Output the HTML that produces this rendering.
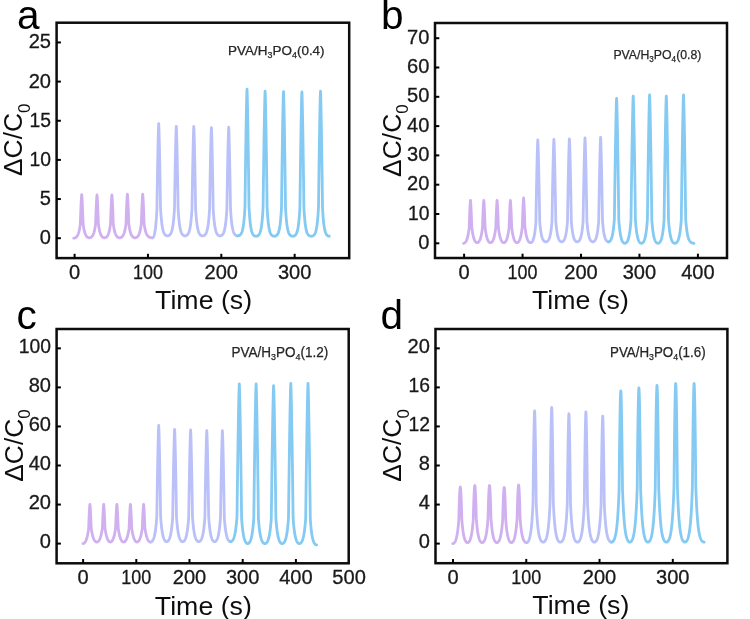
<!DOCTYPE html>
<html><head><meta charset="utf-8"><title>chart</title>
<style>
html,body{margin:0;padding:0;background:#fff;}
body{width:750px;height:619px;overflow:hidden;font-family:"Liberation Sans",sans-serif;}
</style></head><body>
<svg width="750" height="619" viewBox="0 0 750 619" style="display:block">
<defs><filter id="soft" x="0" y="0" width="100%" height="100%" filterUnits="objectBoundingBox"><feGaussianBlur stdDeviation="0.6"/></filter><filter id="soft2" x="0" y="0" width="750" height="619" filterUnits="userSpaceOnUse"><feGaussianBlur stdDeviation="0.55"/></filter></defs>
<g filter="url(#soft)">
<rect x="-5" y="-5" width="760" height="629" fill="#fff"/>
<g filter="url(#soft2)">
<path d="M73.70 238.20 L73.80 238.20 L73.90 238.19 L74.00 238.19 L74.10 238.18 L74.20 238.17 L74.30 238.15 L74.40 238.13 L74.50 238.11 L74.60 238.09 L74.70 238.06 L74.80 238.03 L74.90 237.99 L75.00 237.96 L75.10 237.92 L75.20 237.87 L75.30 237.83 L75.40 237.77 L75.50 237.72 L75.60 237.66 L75.70 237.60 L75.80 237.53 L75.90 237.46 L76.00 237.38 L76.10 237.30 L76.20 237.21 L76.30 237.12 L76.40 237.02 L76.50 236.92 L76.60 236.81 L76.70 236.70 L76.80 236.58 L76.90 236.45 L77.00 236.31 L77.10 236.17 L77.20 236.02 L77.30 235.86 L77.40 235.69 L77.50 235.52 L77.60 235.33 L77.70 235.13 L77.80 234.93 L77.90 234.71 L78.00 234.48 L78.10 234.24 L78.20 233.98 L78.30 233.72 L78.40 233.44 L78.50 233.14 L78.60 232.83 L78.70 232.50 L78.80 232.16 L78.90 231.79 L79.00 231.41 L79.10 231.01 L79.20 230.59 L79.30 230.15 L79.40 229.68 L79.50 229.19 L79.60 228.67 L79.70 228.13 L79.80 227.56 L79.90 226.96 L80.00 226.33 L80.10 225.67 L80.20 224.97 L80.30 224.24 L80.40 221.31 L80.50 218.48 L80.60 215.74 L80.70 213.09 L80.80 210.55 L80.90 208.12 L81.00 205.81 L81.10 203.63 L81.20 201.59 L81.30 199.70 L81.40 198.00 L81.50 196.52 L81.60 195.31 L81.70 194.57 L81.70 194.57 L81.80 195.30 L81.90 196.50 L82.00 197.97 L82.10 199.66 L82.20 201.53 L82.30 203.55 L82.40 205.71 L82.50 208.00 L82.60 210.41 L82.70 212.93 L82.80 215.55 L82.90 218.26 L83.00 221.07 L83.10 223.97 L83.20 224.71 L83.30 225.41 L83.40 226.08 L83.50 226.71 L83.60 227.31 L83.70 227.89 L83.80 228.43 L83.90 228.95 L84.00 229.44 L84.10 229.91 L84.20 230.35 L84.30 230.78 L84.40 231.18 L84.50 231.56 L84.60 231.93 L84.70 232.27 L84.80 232.60 L84.90 232.91 L85.00 233.21 L85.10 233.49 L85.20 233.76 L85.30 234.01 L85.40 234.25 L85.50 234.48 L85.60 234.70 L85.70 234.91 L85.80 235.10 L85.90 235.29 L86.00 235.46 L86.10 235.63 L86.20 235.79 L86.30 235.94 L86.40 236.08 L86.50 236.21 L86.60 236.34 L86.70 236.46 L86.80 236.57 L86.90 236.68 L87.00 236.78 L87.10 236.87 L87.20 236.96 L87.30 237.05 L87.40 237.12 L87.50 237.20 L87.60 237.27 L87.70 237.33 L87.80 237.39 L87.90 237.44 L88.00 237.49 L88.10 237.54 L88.20 237.58 L88.30 237.62 L88.40 237.66 L88.50 237.69 L88.60 237.71 L88.70 237.74 L88.80 237.76 L88.90 237.77 L89.00 237.79 L89.10 237.80 L89.20 237.80 L89.30 237.81 L89.35 237.81 L89.45 237.81 L89.55 237.80 L89.65 237.79 L89.75 237.78 L89.85 237.77 L89.95 237.75 L90.05 237.73 L90.15 237.70 L90.25 237.67 L90.35 237.64 L90.45 237.60 L90.55 237.56 L90.65 237.52 L90.75 237.47 L90.85 237.42 L90.95 237.36 L91.05 237.30 L91.15 237.24 L91.25 237.17 L91.35 237.09 L91.45 237.01 L91.55 236.93 L91.65 236.84 L91.75 236.74 L91.85 236.64 L91.95 236.53 L92.05 236.41 L92.15 236.29 L92.25 236.16 L92.35 236.03 L92.45 235.88 L92.55 235.73 L92.65 235.57 L92.75 235.40 L92.85 235.22 L92.95 235.03 L93.05 234.83 L93.15 234.62 L93.25 234.40 L93.35 234.17 L93.45 233.92 L93.55 233.66 L93.65 233.39 L93.75 233.11 L93.85 232.80 L93.95 232.49 L94.05 232.15 L94.15 231.80 L94.25 231.43 L94.35 231.04 L94.45 230.63 L94.55 230.20 L94.65 229.75 L94.75 229.28 L94.85 228.77 L94.95 228.25 L95.05 227.69 L95.15 227.11 L95.25 226.50 L95.35 225.86 L95.45 225.18 L95.55 224.47 L95.65 222.65 L95.75 219.82 L95.85 217.08 L95.95 214.44 L96.05 211.89 L96.15 209.45 L96.25 207.12 L96.35 204.91 L96.45 202.84 L96.55 200.91 L96.65 199.14 L96.75 197.57 L96.85 196.24 L96.95 195.23 L97.00 194.96 L97.10 195.68 L97.20 196.87 L97.30 198.33 L97.40 200.00 L97.50 201.85 L97.60 203.86 L97.70 206.00 L97.80 208.27 L97.90 210.66 L98.00 213.15 L98.10 215.75 L98.20 218.44 L98.30 221.23 L98.40 224.10 L98.50 224.83 L98.60 225.53 L98.70 226.20 L98.80 226.83 L98.90 227.44 L99.00 228.01 L99.10 228.56 L99.20 229.07 L99.30 229.57 L99.40 230.03 L99.50 230.48 L99.60 230.90 L99.70 231.30 L99.80 231.69 L99.90 232.05 L100.00 232.39 L100.10 232.72 L100.20 233.03 L100.30 233.33 L100.40 233.61 L100.50 233.88 L100.60 234.13 L100.70 234.37 L100.80 234.60 L100.90 234.82 L101.00 235.02 L101.10 235.22 L101.20 235.40 L101.30 235.57 L101.40 235.74 L101.50 235.90 L101.60 236.04 L101.70 236.18 L101.80 236.32 L101.90 236.44 L102.00 236.56 L102.10 236.67 L102.20 236.78 L102.30 236.87 L102.40 236.97 L102.50 237.05 L102.60 237.13 L102.70 237.21 L102.80 237.28 L102.90 237.34 L103.00 237.40 L103.10 237.46 L103.20 237.51 L103.30 237.56 L103.40 237.60 L103.50 237.64 L103.60 237.67 L103.70 237.70 L103.80 237.73 L103.90 237.75 L104.00 237.77 L104.10 237.79 L104.20 237.80 L104.30 237.80 L104.40 237.81 L104.45 237.81 L104.55 237.81 L104.65 237.80 L104.75 237.79 L104.85 237.78 L104.95 237.76 L105.05 237.74 L105.15 237.72 L105.25 237.69 L105.35 237.66 L105.45 237.62 L105.55 237.58 L105.65 237.54 L105.75 237.49 L105.85 237.43 L105.95 237.38 L106.05 237.31 L106.15 237.24 L106.25 237.17 L106.35 237.09 L106.45 237.01 L106.55 236.92 L106.65 236.83 L106.75 236.72 L106.85 236.62 L106.95 236.50 L107.05 236.38 L107.15 236.25 L107.25 236.12 L107.35 235.97 L107.45 235.82 L107.55 235.66 L107.65 235.49 L107.75 235.31 L107.85 235.12 L107.95 234.92 L108.05 234.71 L108.15 234.49 L108.25 234.25 L108.35 234.01 L108.45 233.75 L108.55 233.47 L108.65 233.18 L108.75 232.88 L108.85 232.56 L108.95 232.22 L109.05 231.87 L109.15 231.50 L109.25 231.11 L109.35 230.69 L109.45 230.26 L109.55 229.80 L109.65 229.32 L109.75 228.82 L109.85 228.29 L109.95 227.73 L110.05 227.14 L110.15 226.52 L110.25 225.87 L110.35 225.19 L110.45 224.47 L110.55 222.65 L110.65 219.82 L110.75 217.08 L110.85 214.44 L110.95 211.89 L111.05 209.45 L111.15 207.12 L111.25 204.91 L111.35 202.84 L111.45 200.91 L111.55 199.14 L111.65 197.57 L111.75 196.24 L111.85 195.23 L111.90 194.96 L112.00 195.68 L112.10 196.87 L112.20 198.33 L112.30 200.00 L112.40 201.85 L112.50 203.86 L112.60 206.00 L112.70 208.27 L112.80 210.66 L112.90 213.15 L113.00 215.75 L113.10 218.44 L113.20 221.23 L113.30 224.10 L113.40 224.82 L113.50 225.52 L113.60 226.17 L113.70 226.80 L113.80 227.39 L113.90 227.96 L114.00 228.50 L114.10 229.01 L114.20 229.49 L114.30 229.96 L114.40 230.40 L114.50 230.81 L114.60 231.21 L114.70 231.59 L114.80 231.95 L114.90 232.29 L115.00 232.61 L115.10 232.92 L115.20 233.21 L115.30 233.49 L115.40 233.76 L115.50 234.01 L115.60 234.25 L115.70 234.47 L115.80 234.69 L115.90 234.89 L116.00 235.08 L116.10 235.27 L116.20 235.44 L116.30 235.61 L116.40 235.76 L116.50 235.91 L116.60 236.05 L116.70 236.19 L116.80 236.31 L116.90 236.43 L117.00 236.54 L117.10 236.65 L117.20 236.75 L117.30 236.84 L117.40 236.93 L117.50 237.02 L117.60 237.09 L117.70 237.17 L117.80 237.24 L117.90 237.30 L118.00 237.36 L118.10 237.41 L118.20 237.47 L118.30 237.51 L118.40 237.56 L118.50 237.60 L118.60 237.63 L118.70 237.67 L118.80 237.69 L118.90 237.72 L119.00 237.74 L119.10 237.76 L119.20 237.78 L119.30 237.79 L119.40 237.80 L119.50 237.80 L119.60 237.81 L119.65 237.81 L119.75 237.81 L119.85 237.80 L119.95 237.79 L120.05 237.78 L120.15 237.77 L120.25 237.75 L120.35 237.73 L120.45 237.71 L120.55 237.68 L120.65 237.65 L120.75 237.61 L120.85 237.57 L120.95 237.53 L121.05 237.48 L121.15 237.43 L121.25 237.38 L121.35 237.32 L121.45 237.26 L121.55 237.19 L121.65 237.12 L121.75 237.04 L121.85 236.96 L121.95 236.87 L122.05 236.78 L122.15 236.68 L122.25 236.57 L122.35 236.46 L122.45 236.35 L122.55 236.22 L122.65 236.09 L122.75 235.95 L122.85 235.80 L122.95 235.65 L123.05 235.48 L123.15 235.31 L123.25 235.13 L123.35 234.94 L123.45 234.74 L123.55 234.52 L123.65 234.30 L123.75 234.06 L123.85 233.81 L123.95 233.55 L124.05 233.27 L124.15 232.98 L124.25 232.68 L124.35 232.35 L124.45 232.02 L124.55 231.66 L124.65 231.28 L124.75 230.89 L124.85 230.48 L124.95 230.04 L125.05 229.58 L125.15 229.10 L125.25 228.59 L125.35 228.06 L125.45 227.49 L125.55 226.90 L125.65 226.28 L125.75 225.63 L125.85 224.94 L125.95 224.22 L126.05 222.37 L126.15 219.49 L126.25 216.70 L126.35 214.01 L126.45 211.42 L126.55 208.93 L126.65 206.56 L126.75 204.31 L126.85 202.20 L126.95 200.23 L127.05 198.44 L127.15 196.84 L127.25 195.48 L127.35 194.46 L127.40 194.18 L127.50 194.91 L127.60 196.12 L127.70 197.61 L127.80 199.31 L127.90 201.20 L128.00 203.24 L128.10 205.42 L128.20 207.73 L128.30 210.16 L128.40 212.70 L128.50 215.35 L128.60 218.09 L128.70 220.92 L128.80 223.85 L128.90 224.59 L129.00 225.30 L129.10 225.97 L129.20 226.61 L129.30 227.22 L129.40 227.80 L129.50 228.35 L129.60 228.87 L129.70 229.36 L129.80 229.84 L129.90 230.29 L130.00 230.71 L130.10 231.12 L130.20 231.51 L130.30 231.87 L130.40 232.22 L130.50 232.55 L130.60 232.87 L130.70 233.17 L130.80 233.45 L130.90 233.72 L131.00 233.98 L131.10 234.22 L131.20 234.45 L131.30 234.67 L131.40 234.88 L131.50 235.08 L131.60 235.26 L131.70 235.44 L131.80 235.61 L131.90 235.77 L132.00 235.92 L132.10 236.06 L132.20 236.20 L132.30 236.33 L132.40 236.45 L132.50 236.56 L132.60 236.67 L132.70 236.77 L132.80 236.87 L132.90 236.96 L133.00 237.04 L133.10 237.12 L133.20 237.19 L133.30 237.26 L133.40 237.33 L133.50 237.38 L133.60 237.44 L133.70 237.49 L133.80 237.54 L133.90 237.58 L134.00 237.62 L134.10 237.65 L134.20 237.69 L134.30 237.71 L134.40 237.74 L134.50 237.76 L134.60 237.77 L134.70 237.79 L134.80 237.80 L134.90 237.80 L135.00 237.81 L135.05 237.81 L135.15 237.81 L135.25 237.80 L135.35 237.79 L135.45 237.78 L135.55 237.77 L135.65 237.75 L135.75 237.73 L135.85 237.70 L135.95 237.67 L136.05 237.64 L136.15 237.60 L136.25 237.56 L136.35 237.51 L136.45 237.47 L136.55 237.41 L136.65 237.36 L136.75 237.29 L136.85 237.23 L136.95 237.16 L137.05 237.08 L137.15 237.00 L137.25 236.91 L137.35 236.82 L137.45 236.72 L137.55 236.62 L137.65 236.51 L137.75 236.39 L137.85 236.26 L137.95 236.13 L138.05 235.99 L138.15 235.85 L138.25 235.69 L138.35 235.53 L138.45 235.35 L138.55 235.17 L138.65 234.98 L138.75 234.78 L138.85 234.56 L138.95 234.34 L139.05 234.10 L139.15 233.85 L139.25 233.59 L139.35 233.31 L139.45 233.02 L139.55 232.71 L139.65 232.39 L139.75 232.05 L139.85 231.69 L139.95 231.32 L140.05 230.92 L140.15 230.50 L140.25 230.07 L140.35 229.60 L140.45 229.12 L140.55 228.61 L140.65 228.07 L140.75 227.51 L140.85 226.92 L140.95 226.29 L141.05 225.64 L141.15 224.95 L141.25 224.22 L141.35 222.37 L141.45 219.49 L141.55 216.70 L141.65 214.01 L141.75 211.42 L141.85 208.93 L141.95 206.56 L142.05 204.31 L142.15 202.20 L142.25 200.23 L142.35 198.44 L142.45 196.84 L142.55 195.48 L142.65 194.46 L142.70 194.18 L142.80 194.91 L142.90 196.12 L143.00 197.61 L143.10 199.31 L143.20 201.20 L143.30 203.24 L143.40 205.42 L143.50 207.73 L143.60 210.16 L143.70 212.70 L143.80 215.35 L143.90 218.09 L144.00 220.92 L144.10 223.85 L144.20 224.55 L144.30 225.22 L144.40 225.85 L144.50 226.45 L144.60 227.03 L144.70 227.58 L144.80 228.09 L144.90 228.59 L145.00 229.06 L145.10 229.51 L145.20 229.93 L145.30 230.34 L145.40 230.72 L145.50 231.09 L145.60 231.44 L145.70 231.77 L145.80 232.08 L145.90 232.38 L146.00 232.67 L146.10 232.94 L146.20 233.20 L146.30 233.44 L146.40 233.67 L146.50 233.90 L146.60 234.11 L146.70 234.31 L146.80 234.50 L146.90 234.68 L147.00 234.85 L147.10 235.01 L147.20 235.17 L147.30 235.32 L147.40 235.46 L147.50 235.59 L147.60 235.72 L147.70 235.84 L147.80 235.96 L147.90 236.07 L148.00 236.17 L148.10 236.27 L148.20 236.36 L148.30 236.45 L148.40 236.54 L148.50 236.62 L148.60 236.69 L148.70 236.77 L148.80 236.83 L148.90 236.90 L149.00 236.96 L149.10 237.02 L149.20 237.08 L149.30 237.13 L149.40 237.18 L149.50 237.22 L149.60 237.27 L149.70 237.31 L149.80 237.35 L149.90 237.39 L150.00 237.43 L150.10 237.46 L150.20 237.49 L150.30 237.52 L150.40 237.55 L150.50 237.57 L150.60 237.60 L150.70 237.62 L150.80 237.64 L150.90 237.66 L151.00 237.68 L151.10 237.70 L151.20 237.71 L151.30 237.73 L151.40 237.74 L151.50 237.75 L151.60 237.76 L151.70 237.77 L151.80 237.78 L151.90 237.79 L152.00 237.79 L152.10 237.80 L152.20 237.80 L152.30 237.81 L152.40 237.81 L152.50 237.81 L152.50 237.81" fill="none" stroke="#d0b0ef" stroke-width="2.8" stroke-linejoin="round" stroke-linecap="round"/>
<path d="M152.50 237.81 L152.60 237.80 L152.70 237.77 L152.80 237.73 L152.90 237.67 L153.00 237.59 L153.10 237.49 L153.20 237.38 L153.30 237.24 L153.40 237.09 L153.50 236.92 L153.60 236.72 L153.70 236.51 L153.80 236.27 L153.90 236.01 L154.00 235.73 L154.10 235.42 L154.20 235.09 L154.30 234.73 L154.40 234.34 L154.50 233.92 L154.60 233.47 L154.70 232.99 L154.80 232.48 L154.90 231.93 L155.00 231.34 L155.10 230.71 L155.20 230.04 L155.30 229.33 L155.40 228.57 L155.50 227.76 L155.60 226.89 L155.70 225.98 L155.80 225.00 L155.90 223.96 L156.00 222.86 L156.10 221.69 L156.20 220.44 L156.30 219.12 L156.40 217.72 L156.50 216.23 L156.60 214.64 L156.70 212.96 L156.80 211.18 L156.90 209.28 L157.00 202.70 L157.10 196.27 L157.20 190.00 L157.30 183.90 L157.40 177.97 L157.50 172.22 L157.60 166.65 L157.70 161.29 L157.80 156.13 L157.90 151.21 L158.00 146.52 L158.10 142.09 L158.20 137.95 L158.30 134.13 L158.40 130.67 L158.50 127.66 L158.60 125.20 L158.70 123.71 L158.70 123.71 L158.80 125.18 L158.90 127.59 L159.00 130.55 L159.10 133.95 L159.20 137.70 L159.30 141.77 L159.40 146.13 L159.50 150.73 L159.60 155.58 L159.70 160.64 L159.80 165.92 L159.90 171.38 L160.00 177.04 L160.10 182.87 L160.20 188.87 L160.30 195.03 L160.40 201.35 L160.50 207.82 L160.60 209.47 L160.70 211.03 L160.80 212.50 L160.90 213.89 L161.00 215.19 L161.10 216.43 L161.20 217.59 L161.30 218.69 L161.40 219.72 L161.50 220.69 L161.60 221.61 L161.70 222.48 L161.80 223.29 L161.90 224.06 L162.00 224.79 L162.10 225.47 L162.20 226.12 L162.30 226.72 L162.40 227.30 L162.50 227.84 L162.60 228.34 L162.70 228.82 L162.80 229.28 L162.90 229.70 L163.00 230.10 L163.10 230.48 L163.20 230.84 L163.30 231.17 L163.40 231.49 L163.50 231.79 L163.60 232.07 L163.70 232.33 L163.80 232.58 L163.90 232.82 L164.00 233.04 L164.10 233.24 L164.20 233.44 L164.30 233.62 L164.40 233.80 L164.50 233.96 L164.60 234.11 L164.70 234.25 L164.80 234.39 L164.90 234.51 L165.00 234.63 L165.10 234.74 L165.20 234.85 L165.30 234.94 L165.40 235.03 L165.50 235.12 L165.60 235.20 L165.70 235.27 L165.80 235.34 L165.90 235.40 L166.00 235.46 L166.10 235.51 L166.20 235.56 L166.30 235.61 L166.40 235.65 L166.50 235.68 L166.60 235.72 L166.70 235.74 L166.80 235.77 L166.90 235.79 L167.00 235.81 L167.10 235.82 L167.20 235.84 L167.30 235.84 L167.40 235.85 L167.50 235.85 L167.50 235.85 L167.60 235.85 L167.70 235.84 L167.80 235.84 L167.90 235.83 L168.00 235.81 L168.10 235.79 L168.20 235.77 L168.30 235.75 L168.40 235.72 L168.50 235.69 L168.60 235.65 L168.70 235.61 L168.80 235.57 L168.90 235.52 L169.00 235.47 L169.10 235.41 L169.20 235.35 L169.30 235.29 L169.40 235.21 L169.50 235.14 L169.60 235.05 L169.70 234.97 L169.80 234.87 L169.90 234.77 L170.00 234.66 L170.10 234.55 L170.20 234.42 L170.30 234.29 L170.40 234.15 L170.50 234.01 L170.60 233.85 L170.70 233.68 L170.80 233.50 L170.90 233.31 L171.00 233.11 L171.10 232.89 L171.20 232.66 L171.30 232.42 L171.40 232.16 L171.50 231.89 L171.60 231.60 L171.70 231.29 L171.80 230.96 L171.90 230.61 L172.00 230.24 L172.10 229.85 L172.20 229.44 L172.30 229.00 L172.40 228.53 L172.50 228.03 L172.60 227.50 L172.70 226.95 L172.80 226.35 L172.90 225.72 L173.00 225.06 L173.10 224.35 L173.20 223.60 L173.30 222.80 L173.40 221.96 L173.50 221.06 L173.60 220.11 L173.70 219.10 L173.80 218.04 L173.90 216.90 L174.00 215.70 L174.10 214.42 L174.20 213.07 L174.30 211.64 L174.40 210.11 L174.50 208.50 L174.60 202.19 L174.70 196.03 L174.80 190.02 L174.90 184.16 L175.00 178.48 L175.10 172.96 L175.20 167.63 L175.30 162.48 L175.40 157.54 L175.50 152.81 L175.60 148.32 L175.70 144.07 L175.80 140.10 L175.90 136.44 L176.00 133.13 L176.10 130.23 L176.20 127.88 L176.30 126.45 L176.30 126.45 L176.40 127.88 L176.50 130.23 L176.60 133.13 L176.70 136.44 L176.80 140.10 L176.90 144.07 L177.00 148.32 L177.10 152.81 L177.20 157.54 L177.30 162.48 L177.40 167.63 L177.50 172.96 L177.60 178.48 L177.70 184.16 L177.80 190.02 L177.90 196.03 L178.00 202.19 L178.10 208.50 L178.20 210.12 L178.30 211.64 L178.40 213.08 L178.50 214.43 L178.60 215.71 L178.70 216.91 L178.80 218.05 L178.90 219.12 L179.00 220.12 L179.10 221.07 L179.20 221.97 L179.30 222.82 L179.40 223.61 L179.50 224.37 L179.60 225.07 L179.70 225.74 L179.80 226.37 L179.90 226.96 L180.00 227.52 L180.10 228.05 L180.20 228.55 L180.30 229.01 L180.40 229.46 L180.50 229.87 L180.60 230.26 L180.70 230.63 L180.80 230.98 L180.90 231.31 L181.00 231.62 L181.10 231.91 L181.20 232.18 L181.30 232.44 L181.40 232.68 L181.50 232.91 L181.60 233.13 L181.70 233.33 L181.80 233.52 L181.90 233.70 L182.00 233.87 L182.10 234.03 L182.20 234.17 L182.30 234.31 L182.40 234.45 L182.50 234.57 L182.60 234.68 L182.70 234.79 L182.80 234.89 L182.90 234.99 L183.00 235.07 L183.10 235.16 L183.20 235.23 L183.30 235.30 L183.40 235.37 L183.50 235.43 L183.60 235.48 L183.70 235.54 L183.80 235.58 L183.90 235.63 L184.00 235.66 L184.10 235.70 L184.20 235.73 L184.30 235.76 L184.40 235.78 L184.50 235.80 L184.60 235.82 L184.70 235.83 L184.80 235.84 L184.90 235.85 L185.00 235.85 L185.05 235.85 L185.15 235.85 L185.25 235.84 L185.35 235.84 L185.45 235.82 L185.55 235.81 L185.65 235.79 L185.75 235.77 L185.85 235.74 L185.95 235.71 L186.05 235.68 L186.15 235.65 L186.25 235.60 L186.35 235.56 L186.45 235.51 L186.55 235.46 L186.65 235.40 L186.75 235.34 L186.85 235.27 L186.95 235.19 L187.05 235.12 L187.15 235.03 L187.25 234.94 L187.35 234.84 L187.45 234.74 L187.55 234.63 L187.65 234.51 L187.75 234.38 L187.85 234.25 L187.95 234.10 L188.05 233.95 L188.15 233.78 L188.25 233.61 L188.35 233.43 L188.45 233.23 L188.55 233.02 L188.65 232.80 L188.75 232.56 L188.85 232.31 L188.95 232.05 L189.05 231.77 L189.15 231.47 L189.25 231.15 L189.35 230.81 L189.45 230.45 L189.55 230.07 L189.65 229.67 L189.75 229.24 L189.85 228.78 L189.95 228.30 L190.05 227.79 L190.15 227.25 L190.25 226.67 L190.35 226.06 L190.45 225.41 L190.55 224.72 L190.65 223.99 L190.75 223.22 L190.85 222.40 L190.95 221.53 L191.05 220.61 L191.15 219.63 L191.25 218.59 L191.35 217.49 L191.45 216.32 L191.55 215.08 L191.65 213.76 L191.75 212.37 L191.85 210.89 L191.95 209.32 L192.05 205.33 L192.15 199.09 L192.25 193.00 L192.35 187.07 L192.45 181.30 L192.55 175.70 L192.65 170.27 L192.75 165.03 L192.85 159.98 L192.95 155.15 L193.05 150.54 L193.15 146.16 L193.25 142.05 L193.35 138.23 L193.45 134.74 L193.55 131.62 L193.65 128.98 L193.75 126.99 L193.80 126.45 L193.90 127.88 L194.00 130.23 L194.10 133.13 L194.20 136.44 L194.30 140.10 L194.40 144.07 L194.50 148.32 L194.60 152.81 L194.70 157.54 L194.80 162.48 L194.90 167.63 L195.00 172.96 L195.10 178.48 L195.20 184.16 L195.30 190.02 L195.40 196.03 L195.50 202.19 L195.60 208.50 L195.70 210.11 L195.80 211.64 L195.90 213.07 L196.00 214.42 L196.10 215.70 L196.20 216.90 L196.30 218.04 L196.40 219.10 L196.50 220.11 L196.60 221.06 L196.70 221.96 L196.80 222.80 L196.90 223.60 L197.00 224.35 L197.10 225.06 L197.20 225.72 L197.30 226.35 L197.40 226.95 L197.50 227.50 L197.60 228.03 L197.70 228.53 L197.80 229.00 L197.90 229.44 L198.00 229.85 L198.10 230.24 L198.20 230.61 L198.30 230.96 L198.40 231.29 L198.50 231.60 L198.60 231.89 L198.70 232.16 L198.80 232.42 L198.90 232.66 L199.00 232.89 L199.10 233.11 L199.20 233.31 L199.30 233.50 L199.40 233.68 L199.50 233.85 L199.60 234.01 L199.70 234.15 L199.80 234.29 L199.90 234.42 L200.00 234.55 L200.10 234.66 L200.20 234.77 L200.30 234.87 L200.40 234.97 L200.50 235.05 L200.60 235.14 L200.70 235.21 L200.80 235.29 L200.90 235.35 L201.00 235.41 L201.10 235.47 L201.20 235.52 L201.30 235.57 L201.40 235.61 L201.50 235.65 L201.60 235.69 L201.70 235.72 L201.80 235.75 L201.90 235.77 L202.00 235.79 L202.10 235.81 L202.20 235.83 L202.30 235.84 L202.40 235.84 L202.50 235.85 L202.60 235.85 L202.60 235.85 L202.70 235.85 L202.80 235.84 L202.90 235.84 L203.00 235.83 L203.10 235.81 L203.20 235.79 L203.30 235.77 L203.40 235.75 L203.50 235.72 L203.60 235.69 L203.70 235.65 L203.80 235.61 L203.90 235.57 L204.00 235.52 L204.10 235.47 L204.20 235.42 L204.30 235.36 L204.40 235.29 L204.50 235.22 L204.60 235.14 L204.70 235.06 L204.80 234.98 L204.90 234.88 L205.00 234.78 L205.10 234.68 L205.20 234.56 L205.30 234.44 L205.40 234.31 L205.50 234.17 L205.60 234.02 L205.70 233.87 L205.80 233.70 L205.90 233.52 L206.00 233.34 L206.10 233.14 L206.20 232.92 L206.30 232.70 L206.40 232.46 L206.50 232.20 L206.60 231.93 L206.70 231.64 L206.80 231.34 L206.90 231.01 L207.00 230.67 L207.10 230.30 L207.20 229.92 L207.30 229.51 L207.40 229.07 L207.50 228.61 L207.60 228.12 L207.70 227.59 L207.80 227.04 L207.90 226.46 L208.00 225.83 L208.10 225.17 L208.20 224.47 L208.30 223.73 L208.40 222.94 L208.50 222.11 L208.60 221.22 L208.70 220.28 L208.80 219.28 L208.90 218.23 L209.00 217.11 L209.10 215.92 L209.20 214.65 L209.30 213.32 L209.40 211.90 L209.50 210.39 L209.60 208.79 L209.70 202.55 L209.80 196.45 L209.90 190.51 L210.00 184.72 L210.10 179.09 L210.20 173.63 L210.30 168.36 L210.40 163.27 L210.50 158.38 L210.60 153.70 L210.70 149.26 L210.80 145.06 L210.90 141.13 L211.00 137.51 L211.10 134.23 L211.20 131.37 L211.30 129.04 L211.40 127.62 L211.40 127.62 L211.50 129.04 L211.60 131.37 L211.70 134.23 L211.80 137.51 L211.90 141.13 L212.00 145.06 L212.10 149.26 L212.20 153.70 L212.30 158.38 L212.40 163.27 L212.50 168.36 L212.60 173.63 L212.70 179.09 L212.80 184.72 L212.90 190.51 L213.00 196.45 L213.10 202.55 L213.20 208.79 L213.30 210.40 L213.40 211.91 L213.50 213.33 L213.60 214.67 L213.70 215.94 L213.80 217.13 L213.90 218.26 L214.00 219.32 L214.10 220.32 L214.20 221.26 L214.30 222.15 L214.40 222.99 L214.50 223.78 L214.60 224.52 L214.70 225.22 L214.80 225.88 L214.90 226.51 L215.00 227.09 L215.10 227.65 L215.20 228.17 L215.30 228.66 L215.40 229.13 L215.50 229.57 L215.60 229.98 L215.70 230.37 L215.80 230.73 L215.90 231.08 L216.00 231.40 L216.10 231.71 L216.20 231.99 L216.30 232.27 L216.40 232.52 L216.50 232.76 L216.60 232.99 L216.70 233.20 L216.80 233.40 L216.90 233.59 L217.00 233.77 L217.10 233.93 L217.20 234.09 L217.30 234.24 L217.40 234.37 L217.50 234.50 L217.60 234.62 L217.70 234.74 L217.80 234.84 L217.90 234.94 L218.00 235.03 L218.10 235.12 L218.20 235.20 L218.30 235.27 L218.40 235.34 L218.50 235.41 L218.60 235.47 L218.70 235.52 L218.80 235.57 L218.90 235.61 L219.00 235.65 L219.10 235.69 L219.20 235.72 L219.30 235.75 L219.40 235.78 L219.50 235.80 L219.60 235.82 L219.70 235.83 L219.80 235.84 L219.90 235.85 L220.00 235.85 L220.05 235.85 L220.15 235.85 L220.25 235.84 L220.35 235.84 L220.45 235.82 L220.55 235.81 L220.65 235.79 L220.75 235.76 L220.85 235.74 L220.95 235.71 L221.05 235.67 L221.15 235.63 L221.25 235.59 L221.35 235.54 L221.45 235.49 L221.55 235.44 L221.65 235.37 L221.75 235.31 L221.85 235.24 L221.95 235.16 L222.05 235.07 L222.15 234.98 L222.25 234.89 L222.35 234.79 L222.45 234.68 L222.55 234.56 L222.65 234.43 L222.75 234.30 L222.85 234.16 L222.95 234.00 L223.05 233.84 L223.15 233.67 L223.25 233.49 L223.35 233.29 L223.45 233.09 L223.55 232.87 L223.65 232.63 L223.75 232.38 L223.85 232.12 L223.95 231.84 L224.05 231.54 L224.15 231.22 L224.25 230.89 L224.35 230.53 L224.45 230.15 L224.55 229.75 L224.65 229.33 L224.75 228.87 L224.85 228.39 L224.95 227.89 L225.05 227.35 L225.15 226.77 L225.25 226.16 L225.35 225.52 L225.45 224.84 L225.55 224.11 L225.65 223.34 L225.75 222.52 L225.85 221.66 L225.95 220.74 L226.05 219.77 L226.15 218.73 L226.25 217.64 L226.35 216.47 L226.45 215.24 L226.55 213.93 L226.65 212.54 L226.75 211.07 L226.85 209.51 L226.95 205.55 L227.05 199.35 L227.15 193.31 L227.25 187.42 L227.35 181.69 L227.45 176.13 L227.55 170.74 L227.65 165.54 L227.75 160.53 L227.85 155.73 L227.95 151.15 L228.05 146.80 L228.15 142.72 L228.25 138.93 L228.35 135.46 L228.45 132.37 L228.55 129.74 L228.65 127.77 L228.70 127.23 L228.80 128.66 L228.90 130.99 L229.00 133.86 L229.10 137.15 L229.20 140.79 L229.30 144.73 L229.40 148.94 L229.50 153.41 L229.60 158.10 L229.70 163.01 L229.80 168.11 L229.90 173.41 L230.00 178.89 L230.10 184.53 L230.20 190.34 L230.30 196.31 L230.40 202.43 L230.50 208.70 L230.60 210.30 L230.70 211.81 L230.80 213.23 L230.90 214.58 L231.00 215.84 L231.10 217.04 L231.20 218.16 L231.30 219.22 L231.40 220.23 L231.50 221.17 L231.60 222.06 L231.70 222.90 L231.80 223.69 L231.90 224.43 L232.00 225.13 L232.10 225.80 L232.20 226.42 L232.30 227.01 L232.40 227.56 L232.50 228.09 L232.60 228.58 L232.70 229.04 L232.80 229.48 L232.90 229.90 L233.00 230.28 L233.10 230.65 L233.20 231.00 L233.30 231.32 L233.40 231.63 L233.50 231.92 L233.60 232.19 L233.70 232.44 L233.80 232.69 L233.90 232.91 L234.00 233.13 L234.10 233.33 L234.20 233.52 L234.30 233.69 L234.40 233.86 L234.50 234.02 L234.60 234.17 L234.70 234.30 L234.80 234.43 L234.90 234.56 L235.00 234.67 L235.10 234.78 L235.20 234.88 L235.30 234.97 L235.40 235.06 L235.50 235.14 L235.60 235.22 L235.70 235.29 L235.80 235.35 L235.90 235.42 L236.00 235.47 L236.10 235.52 L236.20 235.57 L236.30 235.61 L236.40 235.65 L236.50 235.69 L236.60 235.72 L236.70 235.75 L236.80 235.77 L236.90 235.79 L237.00 235.81 L237.10 235.83 L237.20 235.84 L237.30 235.84 L237.40 235.85 L237.50 235.85 L237.50 235.85" fill="none" stroke="#bac0f8" stroke-width="2.8" stroke-linejoin="round" stroke-linecap="round"/>
<path d="M237.50 235.85 L237.60 235.85 L237.70 235.85 L237.80 235.84 L237.90 235.83 L238.00 235.82 L238.10 235.81 L238.20 235.80 L238.30 235.78 L238.40 235.76 L238.50 235.74 L238.60 235.72 L238.70 235.69 L238.80 235.66 L238.90 235.63 L239.00 235.59 L239.10 235.55 L239.20 235.51 L239.30 235.46 L239.40 235.42 L239.50 235.36 L239.60 235.31 L239.70 235.24 L239.80 235.18 L239.90 235.11 L240.00 235.03 L240.10 234.95 L240.20 234.86 L240.30 234.77 L240.40 234.67 L240.50 234.57 L240.60 234.45 L240.70 234.33 L240.80 234.20 L240.90 234.07 L241.00 233.92 L241.10 233.76 L241.20 233.60 L241.30 233.42 L241.40 233.23 L241.50 233.03 L241.60 232.81 L241.70 232.58 L241.80 232.34 L241.90 232.08 L242.00 231.80 L242.10 231.51 L242.20 231.20 L242.30 230.86 L242.40 230.51 L242.50 230.13 L242.60 229.73 L242.70 229.30 L242.80 228.84 L242.90 228.35 L243.00 227.84 L243.10 227.28 L243.20 226.70 L243.30 226.07 L243.40 225.41 L243.50 224.70 L243.60 223.94 L243.70 223.14 L243.80 222.29 L243.90 221.38 L244.00 220.41 L244.10 219.38 L244.20 218.28 L244.30 217.11 L244.40 215.87 L244.50 214.55 L244.60 213.14 L244.70 211.64 L244.80 210.04 L244.90 208.34 L245.00 206.53 L245.10 198.41 L245.20 190.45 L245.30 182.67 L245.40 175.07 L245.50 167.65 L245.60 160.43 L245.70 153.42 L245.80 146.62 L245.90 140.04 L246.00 133.69 L246.10 127.60 L246.20 121.77 L246.30 116.23 L246.40 110.99 L246.50 106.09 L246.60 101.58 L246.70 97.49 L246.80 93.92 L246.90 91.02 L247.00 89.26 L247.00 89.26 L247.10 91.03 L247.20 93.94 L247.30 97.51 L247.40 101.61 L247.50 106.14 L247.60 111.05 L247.70 116.30 L247.80 121.86 L247.90 127.70 L248.00 133.81 L248.10 140.17 L248.20 146.77 L248.30 153.59 L248.40 160.62 L248.50 167.86 L248.60 175.29 L248.70 182.92 L248.80 190.72 L248.90 198.70 L249.00 206.85 L249.10 208.67 L249.20 210.38 L249.30 212.00 L249.40 213.51 L249.50 214.93 L249.60 216.26 L249.70 217.52 L249.80 218.70 L249.90 219.80 L250.00 220.84 L250.10 221.82 L250.20 222.74 L250.30 223.60 L250.40 224.41 L250.50 225.17 L250.60 225.88 L250.70 226.55 L250.80 227.18 L250.90 227.77 L251.00 228.33 L251.10 228.85 L251.20 229.34 L251.30 229.80 L251.40 230.24 L251.50 230.64 L251.60 231.02 L251.70 231.38 L251.80 231.72 L251.90 232.03 L252.00 232.33 L252.10 232.61 L252.20 232.87 L252.30 233.11 L252.40 233.34 L252.50 233.56 L252.60 233.76 L252.70 233.95 L252.80 234.13 L252.90 234.29 L253.00 234.45 L253.10 234.60 L253.20 234.73 L253.30 234.86 L253.40 234.98 L253.50 235.09 L253.60 235.20 L253.70 235.30 L253.80 235.39 L253.90 235.47 L254.00 235.55 L254.10 235.63 L254.20 235.69 L254.30 235.76 L254.40 235.82 L254.50 235.87 L254.60 235.92 L254.70 235.96 L254.80 236.01 L254.90 236.04 L255.00 236.08 L255.10 236.11 L255.20 236.14 L255.30 236.16 L255.40 236.18 L255.50 236.20 L255.60 236.21 L255.70 236.22 L255.80 236.23 L255.90 236.24 L256.00 236.24 L256.05 236.24 L256.15 236.24 L256.25 236.24 L256.35 236.23 L256.45 236.22 L256.55 236.21 L256.65 236.19 L256.75 236.17 L256.85 236.15 L256.95 236.12 L257.05 236.10 L257.15 236.06 L257.25 236.03 L257.35 235.99 L257.45 235.95 L257.55 235.90 L257.65 235.85 L257.75 235.79 L257.85 235.73 L257.95 235.67 L258.05 235.60 L258.15 235.52 L258.25 235.44 L258.35 235.35 L258.45 235.26 L258.55 235.16 L258.65 235.05 L258.75 234.94 L258.85 234.82 L258.95 234.69 L259.05 234.55 L259.15 234.40 L259.25 234.24 L259.35 234.07 L259.45 233.89 L259.55 233.69 L259.65 233.49 L259.75 233.27 L259.85 233.03 L259.95 232.79 L260.05 232.52 L260.15 232.24 L260.25 231.93 L260.35 231.61 L260.45 231.27 L260.55 230.91 L260.65 230.52 L260.75 230.11 L260.85 229.66 L260.95 229.20 L261.05 228.70 L261.15 228.17 L261.25 227.60 L261.35 227.00 L261.45 226.36 L261.55 225.67 L261.65 224.95 L261.75 224.17 L261.85 223.35 L261.95 222.47 L262.05 221.54 L262.15 220.54 L262.25 219.48 L262.35 218.36 L262.45 217.16 L262.55 215.88 L262.65 214.52 L262.75 213.08 L262.85 211.54 L262.95 209.90 L263.05 208.15 L263.15 203.20 L263.25 195.24 L263.35 187.45 L263.45 179.84 L263.55 172.42 L263.65 165.18 L263.75 158.14 L263.85 151.30 L263.95 144.68 L264.05 138.29 L264.15 132.13 L264.25 126.23 L264.35 120.60 L264.45 115.27 L264.55 110.25 L264.65 105.59 L264.75 101.32 L264.85 97.53 L264.95 94.30 L265.05 91.88 L265.10 91.21 L265.20 92.96 L265.30 95.83 L265.40 99.36 L265.50 103.40 L265.60 107.87 L265.70 112.72 L265.80 117.90 L265.90 123.38 L266.00 129.15 L266.10 135.18 L266.20 141.45 L266.30 147.96 L266.40 154.69 L266.50 161.63 L266.60 168.77 L266.70 176.11 L266.80 183.63 L266.90 191.32 L267.00 199.20 L267.10 207.24 L267.20 209.03 L267.30 210.72 L267.40 212.31 L267.50 213.80 L267.60 215.20 L267.70 216.51 L267.80 217.75 L267.90 218.91 L268.00 219.99 L268.10 221.02 L268.20 221.98 L268.30 222.88 L268.40 223.73 L268.50 224.53 L268.60 225.28 L268.70 225.98 L268.80 226.64 L268.90 227.26 L269.00 227.84 L269.10 228.39 L269.20 228.90 L269.30 229.39 L269.40 229.84 L269.50 230.27 L269.60 230.67 L269.70 231.04 L269.80 231.39 L269.90 231.73 L270.00 232.04 L270.10 232.33 L270.20 232.60 L270.30 232.86 L270.40 233.10 L270.50 233.33 L270.60 233.54 L270.70 233.74 L270.80 233.93 L270.90 234.10 L271.00 234.27 L271.10 234.42 L271.20 234.57 L271.30 234.70 L271.40 234.83 L271.50 234.95 L271.60 235.06 L271.70 235.16 L271.80 235.26 L271.90 235.35 L272.00 235.44 L272.10 235.51 L272.20 235.59 L272.30 235.66 L272.40 235.72 L272.50 235.78 L272.60 235.83 L272.70 235.88 L272.80 235.93 L272.90 235.97 L273.00 236.01 L273.10 236.05 L273.20 236.08 L273.30 236.11 L273.40 236.14 L273.50 236.16 L273.60 236.18 L273.70 236.20 L273.80 236.21 L273.90 236.22 L274.00 236.23 L274.10 236.24 L274.20 236.24 L274.30 236.24 L274.40 236.24 L274.50 236.24 L274.60 236.23 L274.70 236.22 L274.80 236.21 L274.90 236.20 L275.00 236.18 L275.10 236.16 L275.20 236.14 L275.30 236.11 L275.40 236.08 L275.50 236.05 L275.60 236.01 L275.70 235.97 L275.80 235.93 L275.90 235.89 L276.00 235.84 L276.10 235.78 L276.20 235.72 L276.30 235.66 L276.40 235.59 L276.50 235.52 L276.60 235.44 L276.70 235.35 L276.80 235.26 L276.90 235.17 L277.00 235.06 L277.10 234.95 L277.20 234.83 L277.30 234.71 L277.40 234.57 L277.50 234.43 L277.60 234.27 L277.70 234.11 L277.80 233.93 L277.90 233.75 L278.00 233.55 L278.10 233.34 L278.20 233.11 L278.30 232.87 L278.40 232.61 L278.50 232.34 L278.60 232.05 L278.70 231.74 L278.80 231.41 L278.90 231.06 L279.00 230.68 L279.10 230.28 L279.20 229.86 L279.30 229.41 L279.40 228.92 L279.50 228.41 L279.60 227.87 L279.70 227.28 L279.80 226.67 L279.90 226.01 L280.00 225.31 L280.10 224.56 L280.20 223.76 L280.30 222.92 L280.40 222.02 L280.50 221.06 L280.60 220.04 L280.70 218.95 L280.80 217.80 L280.90 216.56 L281.00 215.25 L281.10 213.86 L281.20 212.37 L281.30 210.79 L281.40 209.11 L281.50 207.31 L281.60 199.30 L281.70 191.45 L281.80 183.77 L281.90 176.27 L282.00 168.95 L282.10 161.83 L282.20 154.91 L282.30 148.20 L282.40 141.71 L282.50 135.45 L282.60 129.44 L282.70 123.69 L282.80 118.22 L282.90 113.05 L283.00 108.22 L283.10 103.76 L283.20 99.73 L283.30 96.21 L283.40 93.35 L283.50 91.60 L283.60 93.35 L283.70 96.21 L283.80 99.73 L283.90 103.76 L284.00 108.22 L284.10 113.05 L284.20 118.22 L284.30 123.69 L284.40 129.44 L284.50 135.45 L284.60 141.71 L284.70 148.20 L284.80 154.91 L284.90 161.83 L285.00 168.95 L285.10 176.27 L285.20 183.77 L285.30 191.45 L285.40 199.30 L285.50 207.31 L285.60 209.11 L285.70 210.79 L285.80 212.37 L285.90 213.86 L286.00 215.25 L286.10 216.56 L286.20 217.80 L286.30 218.95 L286.40 220.04 L286.50 221.06 L286.60 222.02 L286.70 222.92 L286.80 223.76 L286.90 224.56 L287.00 225.31 L287.10 226.01 L287.20 226.67 L287.30 227.28 L287.40 227.87 L287.50 228.41 L287.60 228.92 L287.70 229.41 L287.80 229.86 L287.90 230.28 L288.00 230.68 L288.10 231.06 L288.20 231.41 L288.30 231.74 L288.40 232.05 L288.50 232.34 L288.60 232.61 L288.70 232.87 L288.80 233.11 L288.90 233.34 L289.00 233.55 L289.10 233.75 L289.20 233.93 L289.30 234.11 L289.40 234.27 L289.50 234.43 L289.60 234.57 L289.70 234.71 L289.80 234.83 L289.90 234.95 L290.00 235.06 L290.10 235.17 L290.20 235.26 L290.30 235.35 L290.40 235.44 L290.50 235.52 L290.60 235.59 L290.70 235.66 L290.80 235.72 L290.90 235.78 L291.00 235.84 L291.10 235.89 L291.20 235.93 L291.30 235.97 L291.40 236.01 L291.50 236.05 L291.60 236.08 L291.70 236.11 L291.80 236.14 L291.90 236.16 L292.00 236.18 L292.10 236.20 L292.20 236.21 L292.30 236.22 L292.40 236.23 L292.50 236.24 L292.60 236.24 L292.70 236.24 L292.80 236.24 L292.90 236.24 L293.00 236.23 L293.10 236.22 L293.20 236.21 L293.30 236.20 L293.40 236.18 L293.50 236.16 L293.60 236.14 L293.70 236.11 L293.80 236.08 L293.90 236.05 L294.00 236.01 L294.10 235.98 L294.20 235.93 L294.30 235.89 L294.40 235.84 L294.50 235.78 L294.60 235.72 L294.70 235.66 L294.80 235.59 L294.90 235.52 L295.00 235.44 L295.10 235.36 L295.20 235.27 L295.30 235.17 L295.40 235.07 L295.50 234.96 L295.60 234.84 L295.70 234.71 L295.80 234.58 L295.90 234.43 L296.00 234.28 L296.10 234.11 L296.20 233.94 L296.30 233.75 L296.40 233.56 L296.50 233.34 L296.60 233.12 L296.70 232.88 L296.80 232.62 L296.90 232.35 L297.00 232.06 L297.10 231.75 L297.20 231.42 L297.30 231.07 L297.40 230.70 L297.50 230.30 L297.60 229.88 L297.70 229.42 L297.80 228.94 L297.90 228.43 L298.00 227.89 L298.10 227.31 L298.20 226.69 L298.30 226.04 L298.40 225.34 L298.50 224.59 L298.60 223.80 L298.70 222.95 L298.80 222.06 L298.90 221.10 L299.00 220.08 L299.10 219.00 L299.20 217.84 L299.30 216.62 L299.40 215.31 L299.50 213.92 L299.60 212.44 L299.70 210.86 L299.80 209.18 L299.90 207.39 L300.00 199.40 L300.10 191.57 L300.20 183.91 L300.30 176.43 L300.40 169.14 L300.50 162.03 L300.60 155.13 L300.70 148.44 L300.80 141.97 L300.90 135.72 L301.00 129.73 L301.10 123.99 L301.20 118.54 L301.30 113.38 L301.40 108.57 L301.50 104.12 L301.60 100.10 L301.70 96.59 L301.80 93.74 L301.90 92.00 L302.00 93.74 L302.10 96.59 L302.20 100.10 L302.30 104.12 L302.40 108.57 L302.50 113.38 L302.60 118.54 L302.70 123.99 L302.80 129.73 L302.90 135.72 L303.00 141.97 L303.10 148.44 L303.20 155.13 L303.30 162.03 L303.40 169.14 L303.50 176.43 L303.60 183.91 L303.70 191.57 L303.80 199.40 L303.90 207.39 L304.00 209.18 L304.10 210.85 L304.20 212.43 L304.30 213.91 L304.40 215.30 L304.50 216.60 L304.60 217.83 L304.70 218.98 L304.80 220.07 L304.90 221.08 L305.00 222.04 L305.10 222.93 L305.20 223.78 L305.30 224.57 L305.40 225.31 L305.50 226.01 L305.60 226.67 L305.70 227.28 L305.80 227.86 L305.90 228.41 L306.00 228.92 L306.10 229.40 L306.20 229.85 L306.30 230.27 L306.40 230.67 L306.50 231.04 L306.60 231.39 L306.70 231.72 L306.80 232.03 L306.90 232.32 L307.00 232.59 L307.10 232.85 L307.20 233.09 L307.30 233.31 L307.40 233.52 L307.50 233.72 L307.60 233.91 L307.70 234.08 L307.80 234.25 L307.90 234.40 L308.00 234.54 L308.10 234.68 L308.20 234.81 L308.30 234.92 L308.40 235.03 L308.50 235.14 L308.60 235.24 L308.70 235.33 L308.80 235.41 L308.90 235.49 L309.00 235.56 L309.10 235.63 L309.20 235.70 L309.30 235.76 L309.40 235.81 L309.50 235.86 L309.60 235.91 L309.70 235.95 L309.80 235.99 L309.90 236.03 L310.00 236.06 L310.10 236.09 L310.20 236.12 L310.30 236.14 L310.40 236.16 L310.50 236.18 L310.60 236.20 L310.70 236.21 L310.80 236.22 L310.90 236.23 L311.00 236.24 L311.10 236.24 L311.20 236.24 L311.30 236.24 L311.40 236.24 L311.50 236.23 L311.60 236.22 L311.70 236.21 L311.80 236.20 L311.90 236.18 L312.00 236.16 L312.10 236.14 L312.20 236.12 L312.30 236.09 L312.40 236.06 L312.50 236.03 L312.60 235.99 L312.70 235.95 L312.80 235.91 L312.90 235.86 L313.00 235.81 L313.10 235.75 L313.20 235.69 L313.30 235.63 L313.40 235.56 L313.50 235.49 L313.60 235.41 L313.70 235.32 L313.80 235.23 L313.90 235.13 L314.00 235.03 L314.10 234.92 L314.20 234.80 L314.30 234.67 L314.40 234.53 L314.50 234.39 L314.60 234.24 L314.70 234.07 L314.80 233.90 L314.90 233.71 L315.00 233.51 L315.10 233.30 L315.20 233.07 L315.30 232.83 L315.40 232.57 L315.50 232.30 L315.60 232.01 L315.70 231.69 L315.80 231.36 L315.90 231.01 L316.00 230.64 L316.10 230.24 L316.20 229.81 L316.30 229.36 L316.40 228.88 L316.50 228.36 L316.60 227.82 L316.70 227.23 L316.80 226.61 L316.90 225.96 L317.00 225.25 L317.10 224.51 L317.20 223.71 L317.30 222.86 L317.40 221.96 L317.50 221.00 L317.60 219.98 L317.70 218.89 L317.80 217.73 L317.90 216.50 L318.00 215.19 L318.10 213.79 L318.20 212.30 L318.30 210.72 L318.40 209.03 L318.50 207.24 L318.60 199.20 L318.70 191.32 L318.80 183.63 L318.90 176.11 L319.00 168.77 L319.10 161.63 L319.20 154.69 L319.30 147.96 L319.40 141.45 L319.50 135.18 L319.60 129.15 L319.70 123.38 L319.80 117.90 L319.90 112.72 L320.00 107.87 L320.10 103.40 L320.20 99.36 L320.30 95.83 L320.40 92.96 L320.50 91.21 L320.60 92.96 L320.70 95.83 L320.80 99.36 L320.90 103.40 L321.00 107.87 L321.10 112.72 L321.20 117.90 L321.30 123.38 L321.40 129.15 L321.50 135.18 L321.60 141.45 L321.70 147.96 L321.80 154.69 L321.90 161.63 L322.00 168.77 L322.10 176.11 L322.20 183.63 L322.30 191.32 L322.40 199.20 L322.50 207.24 L322.60 209.04 L322.70 210.74 L322.80 212.34 L322.90 213.84 L323.00 215.25 L323.10 216.57 L323.20 217.81 L323.30 218.98 L323.40 220.07 L323.50 221.10 L323.60 222.07 L323.70 222.98 L323.80 223.83 L323.90 224.64 L324.00 225.39 L324.10 226.10 L324.20 226.76 L324.30 227.38 L324.40 227.97 L324.50 228.52 L324.60 229.04 L324.70 229.52 L324.80 229.98 L324.90 230.41 L325.00 230.81 L325.10 231.19 L325.20 231.54 L325.30 231.87 L325.40 232.18 L325.50 232.48 L325.60 232.75 L325.70 233.01 L325.80 233.25 L325.90 233.48 L326.00 233.69 L326.10 233.89 L326.20 234.08 L326.30 234.25 L326.40 234.42 L326.50 234.57 L326.60 234.71 L326.70 234.85 L326.80 234.97 L326.90 235.09 L327.00 235.20 L327.10 235.30 L327.20 235.40 L327.30 235.49 L327.40 235.57 L327.50 235.64 L327.60 235.71 L327.70 235.78 L327.80 235.84 L327.90 235.90 L328.00 235.95 L328.10 235.99 L328.20 236.03 L328.30 236.07 L328.40 236.10 L328.50 236.13 L328.60 236.16 L328.70 236.18 L328.80 236.20 L328.90 236.22 L329.00 236.23 L329.10 236.24 L329.20 236.24 L329.30 236.24" fill="none" stroke="#84caf3" stroke-width="2.8" stroke-linejoin="round" stroke-linecap="round"/>
</g>
<rect x="56.60" y="22.70" width="292.60" height="235.40" fill="none" stroke="#0a0a0a" stroke-width="2.5"/>
<line x1="74.60" y1="258.10" x2="74.60" y2="253.80" stroke="#000" stroke-width="2"/>
<text x="74.60" y="279.10" font-family="Liberation Sans, sans-serif" font-size="19.5" text-anchor="middle" textLength="11.17" lengthAdjust="spacingAndGlyphs" fill="#1a1a1a" stroke="#1a1a1a" stroke-width="0.3">0</text>
<line x1="147.95" y1="258.10" x2="147.95" y2="253.80" stroke="#000" stroke-width="2"/>
<text x="147.95" y="279.10" font-family="Liberation Sans, sans-serif" font-size="19.5" text-anchor="middle" textLength="29.92" lengthAdjust="spacingAndGlyphs" fill="#1a1a1a" stroke="#1a1a1a" stroke-width="0.3">100</text>
<line x1="221.30" y1="258.10" x2="221.30" y2="253.80" stroke="#000" stroke-width="2"/>
<text x="221.30" y="279.10" font-family="Liberation Sans, sans-serif" font-size="19.5" text-anchor="middle" textLength="33.50" lengthAdjust="spacingAndGlyphs" fill="#1a1a1a" stroke="#1a1a1a" stroke-width="0.3">200</text>
<line x1="294.65" y1="258.10" x2="294.65" y2="253.80" stroke="#000" stroke-width="2"/>
<text x="294.65" y="279.10" font-family="Liberation Sans, sans-serif" font-size="19.5" text-anchor="middle" textLength="33.50" lengthAdjust="spacingAndGlyphs" fill="#1a1a1a" stroke="#1a1a1a" stroke-width="0.3">300</text>
<line x1="56.60" y1="238.20" x2="60.90" y2="238.20" stroke="#000" stroke-width="2"/>
<text x="51.00" y="244.20" font-family="Liberation Sans, sans-serif" font-size="19.5" text-anchor="end" textLength="11.17" lengthAdjust="spacingAndGlyphs" fill="#1a1a1a" stroke="#1a1a1a" stroke-width="0.3">0</text>
<line x1="56.60" y1="199.05" x2="60.90" y2="199.05" stroke="#000" stroke-width="2"/>
<text x="51.00" y="205.05" font-family="Liberation Sans, sans-serif" font-size="19.5" text-anchor="end" textLength="11.17" lengthAdjust="spacingAndGlyphs" fill="#1a1a1a" stroke="#1a1a1a" stroke-width="0.3">5</text>
<line x1="56.60" y1="159.90" x2="60.90" y2="159.90" stroke="#000" stroke-width="2"/>
<text x="51.00" y="165.90" font-family="Liberation Sans, sans-serif" font-size="19.5" text-anchor="end" textLength="21.47" lengthAdjust="spacingAndGlyphs" fill="#1a1a1a" stroke="#1a1a1a" stroke-width="0.3">10</text>
<line x1="56.60" y1="120.75" x2="60.90" y2="120.75" stroke="#000" stroke-width="2"/>
<text x="51.00" y="126.75" font-family="Liberation Sans, sans-serif" font-size="19.5" text-anchor="end" textLength="21.47" lengthAdjust="spacingAndGlyphs" fill="#1a1a1a" stroke="#1a1a1a" stroke-width="0.3">15</text>
<line x1="56.60" y1="81.60" x2="60.90" y2="81.60" stroke="#000" stroke-width="2"/>
<text x="51.00" y="87.60" font-family="Liberation Sans, sans-serif" font-size="19.5" text-anchor="end" textLength="22.33" lengthAdjust="spacingAndGlyphs" fill="#1a1a1a" stroke="#1a1a1a" stroke-width="0.3">20</text>
<line x1="56.60" y1="42.45" x2="60.90" y2="42.45" stroke="#000" stroke-width="2"/>
<text x="51.00" y="48.45" font-family="Liberation Sans, sans-serif" font-size="19.5" text-anchor="end" textLength="22.33" lengthAdjust="spacingAndGlyphs" fill="#1a1a1a" stroke="#1a1a1a" stroke-width="0.3">25</text>
<text x="203.60" y="308.90" font-family="Liberation Sans, sans-serif" font-size="25.6" text-anchor="middle" textLength="97.0" lengthAdjust="spacingAndGlyphs" fill="#111">Time (s)</text>
<g transform="translate(22.30 139.80) rotate(-90)"><text x="0" y="0" font-family="Liberation Sans, sans-serif" font-size="26.3" text-anchor="middle" fill="#111" textLength="72.5" lengthAdjust="spacingAndGlyphs">ΔC/C<tspan font-size="16.7" dy="7.3">0</tspan></text></g>
<text x="228.10" y="55.00" font-family="Liberation Sans, sans-serif" font-size="12.80" fill="#262626" stroke="#262626" stroke-width="0.25" textLength="96.5" lengthAdjust="spacingAndGlyphs">PVA/H<tspan font-size="8.45" dy="3">3</tspan><tspan dy="-3">PO</tspan><tspan font-size="8.45" dy="3">4</tspan><tspan dy="-3">(0.4)</tspan></text>
<text x="17.00" y="29.00" font-family="Liberation Sans, sans-serif" font-size="40.5" fill="#000">a</text>
<g filter="url(#soft2)">
<path d="M463.50 243.30 L463.60 243.30 L463.70 243.29 L463.80 243.27 L463.90 243.26 L464.00 243.23 L464.10 243.20 L464.20 243.16 L464.30 243.12 L464.40 243.07 L464.50 243.02 L464.60 242.95 L464.70 242.89 L464.80 242.81 L464.90 242.73 L465.00 242.65 L465.10 242.55 L465.20 242.45 L465.30 242.34 L465.40 242.23 L465.50 242.10 L465.60 241.97 L465.70 241.83 L465.80 241.68 L465.90 241.52 L466.00 241.35 L466.10 241.18 L466.20 240.99 L466.30 240.79 L466.40 240.59 L466.50 240.37 L466.60 240.14 L466.70 239.89 L466.80 239.64 L466.90 239.37 L467.00 239.09 L467.10 238.79 L467.20 238.48 L467.30 238.15 L467.40 237.81 L467.50 237.45 L467.60 237.07 L467.70 236.67 L467.80 236.25 L467.90 235.82 L468.00 235.36 L468.10 234.88 L468.20 234.38 L468.30 233.85 L468.40 233.30 L468.50 232.72 L468.60 232.12 L468.70 231.49 L468.80 230.82 L468.90 230.13 L469.00 229.40 L469.10 228.64 L469.20 227.84 L469.30 224.92 L469.40 222.11 L469.50 219.39 L469.60 216.78 L469.70 214.28 L469.80 211.90 L469.90 209.66 L470.00 207.56 L470.10 205.63 L470.20 203.88 L470.30 202.35 L470.40 201.11 L470.50 200.35 L470.60 201.10 L470.70 202.32 L470.80 203.83 L470.90 205.56 L471.00 207.47 L471.10 209.53 L471.20 211.75 L471.30 214.09 L471.40 216.55 L471.50 219.13 L471.60 221.81 L471.70 224.59 L471.80 227.46 L471.90 228.27 L472.00 229.04 L472.10 229.78 L472.20 230.48 L472.30 231.15 L472.40 231.79 L472.50 232.41 L472.60 232.99 L472.70 233.55 L472.80 234.08 L472.90 234.58 L473.00 235.07 L473.10 235.53 L473.20 235.97 L473.30 236.39 L473.40 236.78 L473.50 237.16 L473.60 237.53 L473.70 237.87 L473.80 238.20 L473.90 238.51 L474.00 238.81 L474.10 239.09 L474.20 239.36 L474.30 239.61 L474.40 239.85 L474.50 240.08 L474.60 240.30 L474.70 240.50 L474.80 240.69 L474.90 240.88 L475.00 241.05 L475.10 241.21 L475.20 241.36 L475.30 241.51 L475.40 241.64 L475.50 241.76 L475.60 241.88 L475.70 241.99 L475.80 242.09 L475.90 242.18 L476.00 242.26 L476.10 242.34 L476.20 242.41 L476.30 242.47 L476.40 242.52 L476.50 242.57 L476.60 242.61 L476.70 242.65 L476.80 242.67 L476.90 242.69 L477.00 242.71 L477.10 242.71 L477.15 242.71 L477.25 242.71 L477.35 242.70 L477.45 242.68 L477.55 242.66 L477.65 242.63 L477.75 242.59 L477.85 242.55 L477.95 242.50 L478.05 242.44 L478.15 242.38 L478.25 242.30 L478.35 242.22 L478.45 242.13 L478.55 242.04 L478.65 241.94 L478.75 241.82 L478.85 241.70 L478.95 241.57 L479.05 241.44 L479.15 241.29 L479.25 241.13 L479.35 240.96 L479.45 240.79 L479.55 240.60 L479.65 240.40 L479.75 240.19 L479.85 239.97 L479.95 239.73 L480.05 239.49 L480.15 239.22 L480.25 238.95 L480.35 238.66 L480.45 238.36 L480.55 238.04 L480.65 237.70 L480.75 237.35 L480.85 236.98 L480.95 236.59 L481.05 236.18 L481.15 235.75 L481.25 235.30 L481.35 234.83 L481.45 234.33 L481.55 233.81 L481.65 233.27 L481.75 232.70 L481.85 232.10 L481.95 231.48 L482.05 230.82 L482.15 230.13 L482.25 229.42 L482.35 228.66 L482.45 227.87 L482.55 226.01 L482.65 223.19 L482.75 220.46 L482.85 217.83 L482.95 215.31 L483.05 212.90 L483.15 210.62 L483.25 208.48 L483.35 206.49 L483.45 204.67 L483.55 203.05 L483.65 201.67 L483.75 200.63 L483.80 200.35 L483.90 201.10 L484.00 202.32 L484.10 203.83 L484.20 205.56 L484.30 207.47 L484.40 209.53 L484.50 211.75 L484.60 214.09 L484.70 216.55 L484.80 219.13 L484.90 221.81 L485.00 224.59 L485.10 227.46 L485.20 228.27 L485.30 229.04 L485.40 229.78 L485.50 230.48 L485.60 231.15 L485.70 231.79 L485.80 232.41 L485.90 232.99 L486.00 233.55 L486.10 234.08 L486.20 234.58 L486.30 235.07 L486.40 235.53 L486.50 235.97 L486.60 236.39 L486.70 236.78 L486.80 237.16 L486.90 237.53 L487.00 237.87 L487.10 238.20 L487.20 238.51 L487.30 238.81 L487.40 239.09 L487.50 239.36 L487.60 239.61 L487.70 239.85 L487.80 240.08 L487.90 240.30 L488.00 240.50 L488.10 240.69 L488.20 240.88 L488.30 241.05 L488.40 241.21 L488.50 241.36 L488.60 241.51 L488.70 241.64 L488.80 241.76 L488.90 241.88 L489.00 241.99 L489.10 242.09 L489.20 242.18 L489.30 242.26 L489.40 242.34 L489.50 242.41 L489.60 242.47 L489.70 242.52 L489.80 242.57 L489.90 242.61 L490.00 242.65 L490.10 242.67 L490.20 242.69 L490.30 242.71 L490.40 242.71 L490.45 242.71 L490.55 242.71 L490.65 242.70 L490.75 242.68 L490.85 242.66 L490.95 242.63 L491.05 242.59 L491.15 242.55 L491.25 242.50 L491.35 242.44 L491.45 242.38 L491.55 242.30 L491.65 242.22 L491.75 242.13 L491.85 242.04 L491.95 241.94 L492.05 241.82 L492.15 241.70 L492.25 241.57 L492.35 241.44 L492.45 241.29 L492.55 241.13 L492.65 240.96 L492.75 240.79 L492.85 240.60 L492.95 240.40 L493.05 240.19 L493.15 239.97 L493.25 239.73 L493.35 239.49 L493.45 239.22 L493.55 238.95 L493.65 238.66 L493.75 238.36 L493.85 238.04 L493.95 237.70 L494.05 237.35 L494.15 236.98 L494.25 236.59 L494.35 236.18 L494.45 235.75 L494.55 235.30 L494.65 234.83 L494.75 234.33 L494.85 233.81 L494.95 233.27 L495.05 232.70 L495.15 232.10 L495.25 231.48 L495.35 230.82 L495.45 230.13 L495.55 229.42 L495.65 228.66 L495.75 227.87 L495.85 226.01 L495.95 223.19 L496.05 220.46 L496.15 217.83 L496.25 215.31 L496.35 212.90 L496.45 210.62 L496.55 208.48 L496.65 206.49 L496.75 204.67 L496.85 203.05 L496.95 201.67 L497.05 200.63 L497.10 200.35 L497.20 201.10 L497.30 202.32 L497.40 203.83 L497.50 205.56 L497.60 207.47 L497.70 209.53 L497.80 211.75 L497.90 214.09 L498.00 216.55 L498.10 219.13 L498.20 221.81 L498.30 224.59 L498.40 227.46 L498.50 228.27 L498.60 229.04 L498.70 229.78 L498.80 230.48 L498.90 231.15 L499.00 231.79 L499.10 232.41 L499.20 232.99 L499.30 233.55 L499.40 234.08 L499.50 234.58 L499.60 235.07 L499.70 235.53 L499.80 235.97 L499.90 236.39 L500.00 236.78 L500.10 237.16 L500.20 237.53 L500.30 237.87 L500.40 238.20 L500.50 238.51 L500.60 238.81 L500.70 239.09 L500.80 239.36 L500.90 239.61 L501.00 239.85 L501.10 240.08 L501.20 240.30 L501.30 240.50 L501.40 240.69 L501.50 240.88 L501.60 241.05 L501.70 241.21 L501.80 241.36 L501.90 241.51 L502.00 241.64 L502.10 241.76 L502.20 241.88 L502.30 241.99 L502.40 242.09 L502.50 242.18 L502.60 242.26 L502.70 242.34 L502.80 242.41 L502.90 242.47 L503.00 242.52 L503.10 242.57 L503.20 242.61 L503.30 242.65 L503.40 242.67 L503.50 242.69 L503.60 242.71 L503.70 242.71 L503.75 242.71 L503.85 242.71 L503.95 242.70 L504.05 242.68 L504.15 242.66 L504.25 242.63 L504.35 242.59 L504.45 242.55 L504.55 242.50 L504.65 242.44 L504.75 242.38 L504.85 242.30 L504.95 242.22 L505.05 242.13 L505.15 242.04 L505.25 241.94 L505.35 241.82 L505.45 241.70 L505.55 241.57 L505.65 241.44 L505.75 241.29 L505.85 241.13 L505.95 240.96 L506.05 240.79 L506.15 240.60 L506.25 240.40 L506.35 240.19 L506.45 239.97 L506.55 239.73 L506.65 239.49 L506.75 239.22 L506.85 238.95 L506.95 238.66 L507.05 238.36 L507.15 238.04 L507.25 237.70 L507.35 237.35 L507.45 236.98 L507.55 236.59 L507.65 236.18 L507.75 235.75 L507.85 235.30 L507.95 234.83 L508.05 234.33 L508.15 233.81 L508.25 233.27 L508.35 232.70 L508.45 232.10 L508.55 231.48 L508.65 230.82 L508.75 230.13 L508.85 229.42 L508.95 228.66 L509.05 227.87 L509.15 226.01 L509.25 223.19 L509.35 220.46 L509.45 217.83 L509.55 215.31 L509.65 212.90 L509.75 210.62 L509.85 208.48 L509.95 206.49 L510.05 204.67 L510.15 203.05 L510.25 201.67 L510.35 200.63 L510.40 200.35 L510.50 201.10 L510.60 202.32 L510.70 203.83 L510.80 205.56 L510.90 207.47 L511.00 209.53 L511.10 211.75 L511.20 214.09 L511.30 216.55 L511.40 219.13 L511.50 221.81 L511.60 224.59 L511.70 227.46 L511.80 228.27 L511.90 229.05 L512.00 229.79 L512.10 230.49 L512.20 231.17 L512.30 231.81 L512.40 232.43 L512.50 233.01 L512.60 233.57 L512.70 234.10 L512.80 234.61 L512.90 235.10 L513.00 235.56 L513.10 236.00 L513.20 236.42 L513.30 236.82 L513.40 237.20 L513.50 237.56 L513.60 237.91 L513.70 238.24 L513.80 238.55 L513.90 238.85 L514.00 239.13 L514.10 239.40 L514.20 239.65 L514.30 239.89 L514.40 240.12 L514.50 240.34 L514.60 240.54 L514.70 240.73 L514.80 240.92 L514.90 241.09 L515.00 241.25 L515.10 241.40 L515.20 241.54 L515.30 241.68 L515.40 241.80 L515.50 241.91 L515.60 242.02 L515.70 242.12 L515.80 242.21 L515.90 242.29 L516.00 242.37 L516.10 242.43 L516.20 242.49 L516.30 242.55 L516.40 242.59 L516.50 242.63 L516.60 242.66 L516.70 242.68 L516.80 242.70 L516.90 242.71 L517.00 242.71 L517.10 242.71 L517.20 242.70 L517.30 242.68 L517.40 242.66 L517.50 242.62 L517.60 242.58 L517.70 242.54 L517.80 242.48 L517.90 242.42 L518.00 242.35 L518.10 242.27 L518.20 242.18 L518.30 242.09 L518.40 241.98 L518.50 241.87 L518.60 241.75 L518.70 241.62 L518.80 241.48 L518.90 241.33 L519.00 241.17 L519.10 241.00 L519.20 240.82 L519.30 240.62 L519.40 240.42 L519.50 240.20 L519.60 239.98 L519.70 239.74 L519.80 239.48 L519.90 239.21 L520.00 238.93 L520.10 238.63 L520.20 238.32 L520.30 237.99 L520.40 237.64 L520.50 237.28 L520.60 236.90 L520.70 236.49 L520.80 236.07 L520.90 235.63 L521.00 235.16 L521.10 234.67 L521.20 234.16 L521.30 233.63 L521.40 233.06 L521.50 232.47 L521.60 231.86 L521.70 231.21 L521.80 230.53 L521.90 229.82 L522.00 229.07 L522.10 228.29 L522.20 227.48 L522.30 226.62 L522.40 223.59 L522.50 220.65 L522.60 217.82 L522.70 215.11 L522.80 212.51 L522.90 210.03 L523.00 207.70 L523.10 205.52 L523.20 203.50 L523.30 201.68 L523.40 200.09 L523.50 198.79 L523.60 198.01 L523.70 198.79 L523.80 200.09 L523.90 201.68 L524.00 203.50 L524.10 205.52 L524.20 207.70 L524.30 210.03 L524.40 212.51 L524.50 215.11 L524.60 217.82 L524.70 220.65 L524.80 223.59 L524.90 226.62 L525.00 227.46 L525.10 228.25 L525.20 229.02 L525.30 229.75 L525.40 230.44 L525.50 231.11 L525.60 231.74 L525.70 232.35 L525.80 232.92 L525.90 233.47 L526.00 234.00 L526.10 234.50 L526.20 234.98 L526.30 235.44 L526.40 235.87 L526.50 236.29 L526.60 236.68 L526.70 237.06 L526.80 237.42 L526.90 237.76 L527.00 238.09 L527.10 238.40 L527.20 238.69 L527.30 238.97 L527.40 239.24 L527.50 239.49 L527.60 239.73 L527.70 239.96 L527.80 240.18 L527.90 240.38 L528.00 240.58 L528.10 240.76 L528.20 240.94 L528.30 241.10 L528.40 241.25 L528.50 241.40 L528.60 241.53 L528.70 241.66 L528.80 241.78 L528.90 241.89 L529.00 242.00 L529.10 242.09 L529.20 242.18 L529.30 242.26 L529.40 242.33 L529.50 242.40 L529.60 242.46 L529.70 242.52 L529.80 242.56 L529.90 242.60 L530.00 242.64 L530.10 242.66 L530.20 242.69 L530.30 242.70 L530.40 242.71 L530.50 242.71" fill="none" stroke="#d0b0ef" stroke-width="2.8" stroke-linejoin="round" stroke-linecap="round"/>
<path d="M530.50 242.71 L530.60 242.71 L530.70 242.70 L530.80 242.68 L530.90 242.66 L531.00 242.63 L531.10 242.59 L531.20 242.54 L531.30 242.49 L531.40 242.42 L531.50 242.36 L531.60 242.28 L531.70 242.19 L531.80 242.10 L531.90 241.99 L532.00 241.88 L532.10 241.76 L532.20 241.63 L532.30 241.48 L532.40 241.33 L532.50 241.17 L532.60 240.99 L532.70 240.80 L532.80 240.60 L532.90 240.38 L533.00 240.15 L533.10 239.91 L533.20 239.65 L533.30 239.37 L533.40 239.08 L533.50 238.77 L533.60 238.44 L533.70 238.09 L533.80 237.71 L533.90 237.32 L534.00 236.90 L534.10 236.46 L534.20 235.99 L534.30 235.49 L534.40 234.96 L534.50 234.40 L534.60 233.81 L534.70 233.19 L534.80 232.53 L534.90 231.83 L535.00 231.09 L535.10 230.30 L535.20 229.47 L535.30 228.60 L535.40 227.67 L535.50 226.69 L535.60 225.65 L535.70 224.56 L535.80 223.40 L535.90 222.17 L536.00 216.18 L536.10 210.32 L536.20 204.60 L536.30 199.02 L536.40 193.58 L536.50 188.30 L536.60 183.18 L536.70 178.23 L536.80 173.45 L536.90 168.86 L537.00 164.47 L537.10 160.30 L537.20 156.36 L537.30 152.67 L537.40 149.27 L537.50 146.19 L537.60 143.51 L537.70 141.32 L537.80 139.99 L537.90 141.31 L538.00 143.48 L538.10 146.14 L538.20 149.19 L538.30 152.56 L538.40 156.22 L538.50 160.12 L538.60 164.26 L538.70 168.61 L538.80 173.16 L538.90 177.90 L539.00 182.81 L539.10 187.89 L539.20 193.12 L539.30 198.51 L539.40 204.04 L539.50 209.72 L539.60 215.53 L539.70 221.47 L539.80 222.64 L539.90 223.75 L540.00 224.80 L540.10 225.80 L540.20 226.74 L540.30 227.63 L540.40 228.47 L540.50 229.27 L540.60 230.02 L540.70 230.73 L540.80 231.40 L540.90 232.04 L541.00 232.64 L541.10 233.21 L541.20 233.75 L541.30 234.26 L541.40 234.74 L541.50 235.19 L541.60 235.62 L541.70 236.03 L541.80 236.41 L541.90 236.77 L542.00 237.11 L542.10 237.44 L542.20 237.74 L542.30 238.03 L542.40 238.30 L542.50 238.56 L542.60 238.80 L542.70 239.03 L542.80 239.24 L542.90 239.45 L543.00 239.64 L543.10 239.82 L543.20 239.99 L543.30 240.14 L543.40 240.29 L543.50 240.43 L543.60 240.57 L543.70 240.69 L543.80 240.80 L543.90 240.91 L544.00 241.01 L544.10 241.10 L544.20 241.19 L544.30 241.27 L544.40 241.35 L544.50 241.41 L544.60 241.48 L544.70 241.53 L544.80 241.58 L544.90 241.63 L545.00 241.67 L545.10 241.71 L545.20 241.74 L545.30 241.77 L545.40 241.79 L545.50 241.81 L545.60 241.82 L545.70 241.83 L545.80 241.83 L545.85 241.84 L545.95 241.83 L546.05 241.83 L546.15 241.81 L546.25 241.80 L546.35 241.78 L546.45 241.75 L546.55 241.72 L546.65 241.69 L546.75 241.65 L546.85 241.61 L546.95 241.56 L547.05 241.50 L547.15 241.44 L547.25 241.38 L547.35 241.31 L547.45 241.23 L547.55 241.14 L547.65 241.05 L547.75 240.96 L547.85 240.85 L547.95 240.74 L548.05 240.62 L548.15 240.49 L548.25 240.36 L548.35 240.21 L548.45 240.06 L548.55 239.89 L548.65 239.72 L548.75 239.53 L548.85 239.33 L548.95 239.12 L549.05 238.90 L549.15 238.66 L549.25 238.41 L549.35 238.15 L549.45 237.86 L549.55 237.57 L549.65 237.25 L549.75 236.92 L549.85 236.56 L549.95 236.19 L550.05 235.79 L550.15 235.37 L550.25 234.93 L550.35 234.46 L550.45 233.96 L550.55 233.43 L550.65 232.88 L550.75 232.29 L550.85 231.67 L550.95 231.01 L551.05 230.31 L551.15 229.58 L551.25 228.80 L551.35 227.98 L551.45 227.11 L551.55 226.19 L551.65 225.21 L551.75 224.19 L551.85 223.10 L551.95 221.95 L552.05 218.35 L552.15 212.44 L552.25 206.66 L552.35 201.03 L552.45 195.53 L552.55 190.19 L552.65 185.00 L552.75 179.98 L552.85 175.13 L552.95 170.46 L553.05 165.98 L553.15 161.71 L553.25 157.66 L553.35 153.85 L553.45 150.31 L553.55 147.08 L553.65 144.20 L553.75 141.75 L553.85 139.91 L553.90 139.41 L554.00 140.73 L554.10 142.91 L554.20 145.59 L554.30 148.66 L554.40 152.05 L554.50 155.72 L554.60 159.65 L554.70 163.82 L554.80 168.19 L554.90 172.77 L555.00 177.53 L555.10 182.47 L555.20 187.58 L555.30 192.84 L555.40 198.26 L555.50 203.83 L555.60 209.53 L555.70 215.38 L555.80 221.35 L555.90 222.55 L556.00 223.68 L556.10 224.75 L556.20 225.76 L556.30 226.72 L556.40 227.62 L556.50 228.48 L556.60 229.29 L556.70 230.05 L556.80 230.78 L556.90 231.46 L557.00 232.11 L557.10 232.72 L557.20 233.30 L557.30 233.84 L557.40 234.36 L557.50 234.85 L557.60 235.31 L557.70 235.74 L557.80 236.15 L557.90 236.54 L558.00 236.91 L558.10 237.26 L558.20 237.58 L558.30 237.89 L558.40 238.18 L558.50 238.46 L558.60 238.72 L558.70 238.96 L558.80 239.19 L558.90 239.41 L559.00 239.61 L559.10 239.80 L559.20 239.98 L559.30 240.15 L559.40 240.31 L559.50 240.46 L559.60 240.59 L559.70 240.72 L559.80 240.84 L559.90 240.96 L560.00 241.06 L560.10 241.16 L560.20 241.25 L560.30 241.33 L560.40 241.40 L560.50 241.47 L560.60 241.53 L560.70 241.59 L560.80 241.64 L560.90 241.68 L561.00 241.72 L561.10 241.75 L561.20 241.78 L561.30 241.80 L561.40 241.82 L561.50 241.83 L561.60 241.83 L561.65 241.84 L561.75 241.83 L561.85 241.82 L561.95 241.81 L562.05 241.79 L562.15 241.77 L562.25 241.74 L562.35 241.70 L562.45 241.66 L562.55 241.61 L562.65 241.56 L562.75 241.50 L562.85 241.44 L562.95 241.36 L563.05 241.29 L563.15 241.20 L563.25 241.11 L563.35 241.00 L563.45 240.90 L563.55 240.78 L563.65 240.65 L563.75 240.52 L563.85 240.37 L563.95 240.22 L564.05 240.06 L564.15 239.88 L564.25 239.69 L564.35 239.50 L564.45 239.29 L564.55 239.06 L564.65 238.82 L564.75 238.57 L564.85 238.30 L564.95 238.02 L565.05 237.72 L565.15 237.40 L565.25 237.06 L565.35 236.70 L565.45 236.32 L565.55 235.92 L565.65 235.49 L565.75 235.04 L565.85 234.56 L565.95 234.06 L566.05 233.53 L566.15 232.96 L566.25 232.36 L566.35 231.73 L566.45 231.06 L566.55 230.35 L566.65 229.60 L566.75 228.81 L566.85 227.98 L566.95 227.09 L567.05 226.15 L567.15 225.17 L567.25 224.12 L567.35 223.01 L567.45 221.84 L567.55 218.21 L567.65 212.27 L567.75 206.46 L567.85 200.79 L567.95 195.27 L568.05 189.89 L568.15 184.68 L568.25 179.62 L568.35 174.75 L568.45 170.05 L568.55 165.55 L568.65 161.25 L568.75 157.18 L568.85 153.35 L568.95 149.79 L569.05 146.54 L569.15 143.64 L569.25 141.18 L569.35 139.33 L569.40 138.82 L569.50 140.16 L569.60 142.35 L569.70 145.04 L569.80 148.12 L569.90 151.53 L570.00 155.23 L570.10 159.18 L570.20 163.37 L570.30 167.77 L570.40 172.37 L570.50 177.16 L570.60 182.13 L570.70 187.27 L570.80 192.56 L570.90 198.01 L571.00 203.61 L571.10 209.35 L571.20 215.22 L571.30 221.23 L571.40 222.43 L571.50 223.57 L571.60 224.64 L571.70 225.66 L571.80 226.62 L571.90 227.53 L572.00 228.39 L572.10 229.20 L572.20 229.97 L572.30 230.69 L572.40 231.38 L572.50 232.03 L572.60 232.64 L572.70 233.22 L572.80 233.77 L572.90 234.29 L573.00 234.78 L573.10 235.24 L573.20 235.68 L573.30 236.09 L573.40 236.48 L573.50 236.85 L573.60 237.20 L573.70 237.53 L573.80 237.84 L573.90 238.13 L574.00 238.41 L574.10 238.67 L574.20 238.91 L574.30 239.14 L574.40 239.36 L574.50 239.57 L574.60 239.76 L574.70 239.94 L574.80 240.11 L574.90 240.27 L575.00 240.42 L575.10 240.56 L575.20 240.69 L575.30 240.81 L575.40 240.92 L575.50 241.03 L575.60 241.13 L575.70 241.22 L575.80 241.30 L575.90 241.38 L576.00 241.45 L576.10 241.51 L576.20 241.57 L576.30 241.62 L576.40 241.67 L576.50 241.71 L576.60 241.74 L576.70 241.77 L576.80 241.79 L576.90 241.81 L577.00 241.82 L577.10 241.83 L577.20 241.84 L577.30 241.83 L577.40 241.82 L577.50 241.81 L577.60 241.79 L577.70 241.77 L577.80 241.74 L577.90 241.71 L578.00 241.67 L578.10 241.62 L578.20 241.57 L578.30 241.51 L578.40 241.44 L578.50 241.37 L578.60 241.30 L578.70 241.21 L578.80 241.12 L578.90 241.02 L579.00 240.92 L579.10 240.80 L579.20 240.68 L579.30 240.55 L579.40 240.41 L579.50 240.25 L579.60 240.09 L579.70 239.92 L579.80 239.74 L579.90 239.55 L580.00 239.34 L580.10 239.12 L580.20 238.89 L580.30 238.64 L580.40 238.38 L580.50 238.10 L580.60 237.80 L580.70 237.49 L580.80 237.16 L580.90 236.81 L581.00 236.44 L581.10 236.04 L581.20 235.63 L581.30 235.19 L581.40 234.72 L581.50 234.22 L581.60 233.70 L581.70 233.15 L581.80 232.56 L581.90 231.94 L582.00 231.29 L582.10 230.60 L582.20 229.86 L582.30 229.09 L582.40 228.27 L582.50 227.40 L582.60 226.49 L582.70 225.52 L582.80 224.50 L582.90 223.41 L583.00 222.27 L583.10 221.06 L583.20 215.00 L583.30 209.07 L583.40 203.28 L583.50 197.64 L583.60 192.14 L583.70 186.80 L583.80 181.62 L583.90 176.61 L584.00 171.78 L584.10 167.14 L584.20 162.70 L584.30 158.48 L584.40 154.49 L584.50 150.76 L584.60 147.32 L584.70 144.21 L584.80 141.50 L584.90 139.29 L585.00 137.94 L585.10 139.29 L585.20 141.50 L585.30 144.21 L585.40 147.32 L585.50 150.76 L585.60 154.49 L585.70 158.48 L585.80 162.70 L585.90 167.14 L586.00 171.78 L586.10 176.61 L586.20 181.62 L586.30 186.80 L586.40 192.14 L586.50 197.64 L586.60 203.28 L586.70 209.07 L586.80 215.00 L586.90 221.06 L587.00 222.27 L587.10 223.41 L587.20 224.50 L587.30 225.52 L587.40 226.49 L587.50 227.40 L587.60 228.27 L587.70 229.09 L587.80 229.86 L587.90 230.60 L588.00 231.29 L588.10 231.94 L588.20 232.56 L588.30 233.15 L588.40 233.70 L588.50 234.22 L588.60 234.72 L588.70 235.19 L588.80 235.63 L588.90 236.04 L589.00 236.44 L589.10 236.81 L589.20 237.16 L589.30 237.49 L589.40 237.80 L589.50 238.10 L589.60 238.38 L589.70 238.64 L589.80 238.89 L589.90 239.12 L590.00 239.34 L590.10 239.55 L590.20 239.74 L590.30 239.92 L590.40 240.09 L590.50 240.25 L590.60 240.41 L590.70 240.55 L590.80 240.68 L590.90 240.80 L591.00 240.92 L591.10 241.02 L591.20 241.12 L591.30 241.21 L591.40 241.30 L591.50 241.37 L591.60 241.44 L591.70 241.51 L591.80 241.57 L591.90 241.62 L592.00 241.67 L592.10 241.71 L592.20 241.74 L592.30 241.77 L592.40 241.79 L592.50 241.81 L592.60 241.82 L592.70 241.83 L592.80 241.84 L592.90 241.83 L593.00 241.82 L593.10 241.81 L593.20 241.79 L593.30 241.77 L593.40 241.74 L593.50 241.70 L593.60 241.66 L593.70 241.62 L593.80 241.57 L593.90 241.51 L594.00 241.44 L594.10 241.37 L594.20 241.29 L594.30 241.21 L594.40 241.12 L594.50 241.02 L594.60 240.91 L594.70 240.80 L594.80 240.67 L594.90 240.54 L595.00 240.40 L595.10 240.25 L595.20 240.08 L595.30 239.91 L595.40 239.73 L595.50 239.53 L595.60 239.33 L595.70 239.10 L595.80 238.87 L595.90 238.62 L596.00 238.36 L596.10 238.08 L596.20 237.78 L596.30 237.47 L596.40 237.13 L596.50 236.78 L596.60 236.41 L596.70 236.01 L596.80 235.59 L596.90 235.15 L597.00 234.68 L597.10 234.18 L597.20 233.66 L597.30 233.10 L597.40 232.51 L597.50 231.89 L597.60 231.23 L597.70 230.53 L597.80 229.80 L597.90 229.02 L598.00 228.19 L598.10 227.32 L598.20 226.40 L598.30 225.43 L598.40 224.40 L598.50 223.31 L598.60 222.16 L598.70 220.94 L598.80 214.85 L598.90 208.89 L599.00 203.07 L599.10 197.39 L599.20 191.86 L599.30 186.49 L599.40 181.28 L599.50 176.24 L599.60 171.39 L599.70 166.72 L599.80 162.25 L599.90 158.01 L600.00 154.00 L600.10 150.25 L600.20 146.79 L600.30 143.66 L600.40 140.93 L600.50 138.71 L600.60 137.36 L600.70 138.71 L600.80 140.93 L600.90 143.66 L601.00 146.79 L601.10 150.25 L601.20 154.00 L601.30 158.01 L601.40 162.25 L601.50 166.72 L601.60 171.39 L601.70 176.24 L601.80 181.28 L601.90 186.49 L602.00 191.86 L602.10 197.39 L602.20 203.07 L602.30 208.89 L602.40 214.85 L602.50 220.94 L602.60 222.15 L602.70 223.30 L602.80 224.38 L602.90 225.41 L603.00 226.38 L603.10 227.30 L603.20 228.17 L603.30 228.99 L603.40 229.76 L603.50 230.50 L603.60 231.19 L603.70 231.85 L603.80 232.47 L603.90 233.05 L604.00 233.61 L604.10 234.13 L604.20 234.63 L604.30 235.09 L604.40 235.54 L604.50 235.95 L604.60 236.35 L604.70 236.72 L604.80 237.07 L604.90 237.41 L605.00 237.72 L605.10 238.02 L605.20 238.30 L605.30 238.56 L605.40 238.81 L605.50 239.04 L605.60 239.26 L605.70 239.47 L605.80 239.67 L605.90 239.85 L606.00 240.02 L606.10 240.19 L606.20 240.34 L606.30 240.48 L606.40 240.61 L606.50 240.74 L606.60 240.86 L606.70 240.96 L606.80 241.07 L606.90 241.16 L607.00 241.25 L607.10 241.33 L607.20 241.40 L607.30 241.47 L607.40 241.53 L607.50 241.58 L607.60 241.63 L607.70 241.67 L607.80 241.71 L607.90 241.75 L608.00 241.77 L608.10 241.80 L608.20 241.81 L608.30 241.83 L608.40 241.83 L608.50 241.84" fill="none" stroke="#bac0f8" stroke-width="2.8" stroke-linejoin="round" stroke-linecap="round"/>
<path d="M608.50 241.84 L608.60 241.83 L608.70 241.82 L608.80 241.81 L608.90 241.78 L609.00 241.76 L609.10 241.72 L609.20 241.68 L609.30 241.63 L609.40 241.58 L609.50 241.52 L609.60 241.45 L609.70 241.37 L609.80 241.29 L609.90 241.19 L610.00 241.10 L610.10 240.99 L610.20 240.87 L610.30 240.75 L610.40 240.61 L610.50 240.47 L610.60 240.31 L610.70 240.15 L610.80 239.97 L610.90 239.78 L611.00 239.58 L611.10 239.37 L611.20 239.15 L611.30 238.91 L611.40 238.66 L611.50 238.39 L611.60 238.11 L611.70 237.81 L611.80 237.49 L611.90 237.15 L612.00 236.80 L612.10 236.42 L612.20 236.03 L612.30 235.61 L612.40 235.16 L612.50 234.70 L612.60 234.20 L612.70 233.68 L612.80 233.14 L612.90 232.56 L613.00 231.94 L613.10 231.30 L613.20 230.62 L613.30 229.90 L613.40 229.14 L613.50 228.34 L613.60 227.50 L613.70 226.61 L613.80 225.68 L613.90 224.69 L614.00 223.65 L614.10 222.55 L614.20 221.39 L614.30 220.17 L614.40 218.88 L614.50 211.29 L614.60 203.83 L614.70 196.52 L614.80 189.37 L614.90 182.37 L615.00 175.54 L615.10 168.87 L615.20 162.38 L615.30 156.08 L615.40 149.96 L615.50 144.05 L615.60 138.34 L615.70 132.86 L615.80 127.62 L615.90 122.64 L616.00 117.93 L616.10 113.53 L616.20 109.46 L616.30 105.79 L616.40 102.58 L616.50 99.98 L616.60 98.39 L616.70 99.99 L616.80 102.63 L616.90 105.87 L617.00 109.58 L617.10 113.68 L617.20 118.13 L617.30 122.88 L617.40 127.92 L617.50 133.21 L617.60 138.75 L617.70 144.51 L617.80 150.49 L617.90 156.67 L618.00 163.04 L618.10 169.59 L618.20 176.33 L618.30 183.23 L618.40 190.30 L618.50 197.53 L618.60 204.91 L618.70 212.44 L618.80 220.11 L618.90 221.40 L619.00 222.62 L619.10 223.78 L619.20 224.88 L619.30 225.93 L619.40 226.92 L619.50 227.85 L619.60 228.74 L619.70 229.59 L619.80 230.39 L619.90 231.15 L620.00 231.87 L620.10 232.55 L620.20 233.20 L620.30 233.81 L620.40 234.39 L620.50 234.94 L620.60 235.46 L620.70 235.96 L620.80 236.43 L620.90 236.87 L621.00 237.29 L621.10 237.69 L621.20 238.07 L621.30 238.42 L621.40 238.76 L621.50 239.08 L621.60 239.38 L621.70 239.67 L621.80 239.94 L621.90 240.20 L622.00 240.44 L622.10 240.67 L622.20 240.88 L622.30 241.08 L622.40 241.27 L622.50 241.45 L622.60 241.62 L622.70 241.78 L622.80 241.93 L622.90 242.07 L623.00 242.20 L623.10 242.32 L623.20 242.43 L623.30 242.54 L623.40 242.63 L623.50 242.72 L623.60 242.81 L623.70 242.88 L623.80 242.95 L623.90 243.01 L624.00 243.07 L624.10 243.12 L624.20 243.16 L624.30 243.20 L624.40 243.23 L624.50 243.25 L624.60 243.27 L624.70 243.29 L624.80 243.30 L624.90 243.30 L625.00 243.30 L625.10 243.29 L625.20 243.27 L625.30 243.25 L625.40 243.23 L625.50 243.20 L625.60 243.16 L625.70 243.11 L625.80 243.06 L625.90 243.01 L626.00 242.94 L626.10 242.87 L626.20 242.80 L626.30 242.71 L626.40 242.62 L626.50 242.52 L626.60 242.42 L626.70 242.30 L626.80 242.18 L626.90 242.05 L627.00 241.91 L627.10 241.75 L627.20 241.59 L627.30 241.42 L627.40 241.24 L627.50 241.05 L627.60 240.84 L627.70 240.62 L627.80 240.39 L627.90 240.15 L628.00 239.89 L628.10 239.61 L628.20 239.32 L628.30 239.01 L628.40 238.69 L628.50 238.35 L628.60 237.98 L628.70 237.60 L628.80 237.19 L628.90 236.77 L629.00 236.32 L629.10 235.84 L629.20 235.34 L629.30 234.81 L629.40 234.25 L629.50 233.66 L629.60 233.03 L629.70 232.37 L629.80 231.68 L629.90 230.95 L630.00 230.18 L630.10 229.37 L630.20 228.51 L630.30 227.60 L630.40 226.65 L630.50 225.65 L630.60 224.59 L630.70 223.47 L630.80 222.29 L630.90 221.05 L631.00 219.74 L631.10 211.94 L631.20 204.29 L631.30 196.79 L631.40 189.44 L631.50 182.26 L631.60 175.24 L631.70 168.40 L631.80 161.74 L631.90 155.26 L632.00 148.99 L632.10 142.91 L632.20 137.06 L632.30 131.43 L632.40 126.05 L632.50 120.94 L632.60 116.10 L632.70 111.58 L632.80 107.41 L632.90 103.64 L633.00 100.35 L633.10 97.67 L633.20 96.04 L633.30 97.67 L633.40 100.35 L633.50 103.64 L633.60 107.41 L633.70 111.58 L633.80 116.10 L633.90 120.94 L634.00 126.05 L634.10 131.43 L634.20 137.06 L634.30 142.91 L634.40 148.99 L634.50 155.26 L634.60 161.74 L634.70 168.40 L634.80 175.24 L634.90 182.26 L635.00 189.44 L635.10 196.79 L635.20 204.29 L635.30 211.94 L635.40 219.74 L635.50 221.05 L635.60 222.30 L635.70 223.48 L635.80 224.61 L635.90 225.67 L636.00 226.68 L636.10 227.64 L636.20 228.55 L636.30 229.41 L636.40 230.22 L636.50 231.00 L636.60 231.73 L636.70 232.43 L636.80 233.09 L636.90 233.71 L637.00 234.31 L637.10 234.87 L637.20 235.40 L637.30 235.90 L637.40 236.38 L637.50 236.84 L637.60 237.26 L637.70 237.67 L637.80 238.05 L637.90 238.42 L638.00 238.76 L638.10 239.09 L638.20 239.40 L638.30 239.69 L638.40 239.96 L638.50 240.22 L638.60 240.47 L638.70 240.70 L638.80 240.91 L638.90 241.12 L639.00 241.31 L639.10 241.49 L639.20 241.66 L639.30 241.82 L639.40 241.97 L639.50 242.11 L639.60 242.24 L639.70 242.37 L639.80 242.48 L639.90 242.58 L640.00 242.68 L640.10 242.77 L640.20 242.85 L640.30 242.92 L640.40 242.99 L640.50 243.05 L640.60 243.10 L640.70 243.15 L640.80 243.19 L640.90 243.22 L641.00 243.25 L641.10 243.27 L641.20 243.29 L641.30 243.30 L641.40 243.30 L641.50 243.30 L641.60 243.29 L641.70 243.27 L641.80 243.25 L641.90 243.22 L642.00 243.19 L642.10 243.15 L642.20 243.10 L642.30 243.05 L642.40 242.99 L642.50 242.92 L642.60 242.85 L642.70 242.76 L642.80 242.67 L642.90 242.58 L643.00 242.47 L643.10 242.36 L643.20 242.24 L643.30 242.10 L643.40 241.96 L643.50 241.81 L643.60 241.65 L643.70 241.48 L643.80 241.30 L643.90 241.10 L644.00 240.90 L644.10 240.68 L644.20 240.44 L644.30 240.20 L644.40 239.93 L644.50 239.66 L644.60 239.36 L644.70 239.05 L644.80 238.73 L644.90 238.38 L645.00 238.01 L645.10 237.62 L645.20 237.22 L645.30 236.78 L645.40 236.33 L645.50 235.85 L645.60 235.34 L645.70 234.80 L645.80 234.23 L645.90 233.64 L646.00 233.01 L646.10 232.34 L646.20 231.64 L646.30 230.90 L646.40 230.12 L646.50 229.30 L646.60 228.43 L646.70 227.51 L646.80 226.55 L646.90 225.53 L647.00 224.46 L647.10 223.33 L647.20 222.13 L647.30 220.88 L647.40 219.55 L647.50 211.69 L647.60 203.98 L647.70 196.42 L647.80 189.01 L647.90 181.77 L648.00 174.70 L648.10 167.81 L648.20 161.09 L648.30 154.56 L648.40 148.24 L648.50 142.12 L648.60 136.21 L648.70 130.54 L648.80 125.12 L648.90 119.96 L649.00 115.09 L649.10 110.54 L649.20 106.33 L649.30 102.53 L649.40 99.21 L649.50 96.52 L649.60 94.87 L649.70 96.52 L649.80 99.21 L649.90 102.53 L650.00 106.33 L650.10 110.54 L650.20 115.09 L650.30 119.96 L650.40 125.12 L650.50 130.54 L650.60 136.21 L650.70 142.12 L650.80 148.24 L650.90 154.56 L651.00 161.09 L651.10 167.81 L651.20 174.70 L651.30 181.77 L651.40 189.01 L651.50 196.42 L651.60 203.98 L651.70 211.69 L651.80 219.55 L651.90 220.87 L652.00 222.12 L652.10 223.30 L652.20 224.43 L652.30 225.49 L652.40 226.50 L652.50 227.46 L652.60 228.37 L652.70 229.24 L652.80 230.05 L652.90 230.83 L653.00 231.56 L653.10 232.26 L653.20 232.92 L653.30 233.55 L653.40 234.14 L653.50 234.71 L653.60 235.24 L653.70 235.75 L653.80 236.23 L653.90 236.68 L654.00 237.11 L654.10 237.52 L654.20 237.91 L654.30 238.27 L654.40 238.62 L654.50 238.94 L654.60 239.25 L654.70 239.55 L654.80 239.82 L654.90 240.09 L655.00 240.33 L655.10 240.57 L655.20 240.79 L655.30 240.99 L655.40 241.19 L655.50 241.37 L655.60 241.55 L655.70 241.71 L655.80 241.86 L655.90 242.00 L656.00 242.14 L656.10 242.26 L656.20 242.38 L656.30 242.49 L656.40 242.59 L656.50 242.68 L656.60 242.77 L656.70 242.85 L656.80 242.92 L656.90 242.98 L657.00 243.04 L657.10 243.09 L657.20 243.14 L657.30 243.18 L657.40 243.21 L657.50 243.24 L657.60 243.27 L657.70 243.28 L657.80 243.29 L657.90 243.30 L657.95 243.30 L658.05 243.30 L658.15 243.29 L658.25 243.27 L658.35 243.26 L658.45 243.23 L658.55 243.20 L658.65 243.16 L658.75 243.12 L658.85 243.07 L658.95 243.02 L659.05 242.95 L659.15 242.89 L659.25 242.81 L659.35 242.73 L659.45 242.64 L659.55 242.55 L659.65 242.44 L659.75 242.33 L659.85 242.21 L659.95 242.08 L660.05 241.94 L660.15 241.80 L660.25 241.64 L660.35 241.48 L660.45 241.30 L660.55 241.11 L660.65 240.91 L660.75 240.70 L660.85 240.47 L660.95 240.24 L661.05 239.98 L661.15 239.72 L661.25 239.43 L661.35 239.13 L661.45 238.82 L661.55 238.48 L661.65 238.13 L661.75 237.76 L661.85 237.37 L661.95 236.95 L662.05 236.51 L662.15 236.05 L662.25 235.56 L662.35 235.04 L662.45 234.50 L662.55 233.93 L662.65 233.32 L662.75 232.68 L662.85 232.01 L662.95 231.30 L663.05 230.55 L663.15 229.76 L663.25 228.92 L663.35 228.05 L663.45 227.12 L663.55 226.14 L663.65 225.11 L663.75 224.03 L663.85 222.88 L663.95 221.67 L664.05 220.40 L664.15 215.82 L664.25 208.09 L664.35 200.52 L664.45 193.09 L664.55 185.83 L664.65 178.73 L664.75 171.80 L664.85 165.05 L664.95 158.48 L665.05 152.10 L665.15 145.92 L665.25 139.96 L665.35 134.22 L665.45 128.71 L665.55 123.46 L665.65 118.48 L665.75 113.80 L665.85 109.45 L665.95 105.48 L666.05 101.93 L666.15 98.92 L666.25 96.66 L666.30 96.04 L666.40 97.67 L666.50 100.35 L666.60 103.64 L666.70 107.41 L666.80 111.58 L666.90 116.10 L667.00 120.94 L667.10 126.05 L667.20 131.43 L667.30 137.06 L667.40 142.91 L667.50 148.99 L667.60 155.26 L667.70 161.74 L667.80 168.40 L667.90 175.24 L668.00 182.26 L668.10 189.44 L668.20 196.79 L668.30 204.29 L668.40 211.94 L668.50 219.74 L668.60 221.03 L668.70 222.26 L668.80 223.42 L668.90 224.53 L669.00 225.58 L669.10 226.57 L669.20 227.51 L669.30 228.41 L669.40 229.26 L669.50 230.06 L669.60 230.82 L669.70 231.55 L669.80 232.23 L669.90 232.88 L670.00 233.50 L670.10 234.08 L670.20 234.64 L670.30 235.16 L670.40 235.66 L670.50 236.13 L670.60 236.58 L670.70 237.01 L670.80 237.41 L670.90 237.79 L671.00 238.15 L671.10 238.49 L671.20 238.81 L671.30 239.12 L671.40 239.41 L671.50 239.68 L671.60 239.94 L671.70 240.19 L671.80 240.42 L671.90 240.64 L672.00 240.85 L672.10 241.04 L672.20 241.23 L672.30 241.40 L672.40 241.56 L672.50 241.72 L672.60 241.86 L672.70 242.00 L672.80 242.12 L672.90 242.24 L673.00 242.35 L673.10 242.46 L673.20 242.56 L673.30 242.65 L673.40 242.73 L673.50 242.81 L673.60 242.88 L673.70 242.94 L673.80 243.00 L673.90 243.05 L674.00 243.10 L674.10 243.14 L674.20 243.18 L674.30 243.21 L674.40 243.24 L674.50 243.26 L674.60 243.28 L674.70 243.29 L674.80 243.30 L674.90 243.30 L675.00 243.30 L675.10 243.29 L675.20 243.28 L675.30 243.26 L675.40 243.24 L675.50 243.21 L675.60 243.18 L675.70 243.14 L675.80 243.10 L675.90 243.05 L676.00 243.00 L676.10 242.94 L676.20 242.87 L676.30 242.80 L676.40 242.72 L676.50 242.64 L676.60 242.55 L676.70 242.45 L676.80 242.35 L676.90 242.23 L677.00 242.11 L677.10 241.99 L677.20 241.85 L677.30 241.70 L677.40 241.55 L677.50 241.38 L677.60 241.21 L677.70 241.02 L677.80 240.83 L677.90 240.62 L678.00 240.40 L678.10 240.16 L678.20 239.92 L678.30 239.66 L678.40 239.38 L678.50 239.09 L678.60 238.78 L678.70 238.45 L678.80 238.11 L678.90 237.75 L679.00 237.36 L679.10 236.96 L679.20 236.53 L679.30 236.08 L679.40 235.60 L679.50 235.10 L679.60 234.57 L679.70 234.01 L679.80 233.42 L679.90 232.80 L680.00 232.14 L680.10 231.45 L680.20 230.72 L680.30 229.95 L680.40 229.14 L680.50 228.29 L680.60 227.39 L680.70 226.44 L680.80 225.44 L680.90 224.38 L681.00 223.27 L681.10 222.09 L681.20 220.86 L681.30 219.55 L681.40 211.69 L681.50 203.98 L681.60 196.42 L681.70 189.01 L681.80 181.77 L681.90 174.70 L682.00 167.81 L682.10 161.09 L682.20 154.56 L682.30 148.24 L682.40 142.12 L682.50 136.21 L682.60 130.54 L682.70 125.12 L682.80 119.96 L682.90 115.09 L683.00 110.54 L683.10 106.33 L683.20 102.53 L683.30 99.21 L683.40 96.52 L683.50 94.87 L683.60 96.52 L683.70 99.21 L683.80 102.53 L683.90 106.33 L684.00 110.54 L684.10 115.09 L684.20 119.96 L684.30 125.12 L684.40 130.54 L684.50 136.21 L684.60 142.12 L684.70 148.24 L684.80 154.56 L684.90 161.09 L685.00 167.81 L685.10 174.70 L685.20 181.77 L685.30 189.01 L685.40 196.42 L685.50 203.98 L685.60 211.69 L685.70 219.55 L685.80 220.80 L685.90 221.98 L686.00 223.11 L686.10 224.18 L686.20 225.19 L686.30 226.15 L686.40 227.06 L686.50 227.92 L686.60 228.74 L686.70 229.52 L686.80 230.26 L686.90 230.96 L687.00 231.62 L687.10 232.25 L687.20 232.85 L687.30 233.41 L687.40 233.95 L687.50 234.46 L687.60 234.94 L687.70 235.40 L687.80 235.84 L687.90 236.25 L688.00 236.64 L688.10 237.01 L688.20 237.37 L688.30 237.70 L688.40 238.02 L688.50 238.32 L688.60 238.60 L688.70 238.88 L688.80 239.13 L688.90 239.37 L689.00 239.61 L689.10 239.82 L689.20 240.03 L689.30 240.23 L689.40 240.41 L689.50 240.59 L689.60 240.76 L689.70 240.92 L689.80 241.07 L689.90 241.21 L690.00 241.35 L690.10 241.47 L690.20 241.59 L690.30 241.71 L690.40 241.82 L690.50 241.92 L690.60 242.02 L690.70 242.11 L690.80 242.20 L690.90 242.28 L691.00 242.36 L691.10 242.43 L691.20 242.50 L691.30 242.56 L691.40 242.63 L691.50 242.68 L691.60 242.74 L691.70 242.79 L691.80 242.84 L691.90 242.88 L692.00 242.93 L692.10 242.96 L692.20 243.00 L692.30 243.04 L692.40 243.07 L692.50 243.10 L692.60 243.12 L692.70 243.15 L692.80 243.17 L692.90 243.19 L693.00 243.21 L693.10 243.23 L693.20 243.24 L693.30 243.26 L693.40 243.27 L693.50 243.28 L693.60 243.29 L693.70 243.29 L693.80 243.30 L693.90 243.30 L694.00 243.30" fill="none" stroke="#84caf3" stroke-width="2.8" stroke-linejoin="round" stroke-linecap="round"/>
</g>
<rect x="435.00" y="23.00" width="292.00" height="235.00" fill="none" stroke="#0a0a0a" stroke-width="2.5"/>
<line x1="464.10" y1="258.00" x2="464.10" y2="253.70" stroke="#000" stroke-width="2"/>
<text x="464.10" y="279.00" font-family="Liberation Sans, sans-serif" font-size="19.5" text-anchor="middle" textLength="11.17" lengthAdjust="spacingAndGlyphs" fill="#1a1a1a" stroke="#1a1a1a" stroke-width="0.3">0</text>
<line x1="522.55" y1="258.00" x2="522.55" y2="253.70" stroke="#000" stroke-width="2"/>
<text x="522.55" y="279.00" font-family="Liberation Sans, sans-serif" font-size="19.5" text-anchor="middle" textLength="29.92" lengthAdjust="spacingAndGlyphs" fill="#1a1a1a" stroke="#1a1a1a" stroke-width="0.3">100</text>
<line x1="581.00" y1="258.00" x2="581.00" y2="253.70" stroke="#000" stroke-width="2"/>
<text x="581.00" y="279.00" font-family="Liberation Sans, sans-serif" font-size="19.5" text-anchor="middle" textLength="33.50" lengthAdjust="spacingAndGlyphs" fill="#1a1a1a" stroke="#1a1a1a" stroke-width="0.3">200</text>
<line x1="639.45" y1="258.00" x2="639.45" y2="253.70" stroke="#000" stroke-width="2"/>
<text x="639.45" y="279.00" font-family="Liberation Sans, sans-serif" font-size="19.5" text-anchor="middle" textLength="33.50" lengthAdjust="spacingAndGlyphs" fill="#1a1a1a" stroke="#1a1a1a" stroke-width="0.3">300</text>
<line x1="697.90" y1="258.00" x2="697.90" y2="253.70" stroke="#000" stroke-width="2"/>
<text x="697.90" y="279.00" font-family="Liberation Sans, sans-serif" font-size="19.5" text-anchor="middle" textLength="33.50" lengthAdjust="spacingAndGlyphs" fill="#1a1a1a" stroke="#1a1a1a" stroke-width="0.3">400</text>
<line x1="435.00" y1="243.30" x2="439.30" y2="243.30" stroke="#000" stroke-width="2"/>
<text x="429.40" y="248.90" font-family="Liberation Sans, sans-serif" font-size="19.5" text-anchor="end" textLength="11.17" lengthAdjust="spacingAndGlyphs" fill="#1a1a1a" stroke="#1a1a1a" stroke-width="0.3">0</text>
<line x1="435.00" y1="214.00" x2="439.30" y2="214.00" stroke="#000" stroke-width="2"/>
<text x="429.40" y="219.60" font-family="Liberation Sans, sans-serif" font-size="19.5" text-anchor="end" textLength="21.47" lengthAdjust="spacingAndGlyphs" fill="#1a1a1a" stroke="#1a1a1a" stroke-width="0.3">10</text>
<line x1="435.00" y1="184.70" x2="439.30" y2="184.70" stroke="#000" stroke-width="2"/>
<text x="429.40" y="190.30" font-family="Liberation Sans, sans-serif" font-size="19.5" text-anchor="end" textLength="22.33" lengthAdjust="spacingAndGlyphs" fill="#1a1a1a" stroke="#1a1a1a" stroke-width="0.3">20</text>
<line x1="435.00" y1="155.40" x2="439.30" y2="155.40" stroke="#000" stroke-width="2"/>
<text x="429.40" y="161.00" font-family="Liberation Sans, sans-serif" font-size="19.5" text-anchor="end" textLength="22.33" lengthAdjust="spacingAndGlyphs" fill="#1a1a1a" stroke="#1a1a1a" stroke-width="0.3">30</text>
<line x1="435.00" y1="126.10" x2="439.30" y2="126.10" stroke="#000" stroke-width="2"/>
<text x="429.40" y="131.70" font-family="Liberation Sans, sans-serif" font-size="19.5" text-anchor="end" textLength="22.33" lengthAdjust="spacingAndGlyphs" fill="#1a1a1a" stroke="#1a1a1a" stroke-width="0.3">40</text>
<line x1="435.00" y1="96.80" x2="439.30" y2="96.80" stroke="#000" stroke-width="2"/>
<text x="429.40" y="102.40" font-family="Liberation Sans, sans-serif" font-size="19.5" text-anchor="end" textLength="22.33" lengthAdjust="spacingAndGlyphs" fill="#1a1a1a" stroke="#1a1a1a" stroke-width="0.3">50</text>
<line x1="435.00" y1="67.50" x2="439.30" y2="67.50" stroke="#000" stroke-width="2"/>
<text x="429.40" y="73.10" font-family="Liberation Sans, sans-serif" font-size="19.5" text-anchor="end" textLength="22.33" lengthAdjust="spacingAndGlyphs" fill="#1a1a1a" stroke="#1a1a1a" stroke-width="0.3">60</text>
<line x1="435.00" y1="38.20" x2="439.30" y2="38.20" stroke="#000" stroke-width="2"/>
<text x="429.40" y="43.80" font-family="Liberation Sans, sans-serif" font-size="19.5" text-anchor="end" textLength="22.33" lengthAdjust="spacingAndGlyphs" fill="#1a1a1a" stroke="#1a1a1a" stroke-width="0.3">70</text>
<text x="580.40" y="308.80" font-family="Liberation Sans, sans-serif" font-size="25.6" text-anchor="middle" textLength="97.0" lengthAdjust="spacingAndGlyphs" fill="#111">Time (s)</text>
<g transform="translate(400.60 140.70) rotate(-90)"><text x="0" y="0" font-family="Liberation Sans, sans-serif" font-size="26.3" text-anchor="middle" fill="#111" textLength="72.5" lengthAdjust="spacingAndGlyphs">ΔC/C<tspan font-size="16.7" dy="7.3">0</tspan></text></g>
<text x="613.40" y="59.00" font-family="Liberation Sans, sans-serif" font-size="12.60" fill="#262626" stroke="#262626" stroke-width="0.25" textLength="88.0" lengthAdjust="spacingAndGlyphs">PVA/H<tspan font-size="8.32" dy="3">3</tspan><tspan dy="-3">PO</tspan><tspan font-size="8.32" dy="3">4</tspan><tspan dy="-3">(0.8)</tspan></text>
<text x="381.00" y="29.30" font-family="Liberation Sans, sans-serif" font-size="40.5" fill="#000">b</text>
<g filter="url(#soft2)">
<path d="M82.90 543.60 L83.00 543.60 L83.10 543.59 L83.20 543.57 L83.30 543.55 L83.40 543.53 L83.50 543.49 L83.60 543.45 L83.70 543.41 L83.80 543.36 L83.90 543.30 L84.00 543.24 L84.10 543.17 L84.20 543.09 L84.30 543.01 L84.40 542.92 L84.50 542.82 L84.60 542.71 L84.70 542.60 L84.80 542.48 L84.90 542.36 L85.00 542.22 L85.10 542.08 L85.20 541.93 L85.30 541.77 L85.40 541.60 L85.50 541.42 L85.60 541.23 L85.70 541.04 L85.80 540.83 L85.90 540.61 L86.00 540.39 L86.10 540.15 L86.20 539.90 L86.30 539.63 L86.40 539.36 L86.50 539.07 L86.60 538.77 L86.70 538.46 L86.80 538.13 L86.90 537.79 L87.00 537.43 L87.10 537.06 L87.20 536.67 L87.30 536.26 L87.40 535.84 L87.50 535.39 L87.60 534.93 L87.70 534.45 L87.80 533.95 L87.90 533.42 L88.00 532.88 L88.10 532.31 L88.20 531.72 L88.30 531.10 L88.40 530.46 L88.50 529.79 L88.60 529.09 L88.70 526.47 L88.80 523.94 L88.90 521.49 L89.00 519.15 L89.10 516.90 L89.20 514.77 L89.30 512.75 L89.40 510.86 L89.50 509.12 L89.60 507.55 L89.70 506.18 L89.80 505.06 L89.90 504.38 L89.90 504.38 L90.00 505.03 L90.10 506.10 L90.20 507.42 L90.30 508.93 L90.40 510.61 L90.50 512.42 L90.60 514.35 L90.70 516.40 L90.80 518.56 L90.90 520.81 L91.00 523.16 L91.10 525.59 L91.20 528.10 L91.30 528.78 L91.40 529.43 L91.50 530.05 L91.60 530.65 L91.70 531.22 L91.80 531.77 L91.90 532.30 L92.00 532.81 L92.10 533.29 L92.20 533.76 L92.30 534.21 L92.40 534.64 L92.50 535.05 L92.60 535.44 L92.70 535.82 L92.80 536.18 L92.90 536.52 L93.00 536.85 L93.10 537.17 L93.20 537.47 L93.30 537.76 L93.40 538.04 L93.50 538.30 L93.60 538.55 L93.70 538.80 L93.80 539.03 L93.90 539.24 L94.00 539.45 L94.10 539.65 L94.20 539.84 L94.30 540.02 L94.40 540.19 L94.50 540.35 L94.60 540.50 L94.70 540.65 L94.80 540.78 L94.90 540.91 L95.00 541.03 L95.10 541.15 L95.20 541.25 L95.30 541.35 L95.40 541.44 L95.50 541.52 L95.60 541.60 L95.70 541.67 L95.80 541.74 L95.90 541.79 L96.00 541.85 L96.10 541.89 L96.20 541.93 L96.30 541.96 L96.40 541.99 L96.50 542.01 L96.60 542.03 L96.70 542.04 L96.80 542.04 L96.80 542.04 L96.90 542.04 L97.00 542.03 L97.10 542.01 L97.20 541.99 L97.30 541.96 L97.40 541.93 L97.50 541.89 L97.60 541.85 L97.70 541.79 L97.80 541.74 L97.90 541.67 L98.00 541.60 L98.10 541.52 L98.20 541.44 L98.30 541.35 L98.40 541.25 L98.50 541.15 L98.60 541.03 L98.70 540.91 L98.80 540.78 L98.90 540.65 L99.00 540.50 L99.10 540.35 L99.20 540.19 L99.30 540.02 L99.40 539.84 L99.50 539.65 L99.60 539.45 L99.70 539.24 L99.80 539.03 L99.90 538.80 L100.00 538.55 L100.10 538.30 L100.20 538.04 L100.30 537.76 L100.40 537.47 L100.50 537.17 L100.60 536.85 L100.70 536.52 L100.80 536.18 L100.90 535.82 L101.00 535.44 L101.10 535.05 L101.20 534.64 L101.30 534.21 L101.40 533.76 L101.50 533.29 L101.60 532.81 L101.70 532.30 L101.80 531.77 L101.90 531.22 L102.00 530.65 L102.10 530.05 L102.20 529.43 L102.30 528.78 L102.40 528.10 L102.50 525.59 L102.60 523.16 L102.70 520.81 L102.80 518.56 L102.90 516.40 L103.00 514.35 L103.10 512.42 L103.20 510.61 L103.30 508.93 L103.40 507.42 L103.50 506.10 L103.60 505.03 L103.70 504.38 L103.70 504.38 L103.80 505.03 L103.90 506.10 L104.00 507.42 L104.10 508.93 L104.20 510.61 L104.30 512.42 L104.40 514.35 L104.50 516.40 L104.60 518.56 L104.70 520.81 L104.80 523.16 L104.90 525.59 L105.00 528.10 L105.10 528.80 L105.20 529.47 L105.30 530.11 L105.40 530.72 L105.50 531.31 L105.60 531.87 L105.70 532.41 L105.80 532.93 L105.90 533.43 L106.00 533.91 L106.10 534.37 L106.20 534.80 L106.30 535.22 L106.40 535.63 L106.50 536.01 L106.60 536.38 L106.70 536.73 L106.80 537.07 L106.90 537.39 L107.00 537.70 L107.10 537.99 L107.20 538.27 L107.30 538.54 L107.40 538.79 L107.50 539.03 L107.60 539.26 L107.70 539.48 L107.80 539.69 L107.90 539.89 L108.00 540.08 L108.10 540.25 L108.20 540.42 L108.30 540.58 L108.40 540.73 L108.50 540.87 L108.60 541.00 L108.70 541.12 L108.80 541.24 L108.90 541.34 L109.00 541.44 L109.10 541.53 L109.20 541.61 L109.30 541.69 L109.40 541.76 L109.50 541.81 L109.60 541.87 L109.70 541.91 L109.80 541.95 L109.90 541.98 L110.00 542.01 L110.10 542.02 L110.20 542.03 L110.30 542.04 L110.30 542.04 L110.40 542.03 L110.50 542.02 L110.60 542.01 L110.70 541.98 L110.80 541.95 L110.90 541.91 L111.00 541.87 L111.10 541.81 L111.20 541.76 L111.30 541.69 L111.40 541.61 L111.50 541.53 L111.60 541.44 L111.70 541.34 L111.80 541.24 L111.90 541.12 L112.00 541.00 L112.10 540.87 L112.20 540.73 L112.30 540.58 L112.40 540.42 L112.50 540.25 L112.60 540.08 L112.70 539.89 L112.80 539.69 L112.90 539.48 L113.00 539.26 L113.10 539.03 L113.20 538.79 L113.30 538.54 L113.40 538.27 L113.50 537.99 L113.60 537.70 L113.70 537.39 L113.80 537.07 L113.90 536.73 L114.00 536.38 L114.10 536.01 L114.20 535.63 L114.30 535.22 L114.40 534.80 L114.50 534.37 L114.60 533.91 L114.70 533.43 L114.80 532.93 L114.90 532.41 L115.00 531.87 L115.10 531.31 L115.20 530.72 L115.30 530.11 L115.40 529.47 L115.50 528.80 L115.60 528.10 L115.70 525.59 L115.80 523.16 L115.90 520.81 L116.00 518.56 L116.10 516.40 L116.20 514.35 L116.30 512.42 L116.40 510.61 L116.50 508.93 L116.60 507.42 L116.70 506.10 L116.80 505.03 L116.90 504.38 L116.90 504.38 L117.00 505.03 L117.10 506.10 L117.20 507.42 L117.30 508.93 L117.40 510.61 L117.50 512.42 L117.60 514.35 L117.70 516.40 L117.80 518.56 L117.90 520.81 L118.00 523.16 L118.10 525.59 L118.20 528.10 L118.30 528.79 L118.40 529.45 L118.50 530.08 L118.60 530.68 L118.70 531.26 L118.80 531.82 L118.90 532.36 L119.00 532.87 L119.10 533.36 L119.20 533.83 L119.30 534.28 L119.40 534.72 L119.50 535.13 L119.60 535.53 L119.70 535.91 L119.80 536.27 L119.90 536.62 L120.00 536.96 L120.10 537.28 L120.20 537.58 L120.30 537.87 L120.40 538.15 L120.50 538.42 L120.60 538.67 L120.70 538.91 L120.80 539.14 L120.90 539.36 L121.00 539.57 L121.10 539.77 L121.20 539.96 L121.30 540.13 L121.40 540.30 L121.50 540.46 L121.60 540.61 L121.70 540.76 L121.80 540.89 L121.90 541.02 L122.00 541.13 L122.10 541.24 L122.20 541.35 L122.30 541.44 L122.40 541.53 L122.50 541.61 L122.60 541.68 L122.70 541.75 L122.80 541.80 L122.90 541.86 L123.00 541.90 L123.10 541.94 L123.20 541.97 L123.30 542.00 L123.40 542.02 L123.50 542.03 L123.60 542.04 L123.65 542.04 L123.75 542.03 L123.85 542.03 L123.95 542.01 L124.05 541.99 L124.15 541.96 L124.25 541.92 L124.35 541.88 L124.45 541.83 L124.55 541.78 L124.65 541.71 L124.75 541.64 L124.85 541.57 L124.95 541.48 L125.05 541.39 L125.15 541.30 L125.25 541.19 L125.35 541.08 L125.45 540.95 L125.55 540.82 L125.65 540.69 L125.75 540.54 L125.85 540.38 L125.95 540.22 L126.05 540.05 L126.15 539.86 L126.25 539.67 L126.35 539.47 L126.45 539.25 L126.55 539.03 L126.65 538.79 L126.75 538.54 L126.85 538.28 L126.95 538.01 L127.05 537.73 L127.15 537.43 L127.25 537.12 L127.35 536.79 L127.45 536.45 L127.55 536.09 L127.65 535.72 L127.75 535.33 L127.85 534.93 L127.95 534.50 L128.05 534.06 L128.15 533.60 L128.25 533.12 L128.35 532.62 L128.45 532.09 L128.55 531.55 L128.65 530.98 L128.75 530.38 L128.85 529.77 L128.95 529.12 L129.05 528.45 L129.15 526.84 L129.25 524.36 L129.35 521.97 L129.45 519.67 L129.55 517.47 L129.65 515.36 L129.75 513.37 L129.85 511.49 L129.95 509.75 L130.05 508.16 L130.15 506.74 L130.25 505.53 L130.35 504.63 L130.40 504.38 L130.50 505.03 L130.60 506.10 L130.70 507.42 L130.80 508.93 L130.90 510.61 L131.00 512.42 L131.10 514.35 L131.20 516.40 L131.30 518.56 L131.40 520.81 L131.50 523.16 L131.60 525.59 L131.70 528.10 L131.80 528.80 L131.90 529.47 L132.00 530.11 L132.10 530.72 L132.20 531.31 L132.30 531.87 L132.40 532.41 L132.50 532.93 L132.60 533.43 L132.70 533.91 L132.80 534.37 L132.90 534.80 L133.00 535.22 L133.10 535.63 L133.20 536.01 L133.30 536.38 L133.40 536.73 L133.50 537.07 L133.60 537.39 L133.70 537.70 L133.80 537.99 L133.90 538.27 L134.00 538.54 L134.10 538.79 L134.20 539.03 L134.30 539.26 L134.40 539.48 L134.50 539.69 L134.60 539.89 L134.70 540.08 L134.80 540.25 L134.90 540.42 L135.00 540.58 L135.10 540.73 L135.20 540.87 L135.30 541.00 L135.40 541.12 L135.50 541.24 L135.60 541.34 L135.70 541.44 L135.80 541.53 L135.90 541.61 L136.00 541.69 L136.10 541.76 L136.20 541.81 L136.30 541.87 L136.40 541.91 L136.50 541.95 L136.60 541.98 L136.70 542.01 L136.80 542.02 L136.90 542.03 L137.00 542.04 L137.00 542.04 L137.10 542.03 L137.20 542.02 L137.30 542.01 L137.40 541.98 L137.50 541.95 L137.60 541.91 L137.70 541.87 L137.80 541.81 L137.90 541.76 L138.00 541.69 L138.10 541.61 L138.20 541.53 L138.30 541.44 L138.40 541.34 L138.50 541.24 L138.60 541.12 L138.70 541.00 L138.80 540.87 L138.90 540.73 L139.00 540.58 L139.10 540.42 L139.20 540.25 L139.30 540.08 L139.40 539.89 L139.50 539.69 L139.60 539.48 L139.70 539.26 L139.80 539.03 L139.90 538.79 L140.00 538.54 L140.10 538.27 L140.20 537.99 L140.30 537.70 L140.40 537.39 L140.50 537.07 L140.60 536.73 L140.70 536.38 L140.80 536.01 L140.90 535.63 L141.00 535.22 L141.10 534.80 L141.20 534.37 L141.30 533.91 L141.40 533.43 L141.50 532.93 L141.60 532.41 L141.70 531.87 L141.80 531.31 L141.90 530.72 L142.00 530.11 L142.10 529.47 L142.20 528.80 L142.30 528.10 L142.40 525.59 L142.50 523.16 L142.60 520.81 L142.70 518.56 L142.80 516.40 L142.90 514.35 L143.00 512.42 L143.10 510.61 L143.20 508.93 L143.30 507.42 L143.40 506.10 L143.50 505.03 L143.60 504.38 L143.60 504.38 L143.70 505.03 L143.80 506.10 L143.90 507.42 L144.00 508.93 L144.10 510.61 L144.20 512.42 L144.30 514.35 L144.40 516.40 L144.50 518.56 L144.60 520.81 L144.70 523.16 L144.80 525.59 L144.90 528.10 L145.00 528.78 L145.10 529.43 L145.20 530.05 L145.30 530.65 L145.40 531.22 L145.50 531.77 L145.60 532.30 L145.70 532.81 L145.80 533.29 L145.90 533.76 L146.00 534.21 L146.10 534.64 L146.20 535.05 L146.30 535.44 L146.40 535.82 L146.50 536.18 L146.60 536.52 L146.70 536.85 L146.80 537.17 L146.90 537.47 L147.00 537.76 L147.10 538.04 L147.20 538.30 L147.30 538.55 L147.40 538.80 L147.50 539.03 L147.60 539.24 L147.70 539.45 L147.80 539.65 L147.90 539.84 L148.00 540.02 L148.10 540.19 L148.20 540.35 L148.30 540.50 L148.40 540.65 L148.50 540.78 L148.60 540.91 L148.70 541.03 L148.80 541.15 L148.90 541.25 L149.00 541.35 L149.10 541.44 L149.20 541.52 L149.30 541.60 L149.40 541.67 L149.50 541.74 L149.60 541.79 L149.70 541.85 L149.80 541.89 L149.90 541.93 L150.00 541.96 L150.10 541.99 L150.20 542.01 L150.30 542.03 L150.40 542.04 L150.50 542.04 L150.50 542.04" fill="none" stroke="#d0b0ef" stroke-width="2.8" stroke-linejoin="round" stroke-linecap="round"/>
<path d="M150.50 542.04 L150.60 542.04 L150.70 542.03 L150.80 542.01 L150.90 541.99 L151.00 541.97 L151.10 541.94 L151.20 541.90 L151.30 541.86 L151.40 541.81 L151.50 541.75 L151.60 541.69 L151.70 541.62 L151.80 541.55 L151.90 541.47 L152.00 541.38 L152.10 541.28 L152.20 541.18 L152.30 541.07 L152.40 540.95 L152.50 540.82 L152.60 540.68 L152.70 540.54 L152.80 540.38 L152.90 540.21 L153.00 540.04 L153.10 539.85 L153.20 539.65 L153.30 539.44 L153.40 539.21 L153.50 538.97 L153.60 538.72 L153.70 538.46 L153.80 538.17 L153.90 537.88 L154.00 537.56 L154.10 537.23 L154.20 536.87 L154.30 536.50 L154.40 536.11 L154.50 535.69 L154.60 535.25 L154.70 534.79 L154.80 534.30 L154.90 533.79 L155.00 533.24 L155.10 532.67 L155.20 532.06 L155.30 531.43 L155.40 530.75 L155.50 530.04 L155.60 529.29 L155.70 528.50 L155.80 527.67 L155.90 526.79 L156.00 525.87 L156.10 524.89 L156.20 523.86 L156.30 522.78 L156.40 521.63 L156.50 520.43 L156.60 519.15 L156.70 517.81 L156.80 516.40 L156.90 509.77 L157.00 503.29 L157.10 496.96 L157.20 490.79 L157.30 484.78 L157.40 478.93 L157.50 473.27 L157.60 467.79 L157.70 462.51 L157.80 457.43 L157.90 452.58 L158.00 447.96 L158.10 443.60 L158.20 439.52 L158.30 435.76 L158.40 432.36 L158.50 429.39 L158.60 426.97 L158.70 425.50 L158.70 425.50 L158.80 426.97 L158.90 429.37 L159.00 432.33 L159.10 435.72 L159.20 439.47 L159.30 443.54 L159.40 447.88 L159.50 452.49 L159.60 457.32 L159.70 462.38 L159.80 467.65 L159.90 473.11 L160.00 478.75 L160.10 484.58 L160.20 490.57 L160.30 496.72 L160.40 503.03 L160.50 509.49 L160.60 516.09 L160.70 517.52 L160.80 518.87 L160.90 520.15 L161.00 521.36 L161.10 522.51 L161.20 523.61 L161.30 524.64 L161.40 525.63 L161.50 526.56 L161.60 527.44 L161.70 528.28 L161.80 529.07 L161.90 529.83 L162.00 530.54 L162.10 531.22 L162.20 531.86 L162.30 532.47 L162.40 533.04 L162.50 533.59 L162.60 534.11 L162.70 534.60 L162.80 535.06 L162.90 535.50 L163.00 535.92 L163.10 536.31 L163.20 536.69 L163.30 537.04 L163.40 537.37 L163.50 537.69 L163.60 537.99 L163.70 538.27 L163.80 538.53 L163.90 538.78 L164.00 539.02 L164.10 539.24 L164.20 539.45 L164.30 539.65 L164.40 539.83 L164.50 540.01 L164.60 540.17 L164.70 540.32 L164.80 540.47 L164.90 540.60 L165.00 540.72 L165.10 540.84 L165.20 540.94 L165.30 541.04 L165.40 541.13 L165.50 541.21 L165.60 541.29 L165.70 541.35 L165.80 541.41 L165.90 541.47 L166.00 541.51 L166.10 541.55 L166.20 541.58 L166.30 541.61 L166.40 541.63 L166.50 541.64 L166.60 541.65 L166.65 541.65 L166.75 541.64 L166.85 541.64 L166.95 541.62 L167.05 541.60 L167.15 541.57 L167.25 541.54 L167.35 541.49 L167.45 541.45 L167.55 541.39 L167.65 541.33 L167.75 541.26 L167.85 541.19 L167.95 541.11 L168.05 541.02 L168.15 540.92 L168.25 540.81 L168.35 540.70 L168.45 540.57 L168.55 540.44 L168.65 540.30 L168.75 540.14 L168.85 539.98 L168.95 539.81 L169.05 539.62 L169.15 539.43 L169.25 539.22 L169.35 539.00 L169.45 538.76 L169.55 538.51 L169.65 538.25 L169.75 537.97 L169.85 537.67 L169.95 537.36 L170.05 537.03 L170.15 536.67 L170.25 536.30 L170.35 535.91 L170.45 535.50 L170.55 535.06 L170.65 534.60 L170.75 534.12 L170.85 533.60 L170.95 533.06 L171.05 532.49 L171.15 531.88 L171.25 531.25 L171.35 530.57 L171.45 529.87 L171.55 529.12 L171.65 528.33 L171.75 527.50 L171.85 526.62 L171.95 525.70 L172.05 524.72 L172.15 523.69 L172.25 522.61 L172.35 521.47 L172.45 520.26 L172.55 518.99 L172.65 517.65 L172.75 513.75 L172.85 507.43 L172.95 501.26 L173.05 495.24 L173.15 489.37 L173.25 483.66 L173.35 478.12 L173.45 472.75 L173.55 467.57 L173.65 462.58 L173.75 457.79 L173.85 453.23 L173.95 448.90 L174.05 444.84 L174.15 441.06 L174.25 437.60 L174.35 434.52 L174.45 431.91 L174.55 429.94 L174.60 429.40 L174.70 430.82 L174.80 433.15 L174.90 436.01 L175.00 439.29 L175.10 442.91 L175.20 446.84 L175.30 451.04 L175.40 455.48 L175.50 460.16 L175.60 465.05 L175.70 470.14 L175.80 475.41 L175.90 480.87 L176.00 486.50 L176.10 492.29 L176.20 498.23 L176.30 504.33 L176.40 510.57 L176.50 516.95 L176.60 518.33 L176.70 519.63 L176.80 520.86 L176.90 522.03 L177.00 523.14 L177.10 524.20 L177.20 525.20 L177.30 526.15 L177.40 527.04 L177.50 527.90 L177.60 528.70 L177.70 529.47 L177.80 530.20 L177.90 530.89 L178.00 531.54 L178.10 532.16 L178.20 532.74 L178.30 533.30 L178.40 533.83 L178.50 534.33 L178.60 534.80 L178.70 535.25 L178.80 535.67 L178.90 536.07 L179.00 536.45 L179.10 536.81 L179.20 537.16 L179.30 537.48 L179.40 537.78 L179.50 538.07 L179.60 538.34 L179.70 538.60 L179.80 538.84 L179.90 539.07 L180.00 539.29 L180.10 539.49 L180.20 539.68 L180.30 539.86 L180.40 540.03 L180.50 540.19 L180.60 540.33 L180.70 540.47 L180.80 540.60 L180.90 540.72 L181.00 540.83 L181.10 540.94 L181.20 541.03 L181.30 541.12 L181.40 541.20 L181.50 541.27 L181.60 541.34 L181.70 541.40 L181.80 541.45 L181.90 541.50 L182.00 541.54 L182.10 541.57 L182.20 541.60 L182.30 541.62 L182.40 541.64 L182.50 541.64 L182.60 541.65 L182.60 541.65 L182.70 541.64 L182.80 541.64 L182.90 541.62 L183.00 541.60 L183.10 541.57 L183.20 541.54 L183.30 541.50 L183.40 541.45 L183.50 541.40 L183.60 541.34 L183.70 541.28 L183.80 541.20 L183.90 541.12 L184.00 541.04 L184.10 540.94 L184.20 540.84 L184.30 540.73 L184.40 540.61 L184.50 540.48 L184.60 540.34 L184.70 540.19 L184.80 540.03 L184.90 539.87 L185.00 539.69 L185.10 539.50 L185.20 539.29 L185.30 539.08 L185.40 538.85 L185.50 538.61 L185.60 538.35 L185.70 538.08 L185.80 537.80 L185.90 537.49 L186.00 537.17 L186.10 536.83 L186.20 536.47 L186.30 536.09 L186.40 535.69 L186.50 535.27 L186.60 534.82 L186.70 534.35 L186.80 533.86 L186.90 533.33 L187.00 532.78 L187.10 532.19 L187.20 531.57 L187.30 530.92 L187.40 530.24 L187.50 529.51 L187.60 528.75 L187.70 527.94 L187.80 527.09 L187.90 526.20 L188.00 525.25 L188.10 524.26 L188.20 523.21 L188.30 522.10 L188.40 520.93 L188.50 519.70 L188.60 518.41 L188.70 517.04 L188.80 510.68 L188.90 504.46 L189.00 498.38 L189.10 492.46 L189.20 486.69 L189.30 481.08 L189.40 475.64 L189.50 470.39 L189.60 465.31 L189.70 460.44 L189.80 455.78 L189.90 451.35 L190.00 447.17 L190.10 443.25 L190.20 439.64 L190.30 436.38 L190.40 433.52 L190.50 431.21 L190.60 429.79 L190.60 429.79 L190.70 431.21 L190.80 433.52 L190.90 436.38 L191.00 439.64 L191.10 443.25 L191.20 447.17 L191.30 451.35 L191.40 455.78 L191.50 460.44 L191.60 465.31 L191.70 470.39 L191.80 475.64 L191.90 481.08 L192.00 486.69 L192.10 492.46 L192.20 498.38 L192.30 504.46 L192.40 510.68 L192.50 517.04 L192.60 518.40 L192.70 519.69 L192.80 520.92 L192.90 522.08 L193.00 523.18 L193.10 524.23 L193.20 525.22 L193.30 526.16 L193.40 527.05 L193.50 527.90 L193.60 528.70 L193.70 529.46 L193.80 530.18 L193.90 530.87 L194.00 531.52 L194.10 532.13 L194.20 532.71 L194.30 533.27 L194.40 533.79 L194.50 534.29 L194.60 534.76 L194.70 535.20 L194.80 535.62 L194.90 536.02 L195.00 536.40 L195.10 536.76 L195.20 537.10 L195.30 537.42 L195.40 537.72 L195.50 538.01 L195.60 538.28 L195.70 538.54 L195.80 538.78 L195.90 539.01 L196.00 539.22 L196.10 539.42 L196.20 539.62 L196.30 539.80 L196.40 539.96 L196.50 540.12 L196.60 540.27 L196.70 540.41 L196.80 540.54 L196.90 540.66 L197.00 540.78 L197.10 540.88 L197.20 540.98 L197.30 541.07 L197.40 541.15 L197.50 541.23 L197.60 541.30 L197.70 541.36 L197.80 541.41 L197.90 541.46 L198.00 541.51 L198.10 541.55 L198.20 541.58 L198.30 541.60 L198.40 541.62 L198.50 541.64 L198.60 541.64 L198.70 541.65 L198.70 541.65 L198.80 541.64 L198.90 541.64 L199.00 541.62 L199.10 541.60 L199.20 541.58 L199.30 541.55 L199.40 541.51 L199.50 541.47 L199.60 541.42 L199.70 541.36 L199.80 541.30 L199.90 541.23 L200.00 541.16 L200.10 541.07 L200.20 540.98 L200.30 540.89 L200.40 540.78 L200.50 540.67 L200.60 540.55 L200.70 540.42 L200.80 540.28 L200.90 540.13 L201.00 539.98 L201.10 539.81 L201.20 539.63 L201.30 539.44 L201.40 539.24 L201.50 539.02 L201.60 538.80 L201.70 538.56 L201.80 538.30 L201.90 538.03 L202.00 537.75 L202.10 537.45 L202.20 537.13 L202.30 536.79 L202.40 536.44 L202.50 536.06 L202.60 535.67 L202.70 535.25 L202.80 534.80 L202.90 534.34 L203.00 533.85 L203.10 533.33 L203.20 532.78 L203.30 532.20 L203.40 531.59 L203.50 530.94 L203.60 530.26 L203.70 529.55 L203.80 528.79 L203.90 528.00 L204.00 527.16 L204.10 526.27 L204.20 525.34 L204.30 524.35 L204.40 523.31 L204.50 522.22 L204.60 521.06 L204.70 519.85 L204.80 518.56 L204.90 517.21 L205.00 510.90 L205.10 504.72 L205.20 498.69 L205.30 492.80 L205.40 487.07 L205.50 481.50 L205.60 476.10 L205.70 470.88 L205.80 465.85 L205.90 461.01 L206.00 456.38 L206.10 451.98 L206.20 447.83 L206.30 443.94 L206.40 440.35 L206.50 437.11 L206.60 434.28 L206.70 431.98 L206.80 430.57 L206.80 430.57 L206.90 431.98 L207.00 434.28 L207.10 437.11 L207.20 440.35 L207.30 443.94 L207.40 447.83 L207.50 451.98 L207.60 456.38 L207.70 461.01 L207.80 465.85 L207.90 470.88 L208.00 476.10 L208.10 481.50 L208.20 487.07 L208.30 492.80 L208.40 498.69 L208.50 504.72 L208.60 510.90 L208.70 517.21 L208.80 518.58 L208.90 519.88 L209.00 521.11 L209.10 522.28 L209.20 523.39 L209.30 524.44 L209.40 525.44 L209.50 526.39 L209.60 527.28 L209.70 528.13 L209.80 528.94 L209.90 529.70 L210.00 530.43 L210.10 531.12 L210.20 531.77 L210.30 532.38 L210.40 532.97 L210.50 533.52 L210.60 534.05 L210.70 534.55 L210.80 535.02 L210.90 535.46 L211.00 535.89 L211.10 536.28 L211.20 536.66 L211.30 537.02 L211.40 537.36 L211.50 537.68 L211.60 537.98 L211.70 538.26 L211.80 538.53 L211.90 538.79 L212.00 539.03 L212.10 539.25 L212.20 539.46 L212.30 539.66 L212.40 539.85 L212.50 540.03 L212.60 540.19 L212.70 540.34 L212.80 540.49 L212.90 540.62 L213.00 540.74 L213.10 540.86 L213.20 540.97 L213.30 541.06 L213.40 541.15 L213.50 541.23 L213.60 541.31 L213.70 541.37 L213.80 541.43 L213.90 541.48 L214.00 541.53 L214.10 541.56 L214.20 541.59 L214.30 541.62 L214.40 541.63 L214.50 541.64 L214.60 541.65 L214.60 541.65 L214.70 541.64 L214.80 541.63 L214.90 541.62 L215.00 541.59 L215.10 541.56 L215.20 541.53 L215.30 541.48 L215.40 541.43 L215.50 541.37 L215.60 541.31 L215.70 541.23 L215.80 541.15 L215.90 541.06 L216.00 540.97 L216.10 540.86 L216.20 540.75 L216.30 540.62 L216.40 540.49 L216.50 540.35 L216.60 540.19 L216.70 540.03 L216.80 539.85 L216.90 539.67 L217.00 539.47 L217.10 539.26 L217.20 539.03 L217.30 538.79 L217.40 538.54 L217.50 538.27 L217.60 537.99 L217.70 537.68 L217.80 537.37 L217.90 537.03 L218.00 536.67 L218.10 536.29 L218.20 535.90 L218.30 535.47 L218.40 535.03 L218.50 534.56 L218.60 534.06 L218.70 533.54 L218.80 532.99 L218.90 532.40 L219.00 531.79 L219.10 531.14 L219.20 530.45 L219.30 529.73 L219.40 528.96 L219.50 528.16 L219.60 527.31 L219.70 526.41 L219.80 525.47 L219.90 524.47 L220.00 523.42 L220.10 522.32 L220.20 521.15 L220.30 519.92 L220.40 518.62 L220.50 517.25 L220.60 510.95 L220.70 504.78 L220.80 498.76 L220.90 492.89 L221.00 487.17 L221.10 481.61 L221.20 476.22 L221.30 471.01 L221.40 465.98 L221.50 461.15 L221.60 456.53 L221.70 452.14 L221.80 447.99 L221.90 444.11 L222.00 440.53 L222.10 437.30 L222.20 434.47 L222.30 432.17 L222.40 430.77 L222.40 430.77 L222.50 432.17 L222.60 434.47 L222.70 437.30 L222.80 440.53 L222.90 444.11 L223.00 447.99 L223.10 452.14 L223.20 456.53 L223.30 461.15 L223.40 465.98 L223.50 471.01 L223.60 476.22 L223.70 481.61 L223.80 487.17 L223.90 492.89 L224.00 498.76 L224.10 504.78 L224.20 510.95 L224.30 517.25 L224.40 518.60 L224.50 519.88 L224.60 521.10 L224.70 522.25 L224.80 523.34 L224.90 524.38 L225.00 525.36 L225.10 526.30 L225.20 527.18 L225.30 528.02 L225.40 528.82 L225.50 529.57 L225.60 530.28 L225.70 530.96 L225.80 531.61 L225.90 532.21 L226.00 532.79 L226.10 533.34 L226.20 533.86 L226.30 534.35 L226.40 534.82 L226.50 535.26 L226.60 535.68 L226.70 536.07 L226.80 536.45 L226.90 536.80 L227.00 537.14 L227.10 537.46 L227.20 537.76 L227.30 538.04 L227.40 538.31 L227.50 538.56 L227.60 538.80 L227.70 539.03 L227.80 539.24 L227.90 539.44 L228.00 539.63 L228.10 539.81 L228.20 539.98 L228.30 540.14 L228.40 540.28 L228.50 540.42 L228.60 540.55 L228.70 540.67 L228.80 540.78 L228.90 540.89 L229.00 540.99 L229.10 541.07 L229.20 541.16 L229.30 541.23 L229.40 541.30 L229.50 541.36 L229.60 541.42 L229.70 541.47 L229.80 541.51 L229.90 541.55 L230.00 541.58 L230.10 541.60 L230.20 541.62 L230.30 541.64 L230.40 541.64 L230.50 541.65 L230.50 541.65" fill="none" stroke="#bac0f8" stroke-width="2.8" stroke-linejoin="round" stroke-linecap="round"/>
<path d="M230.50 541.65 L230.60 541.64 L230.70 541.64 L230.80 541.62 L230.90 541.60 L231.00 541.58 L231.10 541.55 L231.20 541.52 L231.30 541.48 L231.40 541.43 L231.50 541.38 L231.60 541.32 L231.70 541.25 L231.80 541.18 L231.90 541.11 L232.00 541.02 L232.10 540.93 L232.20 540.84 L232.30 540.73 L232.40 540.62 L232.50 540.50 L232.60 540.37 L232.70 540.23 L232.80 540.09 L232.90 539.93 L233.00 539.77 L233.10 539.59 L233.20 539.41 L233.30 539.21 L233.40 539.00 L233.50 538.78 L233.60 538.55 L233.70 538.31 L233.80 538.05 L233.90 537.77 L234.00 537.49 L234.10 537.18 L234.20 536.86 L234.30 536.53 L234.40 536.17 L234.50 535.80 L234.60 535.40 L234.70 534.99 L234.80 534.55 L234.90 534.09 L235.00 533.61 L235.10 533.10 L235.20 532.56 L235.30 531.99 L235.40 531.40 L235.50 530.78 L235.60 530.12 L235.70 529.43 L235.80 528.70 L235.90 527.94 L236.00 527.13 L236.10 526.28 L236.20 525.39 L236.30 524.46 L236.40 523.47 L236.50 522.44 L236.60 521.35 L236.70 520.21 L236.80 519.00 L236.90 517.74 L237.00 516.41 L237.10 508.41 L237.20 500.56 L237.30 492.86 L237.40 485.31 L237.50 477.92 L237.60 470.69 L237.70 463.63 L237.80 456.74 L237.90 450.04 L238.00 443.52 L238.10 437.20 L238.20 431.09 L238.30 425.19 L238.40 419.53 L238.50 414.12 L238.60 408.97 L238.70 404.10 L238.80 399.55 L238.90 395.36 L239.00 391.56 L239.10 388.25 L239.20 385.55 L239.30 383.91 L239.30 383.91 L239.40 385.57 L239.50 388.30 L239.60 391.66 L239.70 395.50 L239.80 399.75 L239.90 404.35 L240.00 409.28 L240.10 414.49 L240.20 419.97 L240.30 425.71 L240.40 431.67 L240.50 437.86 L240.60 444.26 L240.70 450.85 L240.80 457.64 L240.90 464.62 L241.00 471.76 L241.10 479.08 L241.20 486.57 L241.30 494.21 L241.40 502.01 L241.50 509.96 L241.60 518.05 L241.70 519.42 L241.80 520.72 L241.90 521.96 L242.00 523.14 L242.10 524.26 L242.20 525.32 L242.30 526.34 L242.40 527.30 L242.50 528.22 L242.60 529.09 L242.70 529.91 L242.80 530.70 L242.90 531.45 L243.00 532.16 L243.10 532.83 L243.20 533.48 L243.30 534.09 L243.40 534.66 L243.50 535.22 L243.60 535.74 L243.70 536.23 L243.80 536.71 L243.90 537.15 L244.00 537.58 L244.10 537.98 L244.20 538.36 L244.30 538.72 L244.40 539.07 L244.50 539.39 L244.60 539.70 L244.70 539.99 L244.80 540.27 L244.90 540.53 L245.00 540.78 L245.10 541.01 L245.20 541.23 L245.30 541.44 L245.40 541.63 L245.50 541.82 L245.60 541.99 L245.70 542.15 L245.80 542.30 L245.90 542.45 L246.00 542.58 L246.10 542.70 L246.20 542.81 L246.30 542.92 L246.40 543.02 L246.50 543.11 L246.60 543.19 L246.70 543.26 L246.80 543.33 L246.90 543.38 L247.00 543.43 L247.10 543.48 L247.20 543.52 L247.30 543.55 L247.40 543.57 L247.50 543.59 L247.60 543.60 L247.70 543.60 L247.70 543.60 L247.80 543.60 L247.90 543.59 L248.00 543.57 L248.10 543.55 L248.20 543.52 L248.30 543.48 L248.40 543.43 L248.50 543.38 L248.60 543.33 L248.70 543.26 L248.80 543.19 L248.90 543.11 L249.00 543.02 L249.10 542.92 L249.20 542.81 L249.30 542.70 L249.40 542.58 L249.50 542.45 L249.60 542.30 L249.70 542.15 L249.80 541.99 L249.90 541.82 L250.00 541.63 L250.10 541.44 L250.20 541.23 L250.30 541.01 L250.40 540.78 L250.50 540.53 L250.60 540.27 L250.70 539.99 L250.80 539.70 L250.90 539.39 L251.00 539.07 L251.10 538.72 L251.20 538.36 L251.30 537.98 L251.40 537.58 L251.50 537.15 L251.60 536.71 L251.70 536.23 L251.80 535.74 L251.90 535.22 L252.00 534.66 L252.10 534.09 L252.20 533.48 L252.30 532.83 L252.40 532.16 L252.50 531.45 L252.60 530.70 L252.70 529.91 L252.80 529.09 L252.90 528.22 L253.00 527.30 L253.10 526.34 L253.20 525.32 L253.30 524.26 L253.40 523.14 L253.50 521.96 L253.60 520.72 L253.70 519.42 L253.80 518.05 L253.90 509.96 L254.00 502.01 L254.10 494.21 L254.20 486.57 L254.30 479.08 L254.40 471.76 L254.50 464.62 L254.60 457.64 L254.70 450.85 L254.80 444.26 L254.90 437.86 L255.00 431.67 L255.10 425.71 L255.20 419.97 L255.30 414.49 L255.40 409.28 L255.50 404.35 L255.60 399.75 L255.70 395.50 L255.80 391.66 L255.90 388.30 L256.00 385.57 L256.10 383.91 L256.10 383.91 L256.20 385.57 L256.30 388.30 L256.40 391.66 L256.50 395.50 L256.60 399.75 L256.70 404.35 L256.80 409.28 L256.90 414.49 L257.00 419.97 L257.10 425.71 L257.20 431.67 L257.30 437.86 L257.40 444.26 L257.50 450.85 L257.60 457.64 L257.70 464.62 L257.80 471.76 L257.90 479.08 L258.00 486.57 L258.10 494.21 L258.20 502.01 L258.30 509.96 L258.40 518.05 L258.50 519.40 L258.60 520.68 L258.70 521.90 L258.80 523.06 L258.90 524.17 L259.00 525.22 L259.10 526.21 L259.20 527.16 L259.30 528.07 L259.40 528.92 L259.50 529.74 L259.60 530.52 L259.70 531.25 L259.80 531.95 L259.90 532.62 L260.00 533.25 L260.10 533.86 L260.20 534.43 L260.30 534.97 L260.40 535.49 L260.50 535.98 L260.60 536.45 L260.70 536.89 L260.80 537.31 L260.90 537.71 L261.00 538.09 L261.10 538.45 L261.20 538.79 L261.30 539.12 L261.40 539.42 L261.50 539.72 L261.60 539.99 L261.70 540.25 L261.80 540.50 L261.90 540.74 L262.00 540.96 L262.10 541.17 L262.20 541.37 L262.30 541.55 L262.40 541.73 L262.50 541.90 L262.60 542.05 L262.70 542.20 L262.80 542.34 L262.90 542.47 L263.00 542.59 L263.10 542.70 L263.20 542.81 L263.30 542.90 L263.40 543.00 L263.50 543.08 L263.60 543.16 L263.70 543.23 L263.80 543.29 L263.90 543.35 L264.00 543.40 L264.10 543.44 L264.20 543.48 L264.30 543.52 L264.40 543.54 L264.50 543.57 L264.60 543.58 L264.70 543.59 L264.80 543.60 L264.85 543.60 L264.95 543.60 L265.05 543.59 L265.15 543.58 L265.25 543.56 L265.35 543.53 L265.45 543.50 L265.55 543.47 L265.65 543.42 L265.75 543.38 L265.85 543.32 L265.95 543.26 L266.05 543.20 L266.15 543.12 L266.25 543.04 L266.35 542.96 L266.45 542.86 L266.55 542.76 L266.65 542.66 L266.75 542.54 L266.85 542.42 L266.95 542.28 L267.05 542.14 L267.15 541.99 L267.25 541.83 L267.35 541.66 L267.45 541.48 L267.55 541.29 L267.65 541.09 L267.75 540.88 L267.85 540.65 L267.95 540.41 L268.05 540.16 L268.15 539.90 L268.25 539.62 L268.35 539.32 L268.45 539.01 L268.55 538.68 L268.65 538.33 L268.75 537.97 L268.85 537.58 L268.95 537.18 L269.05 536.75 L269.15 536.30 L269.25 535.83 L269.35 535.33 L269.45 534.80 L269.55 534.25 L269.65 533.67 L269.75 533.06 L269.85 532.42 L269.95 531.74 L270.05 531.03 L270.15 530.28 L270.25 529.49 L270.35 528.67 L270.45 527.80 L270.55 526.88 L270.65 525.92 L270.75 524.91 L270.85 523.84 L270.95 522.72 L271.05 521.55 L271.15 520.31 L271.25 519.01 L271.35 514.31 L271.45 506.38 L271.55 498.59 L271.65 490.96 L271.75 483.47 L271.85 476.15 L271.95 469.00 L272.05 462.01 L272.15 455.21 L272.25 448.59 L272.35 442.16 L272.45 435.94 L272.55 429.93 L272.65 424.14 L272.75 418.59 L272.85 413.30 L272.95 408.28 L273.05 403.57 L273.15 399.18 L273.25 395.17 L273.35 391.60 L273.45 388.57 L273.55 386.29 L273.60 385.67 L273.70 387.31 L273.80 390.01 L273.90 393.33 L274.00 397.13 L274.10 401.33 L274.20 405.88 L274.30 410.75 L274.40 415.91 L274.50 421.33 L274.60 427.00 L274.70 432.90 L274.80 439.02 L274.90 445.35 L275.00 451.88 L275.10 458.59 L275.20 465.48 L275.30 472.56 L275.40 479.79 L275.50 487.20 L275.60 494.75 L275.70 502.47 L275.80 510.33 L275.90 518.33 L276.00 519.67 L276.10 520.95 L276.20 522.16 L276.30 523.32 L276.40 524.42 L276.50 525.46 L276.60 526.45 L276.70 527.40 L276.80 528.30 L276.90 529.15 L277.00 529.96 L277.10 530.73 L277.20 531.47 L277.30 532.16 L277.40 532.83 L277.50 533.46 L277.60 534.06 L277.70 534.63 L277.80 535.17 L277.90 535.68 L278.00 536.17 L278.10 536.63 L278.20 537.07 L278.30 537.49 L278.40 537.88 L278.50 538.26 L278.60 538.62 L278.70 538.96 L278.80 539.28 L278.90 539.58 L279.00 539.87 L279.10 540.14 L279.20 540.40 L279.30 540.65 L279.40 540.88 L279.50 541.10 L279.60 541.30 L279.70 541.50 L279.80 541.68 L279.90 541.86 L280.00 542.02 L280.10 542.17 L280.20 542.32 L280.30 542.45 L280.40 542.58 L280.50 542.69 L280.60 542.80 L280.70 542.90 L280.80 543.00 L280.90 543.08 L281.00 543.16 L281.10 543.23 L281.20 543.30 L281.30 543.36 L281.40 543.41 L281.50 543.45 L281.60 543.49 L281.70 543.53 L281.80 543.55 L281.90 543.57 L282.00 543.59 L282.10 543.60 L282.20 543.60 L282.30 543.60 L282.40 543.59 L282.50 543.57 L282.60 543.55 L282.70 543.52 L282.80 543.49 L282.90 543.45 L283.00 543.41 L283.10 543.35 L283.20 543.29 L283.30 543.23 L283.40 543.16 L283.50 543.08 L283.60 542.99 L283.70 542.89 L283.80 542.79 L283.90 542.68 L284.00 542.56 L284.10 542.43 L284.20 542.30 L284.30 542.15 L284.40 542.00 L284.50 541.83 L284.60 541.66 L284.70 541.47 L284.80 541.27 L284.90 541.06 L285.00 540.84 L285.10 540.60 L285.20 540.36 L285.30 540.09 L285.40 539.82 L285.50 539.52 L285.60 539.21 L285.70 538.89 L285.80 538.54 L285.90 538.18 L286.00 537.80 L286.10 537.40 L286.20 536.97 L286.30 536.53 L286.40 536.06 L286.50 535.56 L286.60 535.04 L286.70 534.49 L286.80 533.91 L286.90 533.31 L287.00 532.67 L287.10 532.00 L287.20 531.29 L287.30 530.54 L287.40 529.76 L287.50 528.94 L287.60 528.07 L287.70 527.16 L287.80 526.20 L287.90 525.19 L288.00 524.13 L288.10 523.02 L288.20 521.85 L288.30 520.61 L288.40 519.32 L288.50 517.96 L288.60 509.83 L288.70 501.86 L288.80 494.03 L288.90 486.36 L289.00 478.85 L289.10 471.50 L289.20 464.33 L289.30 457.33 L289.40 450.51 L289.50 443.89 L289.60 437.47 L289.70 431.26 L289.80 425.27 L289.90 419.52 L290.00 414.02 L290.10 408.78 L290.20 403.84 L290.30 399.22 L290.40 394.95 L290.50 391.10 L290.60 387.73 L290.70 384.99 L290.80 383.32 L290.90 384.99 L291.00 387.73 L291.10 391.10 L291.20 394.95 L291.30 399.22 L291.40 403.84 L291.50 408.78 L291.60 414.02 L291.70 419.52 L291.80 425.27 L291.90 431.26 L292.00 437.47 L292.10 443.89 L292.20 450.51 L292.30 457.33 L292.40 464.33 L292.50 471.50 L292.60 478.85 L292.70 486.36 L292.80 494.03 L292.90 501.86 L293.00 509.83 L293.10 517.96 L293.20 519.32 L293.30 520.61 L293.40 521.85 L293.50 523.02 L293.60 524.13 L293.70 525.19 L293.80 526.20 L293.90 527.16 L294.00 528.07 L294.10 528.94 L294.20 529.76 L294.30 530.54 L294.40 531.29 L294.50 532.00 L294.60 532.67 L294.70 533.31 L294.80 533.91 L294.90 534.49 L295.00 535.04 L295.10 535.56 L295.20 536.06 L295.30 536.53 L295.40 536.97 L295.50 537.40 L295.60 537.80 L295.70 538.18 L295.80 538.54 L295.90 538.89 L296.00 539.21 L296.10 539.52 L296.20 539.82 L296.30 540.09 L296.40 540.36 L296.50 540.60 L296.60 540.84 L296.70 541.06 L296.80 541.27 L296.90 541.47 L297.00 541.66 L297.10 541.83 L297.20 542.00 L297.30 542.15 L297.40 542.30 L297.50 542.43 L297.60 542.56 L297.70 542.68 L297.80 542.79 L297.90 542.89 L298.00 542.99 L298.10 543.08 L298.20 543.16 L298.30 543.23 L298.40 543.29 L298.50 543.35 L298.60 543.41 L298.70 543.45 L298.80 543.49 L298.90 543.52 L299.00 543.55 L299.10 543.57 L299.20 543.59 L299.30 543.60 L299.40 543.60 L299.50 543.60 L299.60 543.59 L299.70 543.57 L299.80 543.55 L299.90 543.52 L300.00 543.49 L300.10 543.45 L300.20 543.41 L300.30 543.35 L300.40 543.29 L300.50 543.23 L300.60 543.16 L300.70 543.08 L300.80 542.99 L300.90 542.89 L301.00 542.79 L301.10 542.68 L301.20 542.56 L301.30 542.43 L301.40 542.30 L301.50 542.15 L301.60 542.00 L301.70 541.83 L301.80 541.66 L301.90 541.47 L302.00 541.27 L302.10 541.06 L302.20 540.84 L302.30 540.60 L302.40 540.36 L302.50 540.09 L302.60 539.82 L302.70 539.52 L302.80 539.21 L302.90 538.89 L303.00 538.54 L303.10 538.18 L303.20 537.80 L303.30 537.40 L303.40 536.97 L303.50 536.53 L303.60 536.06 L303.70 535.56 L303.80 535.04 L303.90 534.49 L304.00 533.91 L304.10 533.31 L304.20 532.67 L304.30 532.00 L304.40 531.29 L304.50 530.54 L304.60 529.76 L304.70 528.94 L304.80 528.07 L304.90 527.16 L305.00 526.20 L305.10 525.19 L305.20 524.13 L305.30 523.02 L305.40 521.85 L305.50 520.61 L305.60 519.32 L305.70 517.96 L305.80 509.83 L305.90 501.86 L306.00 494.03 L306.10 486.36 L306.20 478.85 L306.30 471.50 L306.40 464.33 L306.50 457.33 L306.60 450.51 L306.70 443.89 L306.80 437.47 L306.90 431.26 L307.00 425.27 L307.10 419.52 L307.20 414.02 L307.30 408.78 L307.40 403.84 L307.50 399.22 L307.60 394.95 L307.70 391.10 L307.80 387.73 L307.90 384.99 L308.00 383.32 L308.10 385.01 L308.20 387.77 L308.30 391.16 L308.40 395.05 L308.50 399.36 L308.60 404.02 L308.70 409.00 L308.80 414.28 L308.90 419.83 L309.00 425.63 L309.10 431.67 L309.20 437.93 L309.30 444.41 L309.40 451.09 L309.50 457.96 L309.60 465.02 L309.70 472.25 L309.80 479.66 L309.90 487.24 L310.00 494.97 L310.10 502.87 L310.20 510.91 L310.30 519.10 L310.40 520.48 L310.50 521.78 L310.60 523.03 L310.70 524.21 L310.80 525.33 L310.90 526.40 L311.00 527.42 L311.10 528.39 L311.20 529.30 L311.30 530.18 L311.40 531.01 L311.50 531.80 L311.60 532.55 L311.70 533.26 L311.80 533.94 L311.90 534.59 L312.00 535.20 L312.10 535.78 L312.20 536.33 L312.30 536.86 L312.40 537.36 L312.50 537.83 L312.60 538.28 L312.70 538.71 L312.80 539.12 L312.90 539.50 L313.00 539.87 L313.10 540.21 L313.20 540.54 L313.30 540.85 L313.40 541.15 L313.50 541.43 L313.60 541.69 L313.70 541.95 L313.80 542.18 L313.90 542.41 L314.00 542.62 L314.10 542.82 L314.20 543.01 L314.30 543.18 L314.40 543.35 L314.50 543.51 L314.60 543.65 L314.70 543.79 L314.80 543.92 L314.90 544.04 L315.00 544.15 L315.10 544.25 L315.20 544.35 L315.30 544.44 L315.40 544.52 L315.50 544.59 L315.60 544.66 L315.70 544.72 L315.80 544.77 L315.90 544.82 L316.00 544.86 L316.10 544.89 L316.20 544.92 L316.30 544.94 L316.40 544.95 L316.50 544.96 L316.60 544.97" fill="none" stroke="#84caf3" stroke-width="2.8" stroke-linejoin="round" stroke-linecap="round"/>
</g>
<rect x="56.60" y="329.00" width="292.10" height="234.30" fill="none" stroke="#0a0a0a" stroke-width="2.5"/>
<line x1="83.10" y1="563.30" x2="83.10" y2="559.00" stroke="#000" stroke-width="2"/>
<text x="83.10" y="584.30" font-family="Liberation Sans, sans-serif" font-size="19.5" text-anchor="middle" textLength="11.17" lengthAdjust="spacingAndGlyphs" fill="#1a1a1a" stroke="#1a1a1a" stroke-width="0.3">0</text>
<line x1="136.30" y1="563.30" x2="136.30" y2="559.00" stroke="#000" stroke-width="2"/>
<text x="136.30" y="584.30" font-family="Liberation Sans, sans-serif" font-size="19.5" text-anchor="middle" textLength="29.92" lengthAdjust="spacingAndGlyphs" fill="#1a1a1a" stroke="#1a1a1a" stroke-width="0.3">100</text>
<line x1="189.50" y1="563.30" x2="189.50" y2="559.00" stroke="#000" stroke-width="2"/>
<text x="189.50" y="584.30" font-family="Liberation Sans, sans-serif" font-size="19.5" text-anchor="middle" textLength="33.50" lengthAdjust="spacingAndGlyphs" fill="#1a1a1a" stroke="#1a1a1a" stroke-width="0.3">200</text>
<line x1="242.70" y1="563.30" x2="242.70" y2="559.00" stroke="#000" stroke-width="2"/>
<text x="242.70" y="584.30" font-family="Liberation Sans, sans-serif" font-size="19.5" text-anchor="middle" textLength="33.50" lengthAdjust="spacingAndGlyphs" fill="#1a1a1a" stroke="#1a1a1a" stroke-width="0.3">300</text>
<line x1="295.90" y1="563.30" x2="295.90" y2="559.00" stroke="#000" stroke-width="2"/>
<text x="295.90" y="584.30" font-family="Liberation Sans, sans-serif" font-size="19.5" text-anchor="middle" textLength="33.50" lengthAdjust="spacingAndGlyphs" fill="#1a1a1a" stroke="#1a1a1a" stroke-width="0.3">400</text>
<text x="349.10" y="584.30" font-family="Liberation Sans, sans-serif" font-size="19.5" text-anchor="middle" textLength="33.50" lengthAdjust="spacingAndGlyphs" fill="#1a1a1a" stroke="#1a1a1a" stroke-width="0.3">500</text>
<line x1="56.60" y1="543.60" x2="60.90" y2="543.60" stroke="#000" stroke-width="2"/>
<text x="51.00" y="548.40" font-family="Liberation Sans, sans-serif" font-size="19.5" text-anchor="end" textLength="11.17" lengthAdjust="spacingAndGlyphs" fill="#1a1a1a" stroke="#1a1a1a" stroke-width="0.3">0</text>
<line x1="56.60" y1="504.55" x2="60.90" y2="504.55" stroke="#000" stroke-width="2"/>
<text x="51.00" y="509.35" font-family="Liberation Sans, sans-serif" font-size="19.5" text-anchor="end" textLength="22.33" lengthAdjust="spacingAndGlyphs" fill="#1a1a1a" stroke="#1a1a1a" stroke-width="0.3">20</text>
<line x1="56.60" y1="465.50" x2="60.90" y2="465.50" stroke="#000" stroke-width="2"/>
<text x="51.00" y="470.30" font-family="Liberation Sans, sans-serif" font-size="19.5" text-anchor="end" textLength="22.33" lengthAdjust="spacingAndGlyphs" fill="#1a1a1a" stroke="#1a1a1a" stroke-width="0.3">40</text>
<line x1="56.60" y1="426.45" x2="60.90" y2="426.45" stroke="#000" stroke-width="2"/>
<text x="51.00" y="431.25" font-family="Liberation Sans, sans-serif" font-size="19.5" text-anchor="end" textLength="22.33" lengthAdjust="spacingAndGlyphs" fill="#1a1a1a" stroke="#1a1a1a" stroke-width="0.3">60</text>
<line x1="56.60" y1="387.40" x2="60.90" y2="387.40" stroke="#000" stroke-width="2"/>
<text x="51.00" y="392.20" font-family="Liberation Sans, sans-serif" font-size="19.5" text-anchor="end" textLength="22.33" lengthAdjust="spacingAndGlyphs" fill="#1a1a1a" stroke="#1a1a1a" stroke-width="0.3">80</text>
<line x1="56.60" y1="348.35" x2="60.90" y2="348.35" stroke="#000" stroke-width="2"/>
<text x="51.00" y="353.15" font-family="Liberation Sans, sans-serif" font-size="19.5" text-anchor="end" textLength="32.20" lengthAdjust="spacingAndGlyphs" fill="#1a1a1a" stroke="#1a1a1a" stroke-width="0.3">100</text>
<text x="203.35" y="614.90" font-family="Liberation Sans, sans-serif" font-size="25.6" text-anchor="middle" textLength="97.0" lengthAdjust="spacingAndGlyphs" fill="#111">Time (s)</text>
<g transform="translate(23.10 445.55) rotate(-90)"><text x="0" y="0" font-family="Liberation Sans, sans-serif" font-size="26.3" text-anchor="middle" fill="#111" textLength="72.5" lengthAdjust="spacingAndGlyphs">ΔC/C<tspan font-size="16.7" dy="7.3">0</tspan></text></g>
<text x="231.50" y="357.40" font-family="Liberation Sans, sans-serif" font-size="13.90" fill="#262626" stroke="#262626" stroke-width="0.25" textLength="96.8" lengthAdjust="spacingAndGlyphs">PVA/H<tspan font-size="9.17" dy="3">3</tspan><tspan dy="-3">PO</tspan><tspan font-size="9.17" dy="3">4</tspan><tspan dy="-3">(1.2)</tspan></text>
<text x="16.40" y="328.80" font-family="Liberation Sans, sans-serif" font-size="40.5" fill="#000">c</text>
<g filter="url(#soft2)">
<path d="M452.70 543.60 L452.80 543.60 L452.90 543.59 L453.00 543.57 L453.10 543.55 L453.20 543.52 L453.30 543.49 L453.40 543.45 L453.50 543.40 L453.60 543.34 L453.70 543.28 L453.80 543.22 L453.90 543.14 L454.00 543.06 L454.10 542.97 L454.20 542.87 L454.30 542.76 L454.40 542.65 L454.50 542.53 L454.60 542.39 L454.70 542.25 L454.80 542.10 L454.90 541.94 L455.00 541.77 L455.10 541.59 L455.20 541.40 L455.30 541.19 L455.40 540.97 L455.50 540.74 L455.60 540.50 L455.70 540.24 L455.80 539.97 L455.90 539.69 L456.00 539.38 L456.10 539.06 L456.20 538.73 L456.30 538.37 L456.40 538.00 L456.50 537.60 L456.60 537.19 L456.70 536.75 L456.80 536.29 L456.90 535.80 L457.00 535.29 L457.10 534.75 L457.20 534.18 L457.30 533.58 L457.40 532.96 L457.50 532.29 L457.60 531.60 L457.70 530.87 L457.80 530.10 L457.90 529.29 L458.00 528.44 L458.10 527.54 L458.20 526.60 L458.30 525.61 L458.40 524.56 L458.50 523.47 L458.60 522.32 L458.70 521.10 L458.80 519.83 L458.90 515.99 L459.00 512.37 L459.10 508.97 L459.20 505.78 L459.30 502.82 L459.40 500.09 L459.50 497.59 L459.60 495.33 L459.70 493.31 L459.80 491.55 L459.90 490.04 L460.00 488.81 L460.10 487.87 L460.20 487.25 L460.30 487.00 L460.40 487.25 L460.50 487.86 L460.60 488.78 L460.70 489.99 L460.80 491.47 L460.90 493.20 L461.00 495.18 L461.10 497.41 L461.20 499.86 L461.30 502.55 L461.40 505.46 L461.50 508.59 L461.60 511.94 L461.70 515.49 L461.80 519.26 L461.90 520.54 L462.00 521.75 L462.10 522.90 L462.20 524.00 L462.30 525.04 L462.40 526.03 L462.50 526.98 L462.60 527.87 L462.70 528.72 L462.80 529.53 L462.90 530.30 L463.00 531.03 L463.10 531.73 L463.20 532.39 L463.30 533.01 L463.40 533.61 L463.50 534.17 L463.60 534.71 L463.70 535.22 L463.80 535.70 L463.90 536.16 L464.00 536.60 L464.10 537.01 L464.20 537.40 L464.30 537.78 L464.40 538.13 L464.50 538.46 L464.60 538.78 L464.70 539.07 L464.80 539.36 L464.90 539.62 L465.00 539.87 L465.10 540.11 L465.20 540.33 L465.30 540.54 L465.40 540.74 L465.50 540.93 L465.60 541.10 L465.70 541.26 L465.80 541.42 L465.90 541.56 L466.00 541.69 L466.10 541.81 L466.20 541.92 L466.30 542.03 L466.40 542.12 L466.50 542.21 L466.60 542.28 L466.70 542.35 L466.80 542.41 L466.90 542.47 L467.00 542.51 L467.10 542.55 L467.20 542.58 L467.30 542.60 L467.40 542.62 L467.50 542.62 L467.55 542.62 L467.65 542.62 L467.75 542.61 L467.85 542.59 L467.95 542.56 L468.05 542.53 L468.15 542.49 L468.25 542.44 L468.35 542.38 L468.45 542.31 L468.55 542.24 L468.65 542.15 L468.75 542.06 L468.85 541.96 L468.95 541.85 L469.05 541.73 L469.15 541.60 L469.25 541.46 L469.35 541.31 L469.45 541.15 L469.55 540.97 L469.65 540.79 L469.75 540.59 L469.85 540.38 L469.95 540.16 L470.05 539.92 L470.15 539.67 L470.25 539.41 L470.35 539.13 L470.45 538.83 L470.55 538.51 L470.65 538.18 L470.75 537.83 L470.85 537.46 L470.95 537.07 L471.05 536.66 L471.15 536.22 L471.25 535.76 L471.35 535.28 L471.45 534.77 L471.55 534.23 L471.65 533.67 L471.75 533.07 L471.85 532.44 L471.95 531.78 L472.05 531.09 L472.15 530.36 L472.25 529.59 L472.35 528.78 L472.45 527.93 L472.55 527.03 L472.65 526.09 L472.75 525.09 L472.85 524.05 L472.95 522.95 L473.05 521.80 L473.15 520.59 L473.25 519.31 L473.35 516.69 L473.45 512.93 L473.55 509.38 L473.65 506.06 L473.75 502.96 L473.85 500.09 L473.95 497.45 L474.05 495.05 L474.15 492.89 L474.25 490.98 L474.35 489.33 L474.45 487.95 L474.55 486.85 L474.65 486.06 L474.75 485.61 L474.80 485.54 L474.90 485.79 L475.00 486.42 L475.10 487.36 L475.20 488.60 L475.30 490.12 L475.40 491.90 L475.50 493.93 L475.60 496.22 L475.70 498.74 L475.80 501.50 L475.90 504.48 L476.00 507.69 L476.10 511.13 L476.20 514.78 L476.30 518.65 L476.40 519.95 L476.50 521.19 L476.60 522.36 L476.70 523.48 L476.80 524.55 L476.90 525.56 L477.00 526.52 L477.10 527.44 L477.20 528.31 L477.30 529.13 L477.40 529.92 L477.50 530.66 L477.60 531.37 L477.70 532.05 L477.80 532.69 L477.90 533.30 L478.00 533.87 L478.10 534.42 L478.20 534.94 L478.30 535.44 L478.40 535.91 L478.50 536.35 L478.60 536.78 L478.70 537.18 L478.80 537.56 L478.90 537.92 L479.00 538.26 L479.10 538.58 L479.20 538.89 L479.30 539.18 L479.40 539.45 L479.50 539.71 L479.60 539.95 L479.70 540.18 L479.80 540.40 L479.90 540.61 L480.00 540.80 L480.10 540.98 L480.20 541.15 L480.30 541.30 L480.40 541.45 L480.50 541.59 L480.60 541.72 L480.70 541.83 L480.80 541.94 L480.90 542.04 L481.00 542.14 L481.10 542.22 L481.20 542.29 L481.30 542.36 L481.40 542.42 L481.50 542.47 L481.60 542.51 L481.70 542.55 L481.80 542.58 L481.90 542.60 L482.00 542.62 L482.10 542.62 L482.15 542.62 L482.25 542.62 L482.35 542.61 L482.45 542.59 L482.55 542.57 L482.65 542.53 L482.75 542.49 L482.85 542.45 L482.95 542.39 L483.05 542.33 L483.15 542.26 L483.25 542.18 L483.35 542.09 L483.45 542.00 L483.55 541.89 L483.65 541.78 L483.75 541.65 L483.85 541.52 L483.95 541.38 L484.05 541.23 L484.15 541.06 L484.25 540.89 L484.35 540.70 L484.45 540.50 L484.55 540.29 L484.65 540.07 L484.75 539.83 L484.85 539.58 L484.95 539.32 L485.05 539.04 L485.15 538.74 L485.25 538.42 L485.35 538.09 L485.45 537.74 L485.55 537.37 L485.65 536.98 L485.75 536.57 L485.85 536.13 L485.95 535.68 L486.05 535.19 L486.15 534.69 L486.25 534.15 L486.35 533.59 L486.45 533.00 L486.55 532.37 L486.65 531.71 L486.75 531.02 L486.85 530.30 L486.95 529.53 L487.05 528.72 L487.15 527.88 L487.25 526.98 L487.35 526.05 L487.45 525.06 L487.55 524.02 L487.65 522.93 L487.75 521.78 L487.85 520.58 L487.95 519.31 L488.05 516.69 L488.15 512.93 L488.25 509.38 L488.35 506.06 L488.45 502.96 L488.55 500.09 L488.65 497.45 L488.75 495.05 L488.85 492.89 L488.95 490.98 L489.05 489.33 L489.15 487.95 L489.25 486.85 L489.35 486.06 L489.45 485.61 L489.50 485.54 L489.60 485.79 L489.70 486.42 L489.80 487.36 L489.90 488.60 L490.00 490.12 L490.10 491.90 L490.20 493.93 L490.30 496.22 L490.40 498.74 L490.50 501.50 L490.60 504.48 L490.70 507.69 L490.80 511.13 L490.90 514.78 L491.00 518.65 L491.10 519.95 L491.20 521.19 L491.30 522.36 L491.40 523.48 L491.50 524.55 L491.60 525.56 L491.70 526.52 L491.80 527.44 L491.90 528.31 L492.00 529.13 L492.10 529.92 L492.20 530.66 L492.30 531.37 L492.40 532.05 L492.50 532.69 L492.60 533.30 L492.70 533.87 L492.80 534.42 L492.90 534.94 L493.00 535.44 L493.10 535.91 L493.20 536.35 L493.30 536.78 L493.40 537.18 L493.50 537.56 L493.60 537.92 L493.70 538.26 L493.80 538.58 L493.90 538.89 L494.00 539.18 L494.10 539.45 L494.20 539.71 L494.30 539.95 L494.40 540.18 L494.50 540.40 L494.60 540.61 L494.70 540.80 L494.80 540.98 L494.90 541.15 L495.00 541.30 L495.10 541.45 L495.20 541.59 L495.30 541.72 L495.40 541.83 L495.50 541.94 L495.60 542.04 L495.70 542.14 L495.80 542.22 L495.90 542.29 L496.00 542.36 L496.10 542.42 L496.20 542.47 L496.30 542.51 L496.40 542.55 L496.50 542.58 L496.60 542.60 L496.70 542.62 L496.80 542.62 L496.85 542.62 L496.95 542.62 L497.05 542.61 L497.15 542.59 L497.25 542.57 L497.35 542.54 L497.45 542.50 L497.55 542.45 L497.65 542.40 L497.75 542.34 L497.85 542.27 L497.95 542.19 L498.05 542.11 L498.15 542.02 L498.25 541.92 L498.35 541.81 L498.45 541.69 L498.55 541.56 L498.65 541.42 L498.75 541.27 L498.85 541.12 L498.95 540.95 L499.05 540.77 L499.15 540.58 L499.25 540.37 L499.35 540.16 L499.45 539.93 L499.55 539.69 L499.65 539.43 L499.75 539.16 L499.85 538.87 L499.95 538.57 L500.05 538.25 L500.15 537.91 L500.25 537.55 L500.35 537.17 L500.45 536.78 L500.55 536.36 L500.65 535.91 L500.75 535.45 L500.85 534.96 L500.95 534.44 L501.05 533.90 L501.15 533.32 L501.25 532.72 L501.35 532.09 L501.45 531.42 L501.55 530.72 L501.65 529.98 L501.75 529.20 L501.85 528.38 L501.95 527.52 L502.05 526.61 L502.15 525.66 L502.25 524.66 L502.35 523.60 L502.45 522.50 L502.55 521.33 L502.65 520.10 L502.75 517.57 L502.85 513.94 L502.95 510.52 L503.05 507.31 L503.15 504.32 L503.25 501.54 L503.35 498.99 L503.45 496.67 L503.55 494.59 L503.65 492.74 L503.75 491.15 L503.85 489.82 L503.95 488.76 L504.05 488.00 L504.15 487.56 L504.20 487.49 L504.30 487.73 L504.40 488.34 L504.50 489.25 L504.60 490.45 L504.70 491.92 L504.80 493.63 L504.90 495.60 L505.00 497.80 L505.10 500.24 L505.20 502.90 L505.30 505.79 L505.40 508.89 L505.50 512.21 L505.60 515.73 L505.70 519.47 L505.80 520.74 L505.90 521.94 L506.00 523.09 L506.10 524.18 L506.20 525.21 L506.30 526.20 L506.40 527.13 L506.50 528.02 L506.60 528.87 L506.70 529.68 L506.80 530.44 L506.90 531.17 L507.00 531.86 L507.10 532.51 L507.20 533.13 L507.30 533.73 L507.40 534.29 L507.50 534.82 L507.60 535.33 L507.70 535.81 L507.80 536.26 L507.90 536.70 L508.00 537.11 L508.10 537.49 L508.20 537.86 L508.30 538.21 L508.40 538.54 L508.50 538.85 L508.60 539.15 L508.70 539.43 L508.80 539.69 L508.90 539.94 L509.00 540.18 L509.10 540.40 L509.20 540.61 L509.30 540.80 L509.40 540.98 L509.50 541.16 L509.60 541.32 L509.70 541.47 L509.80 541.61 L509.90 541.73 L510.00 541.85 L510.10 541.96 L510.20 542.06 L510.30 542.16 L510.40 542.24 L510.50 542.31 L510.60 542.38 L510.70 542.44 L510.80 542.49 L510.90 542.53 L511.00 542.56 L511.10 542.59 L511.20 542.61 L511.30 542.62 L511.40 542.62 L511.50 542.62 L511.60 542.61 L511.70 542.59 L511.80 542.56 L511.90 542.52 L512.00 542.48 L512.10 542.43 L512.20 542.37 L512.30 542.30 L512.40 542.22 L512.50 542.13 L512.60 542.04 L512.70 541.93 L512.80 541.82 L512.90 541.70 L513.00 541.56 L513.10 541.42 L513.20 541.26 L513.30 541.09 L513.40 540.91 L513.50 540.72 L513.60 540.52 L513.70 540.30 L513.80 540.07 L513.90 539.82 L514.00 539.56 L514.10 539.29 L514.20 539.00 L514.30 538.69 L514.40 538.36 L514.50 538.02 L514.60 537.65 L514.70 537.27 L514.80 536.86 L514.90 536.43 L515.00 535.98 L515.10 535.51 L515.20 535.00 L515.30 534.48 L515.40 533.92 L515.50 533.33 L515.60 532.71 L515.70 532.06 L515.80 531.38 L515.90 530.66 L516.00 529.90 L516.10 529.10 L516.20 528.26 L516.30 527.38 L516.40 526.45 L516.50 525.47 L516.60 524.44 L516.70 523.36 L516.80 522.22 L516.90 521.03 L517.00 519.77 L517.10 518.44 L517.20 514.54 L517.30 510.86 L517.40 507.40 L517.50 504.16 L517.60 501.14 L517.70 498.36 L517.80 495.82 L517.90 493.52 L518.00 491.47 L518.10 489.67 L518.20 488.14 L518.30 486.89 L518.40 485.94 L518.50 485.30 L518.60 485.05 L518.70 485.30 L518.80 485.94 L518.90 486.89 L519.00 488.14 L519.10 489.67 L519.20 491.47 L519.30 493.52 L519.40 495.82 L519.50 498.36 L519.60 501.14 L519.70 504.16 L519.80 507.40 L519.90 510.86 L520.00 514.54 L520.10 518.44 L520.20 519.72 L520.30 520.94 L520.40 522.10 L520.50 523.20 L520.60 524.24 L520.70 525.24 L520.80 526.18 L520.90 527.08 L521.00 527.94 L521.10 528.75 L521.20 529.53 L521.30 530.26 L521.40 530.96 L521.50 531.63 L521.60 532.26 L521.70 532.86 L521.80 533.43 L521.90 533.97 L522.00 534.49 L522.10 534.98 L522.20 535.44 L522.30 535.89 L522.40 536.31 L522.50 536.71 L522.60 537.08 L522.70 537.44 L522.80 537.78 L522.90 538.11 L523.00 538.42 L523.10 538.71 L523.20 538.98 L523.30 539.24 L523.40 539.49 L523.50 539.73 L523.60 539.95 L523.70 540.16 L523.80 540.36 L523.90 540.54 L524.00 540.72 L524.10 540.89 L524.20 541.04 L524.30 541.19 L524.40 541.33 L524.50 541.46 L524.60 541.58 L524.70 541.70 L524.80 541.80 L524.90 541.90 L525.00 541.99 L525.10 542.08 L525.20 542.15 L525.30 542.23 L525.40 542.29 L525.50 542.35 L525.60 542.40 L525.70 542.45 L525.80 542.49 L525.90 542.53 L526.00 542.56 L526.10 542.58 L526.20 542.60 L526.30 542.61 L526.40 542.62 L526.50 542.62" fill="none" stroke="#d0b0ef" stroke-width="2.8" stroke-linejoin="round" stroke-linecap="round"/>
<path d="M526.50 542.62 L526.60 542.62 L526.70 542.61 L526.80 542.59 L526.90 542.56 L527.00 542.53 L527.10 542.48 L527.20 542.43 L527.30 542.38 L527.40 542.31 L527.50 542.23 L527.60 542.15 L527.70 542.05 L527.80 541.95 L527.90 541.84 L528.00 541.72 L528.10 541.59 L528.20 541.44 L528.30 541.29 L528.40 541.12 L528.50 540.95 L528.60 540.76 L528.70 540.56 L528.80 540.34 L528.90 540.11 L529.00 539.87 L529.10 539.61 L529.20 539.33 L529.30 539.04 L529.40 538.73 L529.50 538.40 L529.60 538.06 L529.70 537.69 L529.80 537.30 L529.90 536.89 L530.00 536.46 L530.10 536.00 L530.20 535.51 L530.30 535.00 L530.40 534.46 L530.50 533.88 L530.60 533.28 L530.70 532.64 L530.80 531.97 L530.90 531.26 L531.00 530.51 L531.10 529.72 L531.20 528.89 L531.30 528.01 L531.40 527.08 L531.50 526.10 L531.60 525.07 L531.70 523.98 L531.80 522.84 L531.90 521.63 L532.00 520.35 L532.10 519.01 L532.20 517.59 L532.30 516.09 L532.40 514.52 L532.50 512.85 L532.60 511.10 L532.70 509.26 L532.80 507.31 L532.90 505.26 L533.00 503.09 L533.10 494.04 L533.20 485.35 L533.30 477.02 L533.40 469.07 L533.50 461.50 L533.60 454.34 L533.70 447.59 L533.80 441.28 L533.90 435.43 L534.00 430.06 L534.10 425.20 L534.20 420.89 L534.30 417.19 L534.40 414.16 L534.50 411.95 L534.60 410.85 L534.70 411.94 L534.80 414.15 L534.90 417.16 L535.00 420.85 L535.10 425.14 L535.20 429.99 L535.30 435.34 L535.40 441.17 L535.50 447.46 L535.60 454.18 L535.70 461.31 L535.80 468.85 L535.90 476.77 L536.00 485.07 L536.10 493.74 L536.20 502.75 L536.30 504.88 L536.40 506.89 L536.50 508.81 L536.60 510.62 L536.70 512.34 L536.80 513.98 L536.90 515.53 L537.00 517.00 L537.10 518.39 L537.20 519.71 L537.30 520.97 L537.40 522.16 L537.50 523.29 L537.60 524.36 L537.70 525.37 L537.80 526.33 L537.90 527.25 L538.00 528.11 L538.10 528.93 L538.20 529.71 L538.30 530.45 L538.40 531.15 L538.50 531.82 L538.60 532.44 L538.70 533.04 L538.80 533.61 L538.90 534.14 L539.00 534.65 L539.10 535.13 L539.20 535.59 L539.30 536.02 L539.40 536.43 L539.50 536.81 L539.60 537.18 L539.70 537.53 L539.80 537.85 L539.90 538.16 L540.00 538.46 L540.10 538.73 L540.20 538.99 L540.30 539.24 L540.40 539.47 L540.50 539.69 L540.60 539.90 L540.70 540.10 L540.80 540.28 L540.90 540.45 L541.00 540.61 L541.10 540.76 L541.20 540.91 L541.30 541.04 L541.40 541.16 L541.50 541.28 L541.60 541.38 L541.70 541.48 L541.80 541.57 L541.90 541.66 L542.00 541.73 L542.10 541.80 L542.20 541.86 L542.30 541.92 L542.40 541.97 L542.50 542.01 L542.60 542.05 L542.70 542.08 L542.80 542.10 L542.90 542.12 L543.00 542.13 L543.10 542.13 L543.15 542.14 L543.25 542.13 L543.35 542.12 L543.45 542.11 L543.55 542.09 L543.65 542.06 L543.75 542.03 L543.85 541.98 L543.95 541.94 L544.05 541.88 L544.15 541.82 L544.25 541.76 L544.35 541.68 L544.45 541.60 L544.55 541.51 L544.65 541.42 L544.75 541.31 L544.85 541.20 L544.95 541.07 L545.05 540.94 L545.15 540.80 L545.25 540.65 L545.35 540.49 L545.45 540.32 L545.55 540.14 L545.65 539.94 L545.75 539.74 L545.85 539.52 L545.95 539.29 L546.05 539.04 L546.15 538.78 L546.25 538.50 L546.35 538.21 L546.45 537.90 L546.55 537.58 L546.65 537.23 L546.75 536.86 L546.85 536.48 L546.95 536.07 L547.05 535.64 L547.15 535.18 L547.25 534.70 L547.35 534.20 L547.45 533.66 L547.55 533.10 L547.65 532.50 L547.75 531.87 L547.85 531.21 L547.95 530.51 L548.05 529.77 L548.15 529.00 L548.25 528.18 L548.35 527.31 L548.45 526.40 L548.55 525.44 L548.65 524.42 L548.75 523.35 L548.85 522.22 L548.95 521.04 L549.05 519.78 L549.15 518.46 L549.25 517.07 L549.35 515.60 L549.45 514.05 L549.55 512.42 L549.65 510.70 L549.75 508.88 L549.85 506.97 L549.95 504.96 L550.05 502.83 L550.15 497.06 L550.25 487.99 L550.35 479.28 L550.45 470.96 L550.55 463.03 L550.65 455.50 L550.75 448.38 L550.85 441.71 L550.95 435.49 L551.05 429.75 L551.15 424.52 L551.25 419.83 L551.35 415.72 L551.45 412.27 L551.55 409.57 L551.65 407.81 L551.70 407.44 L551.80 408.55 L551.90 410.82 L552.00 413.91 L552.10 417.70 L552.20 422.10 L552.30 427.07 L552.40 432.56 L552.50 438.54 L552.60 444.99 L552.70 451.89 L552.80 459.21 L552.90 466.94 L553.00 475.07 L553.10 483.59 L553.20 492.48 L553.30 501.73 L553.40 503.90 L553.50 505.97 L553.60 507.93 L553.70 509.79 L553.80 511.56 L553.90 513.23 L554.00 514.82 L554.10 516.32 L554.20 517.75 L554.30 519.11 L554.40 520.39 L554.50 521.61 L554.60 522.77 L554.70 523.87 L554.80 524.91 L554.90 525.89 L555.00 526.83 L555.10 527.72 L555.20 528.56 L555.30 529.35 L555.40 530.11 L555.50 530.83 L555.60 531.51 L555.70 532.15 L555.80 532.77 L555.90 533.34 L556.00 533.89 L556.10 534.41 L556.20 534.91 L556.30 535.37 L556.40 535.82 L556.50 536.24 L556.60 536.63 L556.70 537.01 L556.80 537.36 L556.90 537.70 L557.00 538.02 L557.10 538.32 L557.20 538.60 L557.30 538.87 L557.40 539.13 L557.50 539.36 L557.60 539.59 L557.70 539.80 L557.80 540.00 L557.90 540.19 L558.00 540.37 L558.10 540.54 L558.20 540.69 L558.30 540.84 L558.40 540.98 L558.50 541.10 L558.60 541.22 L558.70 541.33 L558.80 541.43 L558.90 541.53 L559.00 541.62 L559.10 541.70 L559.20 541.77 L559.30 541.83 L559.40 541.89 L559.50 541.94 L559.60 541.99 L559.70 542.03 L559.80 542.06 L559.90 542.09 L560.00 542.11 L560.10 542.12 L560.20 542.13 L560.30 542.14 L560.40 542.13 L560.50 542.12 L560.60 542.11 L560.70 542.09 L560.80 542.06 L560.90 542.03 L561.00 542.00 L561.10 541.95 L561.20 541.90 L561.30 541.85 L561.40 541.78 L561.50 541.72 L561.60 541.64 L561.70 541.56 L561.80 541.47 L561.90 541.37 L562.00 541.27 L562.10 541.15 L562.20 541.03 L562.30 540.90 L562.40 540.76 L562.50 540.61 L562.60 540.45 L562.70 540.28 L562.80 540.10 L562.90 539.91 L563.00 539.71 L563.10 539.50 L563.20 539.27 L563.30 539.03 L563.40 538.77 L563.50 538.50 L563.60 538.21 L563.70 537.91 L563.80 537.59 L563.90 537.25 L564.00 536.89 L564.10 536.51 L564.20 536.11 L564.30 535.69 L564.40 535.25 L564.50 534.78 L564.60 534.28 L564.70 533.76 L564.80 533.21 L564.90 532.62 L565.00 532.01 L565.10 531.36 L565.20 530.68 L565.30 529.96 L565.40 529.20 L565.50 528.39 L565.60 527.55 L565.70 526.66 L565.80 525.72 L565.90 524.73 L566.00 523.68 L566.10 522.58 L566.20 521.42 L566.30 520.19 L566.40 518.90 L566.50 517.54 L566.60 516.10 L566.70 514.59 L566.80 513.00 L566.90 511.32 L567.00 509.54 L567.10 507.67 L567.20 505.71 L567.30 503.63 L567.40 494.81 L567.50 486.35 L567.60 478.23 L567.70 470.49 L567.80 463.12 L567.90 456.14 L568.00 449.57 L568.10 443.42 L568.20 437.72 L568.30 432.49 L568.40 427.75 L568.50 423.56 L568.60 419.95 L568.70 417.01 L568.80 414.85 L568.90 413.78 L569.00 414.85 L569.10 417.01 L569.20 419.95 L569.30 423.56 L569.40 427.75 L569.50 432.49 L569.60 437.72 L569.70 443.42 L569.80 449.57 L569.90 456.14 L570.00 463.12 L570.10 470.49 L570.20 478.23 L570.30 486.35 L570.40 494.81 L570.50 503.63 L570.60 505.71 L570.70 507.69 L570.80 509.56 L570.90 511.34 L571.00 513.02 L571.10 514.62 L571.20 516.14 L571.30 517.58 L571.40 518.94 L571.50 520.24 L571.60 521.46 L571.70 522.63 L571.80 523.73 L571.90 524.78 L572.00 525.78 L572.10 526.72 L572.20 527.61 L572.30 528.46 L572.40 529.26 L572.50 530.03 L572.60 530.75 L572.70 531.43 L572.80 532.08 L572.90 532.70 L573.00 533.28 L573.10 533.83 L573.20 534.36 L573.30 534.86 L573.40 535.33 L573.50 535.77 L573.60 536.19 L573.70 536.59 L573.80 536.97 L573.90 537.33 L574.00 537.67 L574.10 537.99 L574.20 538.29 L574.30 538.58 L574.40 538.85 L574.50 539.10 L574.60 539.35 L574.70 539.57 L574.80 539.79 L574.90 539.99 L575.00 540.18 L575.10 540.36 L575.20 540.53 L575.30 540.68 L575.40 540.83 L575.50 540.97 L575.60 541.10 L575.70 541.22 L575.80 541.33 L575.90 541.43 L576.00 541.52 L576.10 541.61 L576.20 541.69 L576.30 541.76 L576.40 541.83 L576.50 541.89 L576.60 541.94 L576.70 541.99 L576.80 542.03 L576.90 542.06 L577.00 542.09 L577.10 542.11 L577.20 542.12 L577.30 542.13 L577.40 542.14 L577.50 542.13 L577.60 542.12 L577.70 542.11 L577.80 542.09 L577.90 542.06 L578.00 542.03 L578.10 541.99 L578.20 541.94 L578.30 541.89 L578.40 541.83 L578.50 541.76 L578.60 541.69 L578.70 541.60 L578.80 541.52 L578.90 541.42 L579.00 541.31 L579.10 541.20 L579.20 541.08 L579.30 540.95 L579.40 540.81 L579.50 540.66 L579.60 540.50 L579.70 540.33 L579.80 540.15 L579.90 539.96 L580.00 539.75 L580.10 539.53 L580.20 539.30 L580.30 539.06 L580.40 538.80 L580.50 538.52 L580.60 538.23 L580.70 537.93 L580.80 537.60 L580.90 537.26 L581.00 536.89 L581.10 536.51 L581.20 536.10 L581.30 535.67 L581.40 535.22 L581.50 534.74 L581.60 534.24 L581.70 533.71 L581.80 533.15 L581.90 532.55 L582.00 531.93 L582.10 531.27 L582.20 530.57 L582.30 529.84 L582.40 529.07 L582.50 528.25 L582.60 527.39 L582.70 526.48 L582.80 525.53 L582.90 524.52 L583.00 523.45 L583.10 522.33 L583.20 521.15 L583.30 519.90 L583.40 518.59 L583.50 517.20 L583.60 515.74 L583.70 514.20 L583.80 512.58 L583.90 510.87 L584.00 509.06 L584.10 507.16 L584.20 505.16 L584.30 503.04 L584.40 494.10 L584.50 485.50 L584.60 477.26 L584.70 469.40 L584.80 461.91 L584.90 454.83 L585.00 448.16 L585.10 441.92 L585.20 436.13 L585.30 430.82 L585.40 426.01 L585.50 421.76 L585.60 418.09 L585.70 415.10 L585.80 412.91 L585.90 411.83 L586.00 412.91 L586.10 415.10 L586.20 418.09 L586.30 421.76 L586.40 426.01 L586.50 430.82 L586.60 436.13 L586.70 441.92 L586.80 448.16 L586.90 454.83 L587.00 461.91 L587.10 469.40 L587.20 477.26 L587.30 485.50 L587.40 494.10 L587.50 503.04 L587.60 505.16 L587.70 507.17 L587.80 509.08 L587.90 510.89 L588.00 512.61 L588.10 514.23 L588.20 515.78 L588.30 517.24 L588.40 518.63 L588.50 519.95 L588.60 521.20 L588.70 522.39 L588.80 523.51 L588.90 524.58 L589.00 525.59 L589.10 526.55 L589.20 527.46 L589.30 528.32 L589.40 529.14 L589.50 529.91 L589.60 530.65 L589.70 531.35 L589.80 532.01 L589.90 532.63 L590.00 533.23 L590.10 533.79 L590.20 534.32 L590.30 534.83 L590.40 535.31 L590.50 535.76 L590.60 536.19 L590.70 536.59 L590.80 536.98 L590.90 537.34 L591.00 537.68 L591.10 538.01 L591.20 538.32 L591.30 538.61 L591.40 538.88 L591.50 539.14 L591.60 539.38 L591.70 539.61 L591.80 539.83 L591.90 540.04 L592.00 540.23 L592.10 540.41 L592.20 540.58 L592.30 540.73 L592.40 540.88 L592.50 541.02 L592.60 541.15 L592.70 541.27 L592.80 541.38 L592.90 541.48 L593.00 541.57 L593.10 541.66 L593.20 541.74 L593.30 541.81 L593.40 541.87 L593.50 541.93 L593.60 541.98 L593.70 542.02 L593.80 542.06 L593.90 542.08 L594.00 542.11 L594.10 542.12 L594.20 542.13 L594.30 542.14 L594.40 542.13 L594.50 542.12 L594.60 542.11 L594.70 542.09 L594.80 542.06 L594.90 542.02 L595.00 541.98 L595.10 541.93 L595.20 541.88 L595.30 541.82 L595.40 541.75 L595.50 541.68 L595.60 541.59 L595.70 541.50 L595.80 541.40 L595.90 541.30 L596.00 541.18 L596.10 541.06 L596.20 540.92 L596.30 540.78 L596.40 540.63 L596.50 540.47 L596.60 540.29 L596.70 540.11 L596.80 539.91 L596.90 539.70 L597.00 539.48 L597.10 539.24 L597.20 538.99 L597.30 538.73 L597.40 538.45 L597.50 538.15 L597.60 537.84 L597.70 537.50 L597.80 537.15 L597.90 536.78 L598.00 536.39 L598.10 535.97 L598.20 535.54 L598.30 535.07 L598.40 534.59 L598.50 534.07 L598.60 533.53 L598.70 532.95 L598.80 532.35 L598.90 531.71 L599.00 531.04 L599.10 530.33 L599.20 529.58 L599.30 528.79 L599.40 527.95 L599.50 527.07 L599.60 526.15 L599.70 525.17 L599.80 524.14 L599.90 523.05 L600.00 521.91 L600.10 520.70 L600.20 519.42 L600.30 518.08 L600.40 516.67 L600.50 515.17 L600.60 513.60 L600.70 511.94 L600.80 510.20 L600.90 508.35 L601.00 506.41 L601.10 504.36 L601.20 495.71 L601.30 487.41 L601.40 479.45 L601.50 471.85 L601.60 464.62 L601.70 457.77 L601.80 451.33 L601.90 445.30 L602.00 439.70 L602.10 434.57 L602.20 429.93 L602.30 425.81 L602.40 422.28 L602.50 419.39 L602.60 417.27 L602.70 416.22 L602.80 417.27 L602.90 419.39 L603.00 422.28 L603.10 425.81 L603.20 429.93 L603.30 434.57 L603.40 439.70 L603.50 445.30 L603.60 451.33 L603.70 457.77 L603.80 464.62 L603.90 471.85 L604.00 479.45 L604.10 487.41 L604.20 495.71 L604.30 504.36 L604.40 506.39 L604.50 508.31 L604.60 510.13 L604.70 511.86 L604.80 513.50 L604.90 515.06 L605.00 516.54 L605.10 517.94 L605.20 519.27 L605.30 520.53 L605.40 521.72 L605.50 522.86 L605.60 523.94 L605.70 524.96 L605.80 525.92 L605.90 526.84 L606.00 527.71 L606.10 528.54 L606.20 529.32 L606.30 530.06 L606.40 530.77 L606.50 531.44 L606.60 532.07 L606.70 532.67 L606.80 533.24 L606.90 533.78 L607.00 534.29 L607.10 534.78 L607.20 535.24 L607.30 535.67 L607.40 536.09 L607.50 536.48 L607.60 536.85 L607.70 537.20 L607.80 537.53 L607.90 537.84 L608.00 538.14 L608.10 538.42 L608.20 538.69 L608.30 538.94 L608.40 539.18 L608.50 539.40 L608.60 539.62 L608.70 539.82 L608.80 540.01 L608.90 540.18 L609.00 540.35 L609.10 540.51 L609.20 540.66 L609.30 540.80 L609.40 540.93 L609.50 541.05 L609.60 541.16 L609.70 541.27 L609.80 541.37 L609.90 541.46 L610.00 541.55 L610.10 541.63 L610.20 541.70 L610.30 541.77 L610.40 541.83 L610.50 541.88 L610.60 541.93 L610.70 541.97 L610.80 542.01 L610.90 542.05 L611.00 542.07 L611.10 542.10 L611.20 542.11 L611.30 542.13 L611.40 542.13 L611.50 542.14" fill="none" stroke="#bac0f8" stroke-width="2.8" stroke-linejoin="round" stroke-linecap="round"/>
<path d="M611.50 542.14 L611.60 542.13 L611.70 542.12 L611.80 542.11 L611.90 542.09 L612.00 542.06 L612.10 542.02 L612.20 541.98 L612.30 541.93 L612.40 541.88 L612.50 541.82 L612.60 541.75 L612.70 541.68 L612.80 541.59 L612.90 541.50 L613.00 541.41 L613.10 541.30 L613.20 541.18 L613.30 541.06 L613.40 540.93 L613.50 540.79 L613.60 540.64 L613.70 540.48 L613.80 540.31 L613.90 540.13 L614.00 539.93 L614.10 539.73 L614.20 539.51 L614.30 539.28 L614.40 539.04 L614.50 538.78 L614.60 538.51 L614.70 538.23 L614.80 537.92 L614.90 537.60 L615.00 537.27 L615.10 536.91 L615.20 536.54 L615.30 536.14 L615.40 535.73 L615.50 535.29 L615.60 534.83 L615.70 534.34 L615.80 533.83 L615.90 533.29 L616.00 532.72 L616.10 532.13 L616.20 531.50 L616.30 530.84 L616.40 530.14 L616.50 529.41 L616.60 528.64 L616.70 527.83 L616.80 526.98 L616.90 526.09 L617.00 525.15 L617.10 524.16 L617.20 523.12 L617.30 522.02 L617.40 520.87 L617.50 519.66 L617.60 518.38 L617.70 517.05 L617.80 515.64 L617.90 514.16 L618.00 512.60 L618.10 510.96 L618.20 509.24 L618.30 507.43 L618.40 505.53 L618.50 503.53 L618.60 501.43 L618.70 499.22 L618.80 496.90 L618.90 494.45 L619.00 491.88 L619.10 489.18 L619.20 479.02 L619.30 469.35 L619.40 460.18 L619.50 451.52 L619.60 443.38 L619.70 435.76 L619.80 428.68 L619.90 422.14 L620.00 416.16 L620.10 410.75 L620.20 405.93 L620.30 401.71 L620.40 398.11 L620.50 395.17 L620.60 392.93 L620.70 391.44 L620.80 390.84 L620.90 391.44 L621.00 392.93 L621.10 395.17 L621.20 398.11 L621.30 401.71 L621.40 405.93 L621.50 410.75 L621.60 416.16 L621.70 422.14 L621.80 428.68 L621.90 435.76 L622.00 443.38 L622.10 451.52 L622.20 460.18 L622.30 469.35 L622.40 479.02 L622.50 489.18 L622.60 491.90 L622.70 494.48 L622.80 496.94 L622.90 499.28 L623.00 501.50 L623.10 503.62 L623.20 505.63 L623.30 507.54 L623.40 509.36 L623.50 511.09 L623.60 512.74 L623.70 514.30 L623.80 515.79 L623.90 517.21 L624.00 518.55 L624.10 519.83 L624.20 521.05 L624.30 522.21 L624.40 523.31 L624.50 524.36 L624.60 525.35 L624.70 526.30 L624.80 527.20 L624.90 528.05 L625.00 528.87 L625.10 529.64 L625.20 530.37 L625.30 531.07 L625.40 531.73 L625.50 532.36 L625.60 532.96 L625.70 533.53 L625.80 534.07 L625.90 534.58 L626.00 535.07 L626.10 535.53 L626.20 535.97 L626.30 536.38 L626.40 536.78 L626.50 537.15 L626.60 537.51 L626.70 537.84 L626.80 538.16 L626.90 538.46 L627.00 538.75 L627.10 539.02 L627.20 539.27 L627.30 539.51 L627.40 539.74 L627.50 539.95 L627.60 540.15 L627.70 540.34 L627.80 540.52 L627.90 540.68 L628.00 540.84 L628.10 540.98 L628.20 541.12 L628.30 541.24 L628.40 541.36 L628.50 541.47 L628.60 541.57 L628.70 541.66 L628.80 541.74 L628.90 541.81 L629.00 541.88 L629.10 541.93 L629.20 541.99 L629.30 542.03 L629.40 542.06 L629.50 542.09 L629.60 542.11 L629.70 542.13 L629.80 542.13 L629.85 542.14 L629.95 542.13 L630.05 542.12 L630.15 542.10 L630.25 542.08 L630.35 542.05 L630.45 542.01 L630.55 541.96 L630.65 541.90 L630.75 541.84 L630.85 541.77 L630.95 541.69 L631.05 541.60 L631.15 541.51 L631.25 541.40 L631.35 541.29 L631.45 541.16 L631.55 541.03 L631.65 540.89 L631.75 540.73 L631.85 540.57 L631.95 540.40 L632.05 540.21 L632.15 540.01 L632.25 539.80 L632.35 539.58 L632.45 539.34 L632.55 539.09 L632.65 538.82 L632.75 538.54 L632.85 538.24 L632.95 537.92 L633.05 537.59 L633.15 537.24 L633.25 536.87 L633.35 536.48 L633.45 536.06 L633.55 535.63 L633.65 535.17 L633.75 534.69 L633.85 534.18 L633.95 533.64 L634.05 533.08 L634.15 532.48 L634.25 531.86 L634.35 531.20 L634.45 530.51 L634.55 529.78 L634.65 529.01 L634.75 528.20 L634.85 527.35 L634.95 526.46 L635.05 525.52 L635.15 524.53 L635.25 523.49 L635.35 522.39 L635.45 521.24 L635.55 520.03 L635.65 518.76 L635.75 517.42 L635.85 516.01 L635.95 514.53 L636.05 512.98 L636.15 511.34 L636.25 509.62 L636.35 507.81 L636.45 505.91 L636.55 503.91 L636.65 501.81 L636.75 499.60 L636.85 497.27 L636.95 494.83 L637.05 492.26 L637.15 489.56 L637.25 482.91 L637.35 472.80 L637.45 463.20 L637.55 454.11 L637.65 445.55 L637.75 437.52 L637.85 430.02 L637.95 423.08 L638.05 416.70 L638.15 410.89 L638.25 405.67 L638.35 401.06 L638.45 397.07 L638.55 393.74 L638.65 391.09 L638.75 389.18 L638.85 388.09 L638.90 387.91 L639.00 388.52 L639.10 390.04 L639.20 392.33 L639.30 395.32 L639.40 398.99 L639.50 403.29 L639.60 408.21 L639.70 413.72 L639.80 419.82 L639.90 426.48 L640.00 433.70 L640.10 441.46 L640.20 449.76 L640.30 458.59 L640.40 467.94 L640.50 477.79 L640.60 488.16 L640.70 490.93 L640.80 493.56 L640.90 496.07 L641.00 498.45 L641.10 500.72 L641.20 502.87 L641.30 504.92 L641.40 506.87 L641.50 508.73 L641.60 510.49 L641.70 512.17 L641.80 513.77 L641.90 515.28 L642.00 516.73 L642.10 518.10 L642.20 519.40 L642.30 520.64 L642.40 521.82 L642.50 522.95 L642.60 524.01 L642.70 525.03 L642.80 525.99 L642.90 526.91 L643.00 527.78 L643.10 528.61 L643.20 529.40 L643.30 530.14 L643.40 530.86 L643.50 531.53 L643.60 532.17 L643.70 532.78 L643.80 533.36 L643.90 533.91 L644.00 534.44 L644.10 534.93 L644.20 535.40 L644.30 535.85 L644.40 536.27 L644.50 536.68 L644.60 537.06 L644.70 537.42 L644.80 537.76 L644.90 538.08 L645.00 538.39 L645.10 538.68 L645.20 538.96 L645.30 539.21 L645.40 539.46 L645.50 539.69 L645.60 539.91 L645.70 540.11 L645.80 540.30 L645.90 540.49 L646.00 540.65 L646.10 540.81 L646.20 540.96 L646.30 541.10 L646.40 541.23 L646.50 541.34 L646.60 541.45 L646.70 541.55 L646.80 541.65 L646.90 541.73 L647.00 541.80 L647.10 541.87 L647.20 541.93 L647.30 541.98 L647.40 542.03 L647.50 542.06 L647.60 542.09 L647.70 542.11 L647.80 542.13 L647.90 542.13 L647.95 542.14 L648.05 542.13 L648.15 542.12 L648.25 542.10 L648.35 542.08 L648.45 542.04 L648.55 542.00 L648.65 541.95 L648.75 541.90 L648.85 541.83 L648.95 541.76 L649.05 541.68 L649.15 541.59 L649.25 541.50 L649.35 541.39 L649.45 541.27 L649.55 541.15 L649.65 541.01 L649.75 540.87 L649.85 540.71 L649.95 540.55 L650.05 540.37 L650.15 540.18 L650.25 539.98 L650.35 539.76 L650.45 539.54 L650.55 539.29 L650.65 539.04 L650.75 538.77 L650.85 538.48 L650.95 538.18 L651.05 537.86 L651.15 537.52 L651.25 537.16 L651.35 536.79 L651.45 536.39 L651.55 535.97 L651.65 535.53 L651.75 535.06 L651.85 534.57 L651.95 534.05 L652.05 533.51 L652.15 532.93 L652.25 532.33 L652.35 531.69 L652.45 531.03 L652.55 530.32 L652.65 529.58 L652.75 528.80 L652.85 527.98 L652.95 527.12 L653.05 526.21 L653.15 525.25 L653.25 524.25 L653.35 523.19 L653.45 522.08 L653.55 520.91 L653.65 519.68 L653.75 518.39 L653.85 517.03 L653.95 515.60 L654.05 514.10 L654.15 512.52 L654.25 510.85 L654.35 509.11 L654.45 507.27 L654.55 505.34 L654.65 503.31 L654.75 501.17 L654.85 498.92 L654.95 496.56 L655.05 494.08 L655.15 491.47 L655.25 488.73 L655.35 481.98 L655.45 471.70 L655.55 461.95 L655.65 452.72 L655.75 444.02 L655.85 435.86 L655.95 428.25 L656.05 421.20 L656.15 414.71 L656.25 408.82 L656.35 403.51 L656.45 398.83 L656.55 394.78 L656.65 391.39 L656.75 388.70 L656.85 386.76 L656.95 385.65 L657.00 385.47 L657.10 386.09 L657.20 387.63 L657.30 389.96 L657.40 393.00 L657.50 396.72 L657.60 401.09 L657.70 406.09 L657.80 411.69 L657.90 417.88 L658.00 424.65 L658.10 431.99 L658.20 439.87 L658.30 448.30 L658.40 457.27 L658.50 466.76 L658.60 476.78 L658.70 487.30 L658.80 490.10 L658.90 492.75 L659.00 495.28 L659.10 497.68 L659.20 499.97 L659.30 502.15 L659.40 504.21 L659.50 506.18 L659.60 508.05 L659.70 509.83 L659.80 511.53 L659.90 513.14 L660.00 514.67 L660.10 516.12 L660.20 517.51 L660.30 518.83 L660.40 520.08 L660.50 521.27 L660.60 522.40 L660.70 523.48 L660.80 524.50 L660.90 525.48 L661.00 526.40 L661.10 527.29 L661.20 528.12 L661.30 528.92 L661.40 529.68 L661.50 530.39 L661.60 531.08 L661.70 531.73 L661.80 532.34 L661.90 532.93 L662.00 533.49 L662.10 534.02 L662.20 534.52 L662.30 535.00 L662.40 535.45 L662.50 535.88 L662.60 536.29 L662.70 536.68 L662.80 537.05 L662.90 537.40 L663.00 537.73 L663.10 538.04 L663.20 538.34 L663.30 538.62 L663.40 538.89 L663.50 539.14 L663.60 539.38 L663.70 539.60 L663.80 539.81 L663.90 540.01 L664.00 540.20 L664.10 540.38 L664.20 540.55 L664.30 540.70 L664.40 540.85 L664.50 540.99 L664.60 541.12 L664.70 541.24 L664.80 541.35 L664.90 541.45 L665.00 541.54 L665.10 541.63 L665.20 541.71 L665.30 541.78 L665.40 541.85 L665.50 541.91 L665.60 541.96 L665.70 542.00 L665.80 542.04 L665.90 542.07 L666.00 542.10 L666.10 542.12 L666.20 542.13 L666.30 542.13 L666.35 542.14 L666.45 542.13 L666.55 542.12 L666.65 542.11 L666.75 542.08 L666.85 542.06 L666.95 542.02 L667.05 541.98 L667.15 541.93 L667.25 541.87 L667.35 541.81 L667.45 541.74 L667.55 541.67 L667.65 541.58 L667.75 541.49 L667.85 541.39 L667.95 541.28 L668.05 541.16 L668.15 541.04 L668.25 540.90 L668.35 540.76 L668.45 540.61 L668.55 540.44 L668.65 540.27 L668.75 540.08 L668.85 539.89 L668.95 539.68 L669.05 539.46 L669.15 539.22 L669.25 538.97 L669.35 538.71 L669.45 538.43 L669.55 538.14 L669.65 537.83 L669.75 537.51 L669.85 537.16 L669.95 536.80 L670.05 536.42 L670.15 536.01 L670.25 535.59 L670.35 535.14 L670.45 534.67 L670.55 534.17 L670.65 533.65 L670.75 533.10 L670.85 532.52 L670.95 531.91 L671.05 531.27 L671.15 530.60 L671.25 529.89 L671.35 529.14 L671.45 528.36 L671.55 527.53 L671.65 526.66 L671.75 525.75 L671.85 524.78 L671.95 523.77 L672.05 522.71 L672.15 521.59 L672.25 520.41 L672.35 519.18 L672.45 517.88 L672.55 516.51 L672.65 515.07 L672.75 513.56 L672.85 511.97 L672.95 510.30 L673.05 508.54 L673.15 506.69 L673.25 504.75 L673.35 502.71 L673.45 500.56 L673.55 498.30 L673.65 495.93 L673.75 493.43 L673.85 490.81 L673.95 488.05 L674.05 481.23 L674.15 470.83 L674.25 460.95 L674.35 451.60 L674.45 442.80 L674.55 434.54 L674.65 426.83 L674.75 419.69 L674.85 413.13 L674.95 407.15 L675.05 401.79 L675.15 397.04 L675.25 392.94 L675.35 389.51 L675.45 386.79 L675.55 384.82 L675.65 383.70 L675.70 383.52 L675.80 384.15 L675.90 385.71 L676.00 388.06 L676.10 391.14 L676.20 394.91 L676.30 399.34 L676.40 404.39 L676.50 410.07 L676.60 416.34 L676.70 423.19 L676.80 430.61 L676.90 438.60 L677.00 447.13 L677.10 456.21 L677.20 465.82 L677.30 475.96 L677.40 486.62 L677.50 489.46 L677.60 492.16 L677.70 494.72 L677.80 497.17 L677.90 499.49 L678.00 501.70 L678.10 503.80 L678.20 505.80 L678.30 507.70 L678.40 509.51 L678.50 511.23 L678.60 512.86 L678.70 514.42 L678.80 515.90 L678.90 517.30 L679.00 518.64 L679.10 519.91 L679.20 521.12 L679.30 522.27 L679.40 523.37 L679.50 524.41 L679.60 525.40 L679.70 526.34 L679.80 527.23 L679.90 528.08 L680.00 528.89 L680.10 529.66 L680.20 530.39 L680.30 531.08 L680.40 531.74 L680.50 532.36 L680.60 532.96 L680.70 533.52 L680.80 534.06 L680.90 534.57 L681.00 535.06 L681.10 535.51 L681.20 535.95 L681.30 536.36 L681.40 536.76 L681.50 537.13 L681.60 537.48 L681.70 537.82 L681.80 538.13 L681.90 538.43 L682.00 538.72 L682.10 538.98 L682.20 539.24 L682.30 539.48 L682.40 539.70 L682.50 539.92 L682.60 540.12 L682.70 540.30 L682.80 540.48 L682.90 540.65 L683.00 540.80 L683.10 540.95 L683.20 541.09 L683.30 541.21 L683.40 541.33 L683.50 541.44 L683.60 541.54 L683.70 541.63 L683.80 541.71 L683.90 541.79 L684.00 541.85 L684.10 541.91 L684.20 541.97 L684.30 542.01 L684.40 542.05 L684.50 542.08 L684.60 542.10 L684.70 542.12 L684.80 542.13 L684.90 542.14 L685.00 542.13 L685.10 542.12 L685.20 542.10 L685.30 542.08 L685.40 542.05 L685.50 542.01 L685.60 541.97 L685.70 541.91 L685.80 541.85 L685.90 541.79 L686.00 541.71 L686.10 541.63 L686.20 541.54 L686.30 541.44 L686.40 541.33 L686.50 541.21 L686.60 541.09 L686.70 540.95 L686.80 540.80 L686.90 540.65 L687.00 540.48 L687.10 540.30 L687.20 540.12 L687.30 539.92 L687.40 539.70 L687.50 539.48 L687.60 539.24 L687.70 538.98 L687.80 538.72 L687.90 538.43 L688.00 538.13 L688.10 537.82 L688.20 537.48 L688.30 537.13 L688.40 536.76 L688.50 536.36 L688.60 535.95 L688.70 535.51 L688.80 535.06 L688.90 534.57 L689.00 534.06 L689.10 533.52 L689.20 532.96 L689.30 532.36 L689.40 531.74 L689.50 531.08 L689.60 530.39 L689.70 529.66 L689.80 528.89 L689.90 528.08 L690.00 527.23 L690.10 526.34 L690.20 525.40 L690.30 524.41 L690.40 523.37 L690.50 522.27 L690.60 521.12 L690.70 519.91 L690.80 518.64 L690.90 517.30 L691.00 515.90 L691.10 514.42 L691.20 512.86 L691.30 511.23 L691.40 509.51 L691.50 507.70 L691.60 505.80 L691.70 503.80 L691.80 501.70 L691.90 499.49 L692.00 497.17 L692.10 494.72 L692.20 492.16 L692.30 489.46 L692.40 486.62 L692.50 475.96 L692.60 465.82 L692.70 456.21 L692.80 447.13 L692.90 438.60 L693.00 430.61 L693.10 423.19 L693.20 416.34 L693.30 410.07 L693.40 404.39 L693.50 399.34 L693.60 394.91 L693.70 391.14 L693.80 388.06 L693.90 385.71 L694.00 384.15 L694.10 383.52 L694.20 384.15 L694.30 385.71 L694.40 388.06 L694.50 391.14 L694.60 394.91 L694.70 399.34 L694.80 404.39 L694.90 410.07 L695.00 416.34 L695.10 423.19 L695.20 430.61 L695.30 438.60 L695.40 447.13 L695.50 456.21 L695.60 465.82 L695.70 475.96 L695.80 486.62 L695.90 489.41 L696.00 492.06 L696.10 494.59 L696.20 496.99 L696.30 499.27 L696.40 501.45 L696.50 503.51 L696.60 505.48 L696.70 507.35 L696.80 509.13 L696.90 510.82 L697.00 512.43 L697.10 513.96 L697.20 515.41 L697.30 516.80 L697.40 518.11 L697.50 519.37 L697.60 520.56 L697.70 521.69 L697.80 522.77 L697.90 523.79 L698.00 524.77 L698.10 525.69 L698.20 526.57 L698.30 527.41 L698.40 528.21 L698.50 528.97 L698.60 529.69 L698.70 530.37 L698.80 531.03 L698.90 531.65 L699.00 532.24 L699.10 532.80 L699.20 533.33 L699.30 533.83 L699.40 534.32 L699.50 534.77 L699.60 535.21 L699.70 535.62 L699.80 536.01 L699.90 536.39 L700.00 536.74 L700.10 537.08 L700.20 537.40 L700.30 537.70 L700.40 537.99 L700.50 538.26 L700.60 538.52 L700.70 538.76 L700.80 539.00 L700.90 539.22 L701.00 539.43 L701.10 539.63 L701.20 539.81 L701.30 539.99 L701.40 540.16 L701.50 540.32 L701.60 540.47 L701.70 540.61 L701.80 540.74 L701.90 540.87 L702.00 540.99 L702.10 541.10 L702.20 541.20 L702.30 541.30 L702.40 541.39 L702.50 541.48 L702.60 541.56 L702.70 541.63 L702.80 541.70 L702.90 541.76 L703.00 541.82 L703.10 541.87 L703.20 541.92 L703.30 541.96 L703.40 542.00 L703.50 542.03 L703.60 542.06 L703.70 542.08 L703.80 542.10 L703.90 542.12 L704.00 542.13 L704.10 542.13 L704.20 542.14" fill="none" stroke="#84caf3" stroke-width="2.8" stroke-linejoin="round" stroke-linecap="round"/>
</g>
<rect x="435.50" y="329.00" width="291.90" height="234.20" fill="none" stroke="#0a0a0a" stroke-width="2.5"/>
<line x1="453.00" y1="563.20" x2="453.00" y2="558.90" stroke="#000" stroke-width="2"/>
<text x="453.00" y="584.20" font-family="Liberation Sans, sans-serif" font-size="19.5" text-anchor="middle" textLength="11.17" lengthAdjust="spacingAndGlyphs" fill="#1a1a1a" stroke="#1a1a1a" stroke-width="0.3">0</text>
<line x1="526.27" y1="563.20" x2="526.27" y2="558.90" stroke="#000" stroke-width="2"/>
<text x="526.27" y="584.20" font-family="Liberation Sans, sans-serif" font-size="19.5" text-anchor="middle" textLength="29.92" lengthAdjust="spacingAndGlyphs" fill="#1a1a1a" stroke="#1a1a1a" stroke-width="0.3">100</text>
<line x1="599.54" y1="563.20" x2="599.54" y2="558.90" stroke="#000" stroke-width="2"/>
<text x="599.54" y="584.20" font-family="Liberation Sans, sans-serif" font-size="19.5" text-anchor="middle" textLength="33.50" lengthAdjust="spacingAndGlyphs" fill="#1a1a1a" stroke="#1a1a1a" stroke-width="0.3">200</text>
<line x1="672.81" y1="563.20" x2="672.81" y2="558.90" stroke="#000" stroke-width="2"/>
<text x="672.81" y="584.20" font-family="Liberation Sans, sans-serif" font-size="19.5" text-anchor="middle" textLength="33.50" lengthAdjust="spacingAndGlyphs" fill="#1a1a1a" stroke="#1a1a1a" stroke-width="0.3">300</text>
<line x1="435.50" y1="543.60" x2="439.80" y2="543.60" stroke="#000" stroke-width="2"/>
<text x="429.90" y="548.40" font-family="Liberation Sans, sans-serif" font-size="19.5" text-anchor="end" textLength="11.17" lengthAdjust="spacingAndGlyphs" fill="#1a1a1a" stroke="#1a1a1a" stroke-width="0.3">0</text>
<line x1="435.50" y1="504.55" x2="439.80" y2="504.55" stroke="#000" stroke-width="2"/>
<text x="429.90" y="509.35" font-family="Liberation Sans, sans-serif" font-size="19.5" text-anchor="end" textLength="11.17" lengthAdjust="spacingAndGlyphs" fill="#1a1a1a" stroke="#1a1a1a" stroke-width="0.3">4</text>
<line x1="435.50" y1="465.50" x2="439.80" y2="465.50" stroke="#000" stroke-width="2"/>
<text x="429.90" y="470.30" font-family="Liberation Sans, sans-serif" font-size="19.5" text-anchor="end" textLength="11.17" lengthAdjust="spacingAndGlyphs" fill="#1a1a1a" stroke="#1a1a1a" stroke-width="0.3">8</text>
<line x1="435.50" y1="426.45" x2="439.80" y2="426.45" stroke="#000" stroke-width="2"/>
<text x="429.90" y="431.25" font-family="Liberation Sans, sans-serif" font-size="19.5" text-anchor="end" textLength="21.47" lengthAdjust="spacingAndGlyphs" fill="#1a1a1a" stroke="#1a1a1a" stroke-width="0.3">12</text>
<line x1="435.50" y1="387.40" x2="439.80" y2="387.40" stroke="#000" stroke-width="2"/>
<text x="429.90" y="392.20" font-family="Liberation Sans, sans-serif" font-size="19.5" text-anchor="end" textLength="21.47" lengthAdjust="spacingAndGlyphs" fill="#1a1a1a" stroke="#1a1a1a" stroke-width="0.3">16</text>
<line x1="435.50" y1="348.35" x2="439.80" y2="348.35" stroke="#000" stroke-width="2"/>
<text x="429.90" y="353.15" font-family="Liberation Sans, sans-serif" font-size="19.5" text-anchor="end" textLength="22.33" lengthAdjust="spacingAndGlyphs" fill="#1a1a1a" stroke="#1a1a1a" stroke-width="0.3">20</text>
<text x="580.85" y="614.30" font-family="Liberation Sans, sans-serif" font-size="25.6" text-anchor="middle" textLength="97.0" lengthAdjust="spacingAndGlyphs" fill="#111">Time (s)</text>
<g transform="translate(401.20 445.50) rotate(-90)"><text x="0" y="0" font-family="Liberation Sans, sans-serif" font-size="26.3" text-anchor="middle" fill="#111" textLength="72.5" lengthAdjust="spacingAndGlyphs">ΔC/C<tspan font-size="16.7" dy="7.3">0</tspan></text></g>
<text x="610.00" y="357.40" font-family="Liberation Sans, sans-serif" font-size="13.90" fill="#262626" stroke="#262626" stroke-width="0.25" textLength="95.6" lengthAdjust="spacingAndGlyphs">PVA/H<tspan font-size="9.17" dy="3">3</tspan><tspan dy="-3">PO</tspan><tspan font-size="9.17" dy="3">4</tspan><tspan dy="-3">(1.6)</tspan></text>
<text x="380.50" y="328.80" font-family="Liberation Sans, sans-serif" font-size="40.5" fill="#000">d</text>
</g>
</svg>
</body></html>
